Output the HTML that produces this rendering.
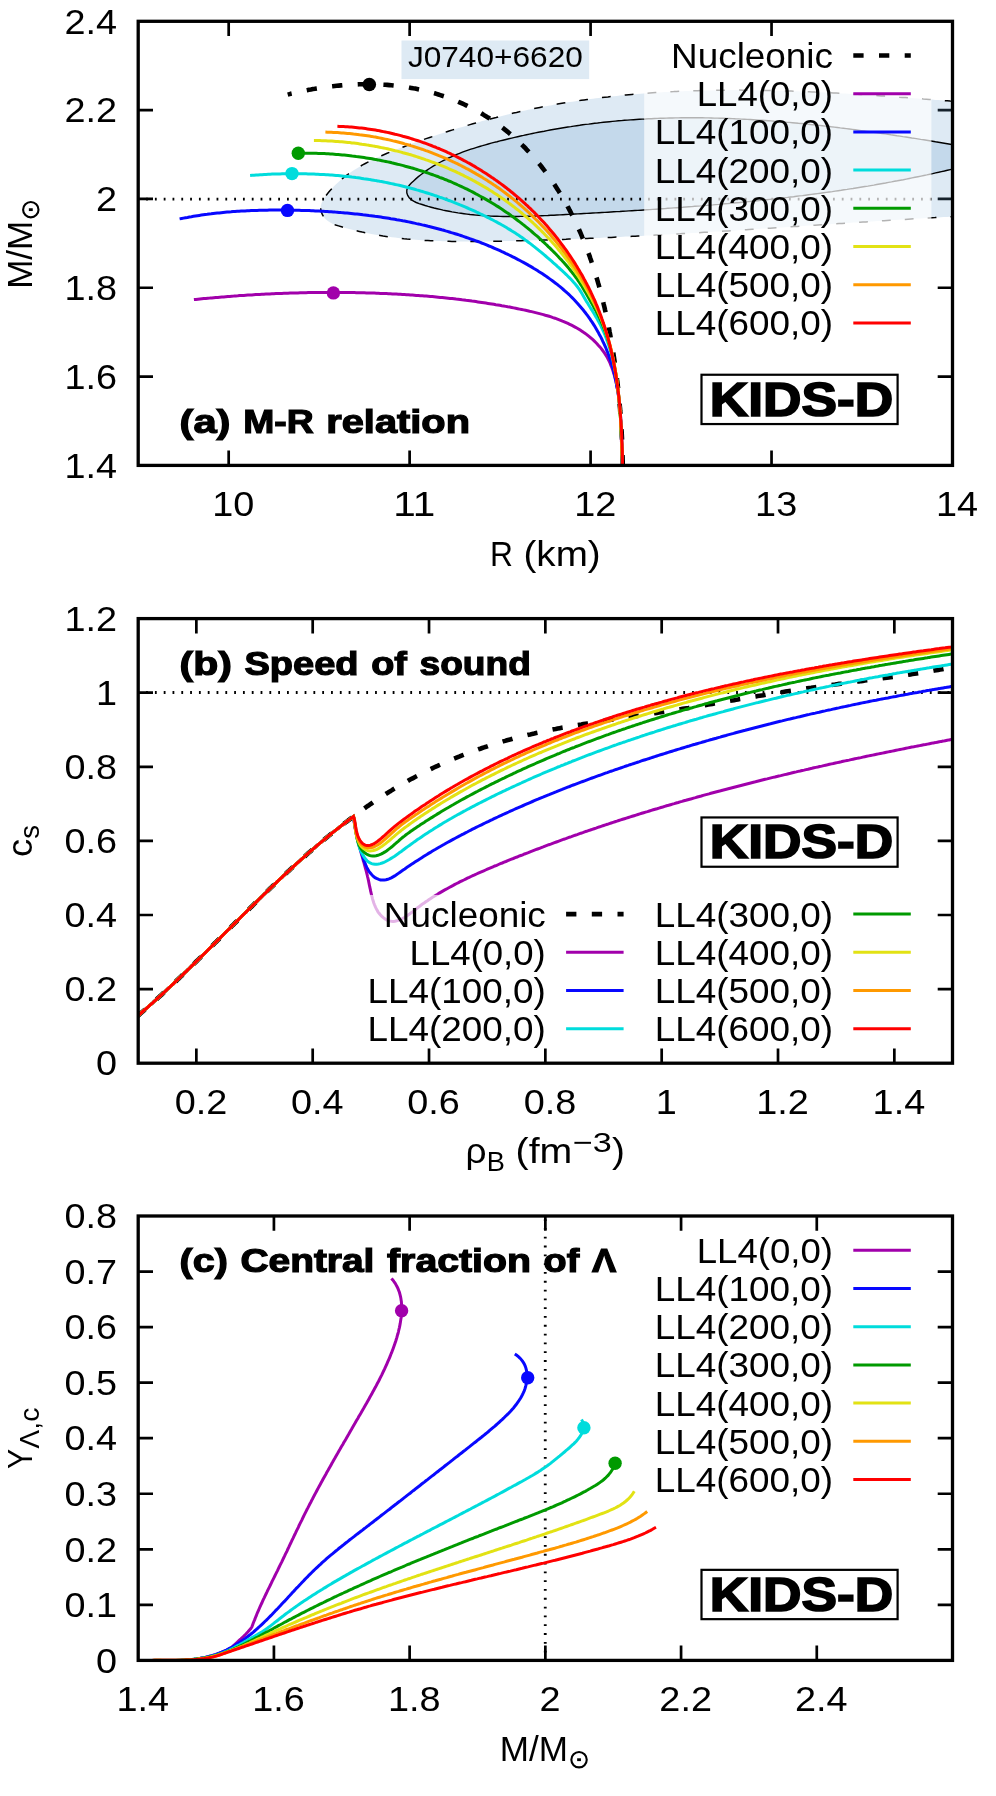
<!DOCTYPE html>
<html><head><meta charset="utf-8"><title>KIDS-D</title>
<style>html,body{margin:0;padding:0;background:#fff}svg{display:block;will-change:transform}text{font-family:"Liberation Sans", sans-serif;fill:#000}</style></head><body>
<svg width="996" height="1796" viewBox="0 0 996 1796" fill="none" stroke-linecap="butt" stroke-linejoin="miter">
<rect width="996" height="1796" fill="#fff"/>
<defs>
<clipPath id="ca"><rect x="138.20" y="21.30" width="814.30" height="444.10"/></clipPath>
<clipPath id="cb"><rect x="138.20" y="618.60" width="814.30" height="444.60"/></clipPath>
<clipPath id="cc"><rect x="138.20" y="1216.00" width="814.30" height="444.40"/></clipPath>
</defs>
<path d="M228.68,465.40 v-14.80 M228.68,21.30 v14.80 M409.63,465.40 v-14.80 M409.63,21.30 v14.80 M590.59,465.40 v-14.80 M590.59,21.30 v14.80 M771.54,465.40 v-14.80 M771.54,21.30 v14.80 M138.20,376.58 h14.80 M952.50,376.58 h-14.80 M138.20,287.76 h14.80 M952.50,287.76 h-14.80 M138.20,198.94 h14.80 M952.50,198.94 h-14.80 M138.20,110.12 h14.80 M952.50,110.12 h-14.80" stroke="#000" stroke-width="2.70"/>
<g clip-path="url(#ca)">
<path d="M962.0,102.0 959.0,101.8 956.1,101.5 953.1,101.3 950.1,101.1 947.1,100.8 944.2,100.6 941.2,100.3 938.2,100.1 935.2,99.9 932.2,99.6 929.3,99.4 926.3,99.2 923.3,99.0 920.3,98.7 917.3,98.5 914.3,98.3 911.3,98.0 908.3,97.8 905.4,97.6 902.4,97.4 899.4,97.2 896.4,96.9 893.4,96.7 890.4,96.5 887.4,96.3 884.4,96.1 881.4,95.9 878.4,95.7 875.4,95.5 872.4,95.3 869.4,95.1 866.4,94.9 863.4,94.7 860.4,94.5 857.4,94.3 854.3,94.1 851.3,94.0 848.3,93.8 845.3,93.6 842.3,93.4 839.3,93.3 836.3,93.1 833.3,92.9 830.3,92.8 827.3,92.6 824.2,92.5 821.2,92.3 818.2,92.2 815.2,92.1 812.2,91.9 809.2,91.8 806.2,91.7 803.1,91.5 800.1,91.4 797.1,91.3 794.1,91.2 791.1,91.1 788.1,91.0 785.1,90.9 782.0,90.8 779.0,90.7 776.0,90.7 773.0,90.6 770.0,90.5 767.0,90.5 764.0,90.4 760.9,90.4 757.9,90.3 754.9,90.3 751.9,90.2 748.9,90.2 745.9,90.2 742.9,90.2 739.8,90.1 736.8,90.1 733.8,90.1 730.8,90.1 727.8,90.2 724.8,90.2 721.8,90.2 718.8,90.2 715.7,90.3 712.7,90.3 709.7,90.4 706.7,90.4 703.7,90.5 700.7,90.6 697.7,90.7 694.7,90.7 691.7,90.8 688.7,90.9 685.7,91.1 682.7,91.2 679.7,91.3 676.7,91.4 673.7,91.6 670.7,91.7 667.7,91.9 664.7,92.1 661.7,92.2 658.7,92.4 655.7,92.6 652.7,92.8 649.7,93.0 646.7,93.2 643.7,93.4 640.7,93.7 637.7,93.9 634.7,94.2 631.8,94.4 628.8,94.7 625.8,95.0 622.8,95.3 619.8,95.6 616.8,95.9 613.9,96.2 610.9,96.5 607.9,96.9 604.9,97.2 602.0,97.6 599.0,97.9 596.0,98.3 593.0,98.7 590.1,99.1 587.1,99.5 584.1,99.9 581.2,100.3 578.2,100.8 575.3,101.2 572.3,101.7 569.3,102.1 566.4,102.6 563.4,103.1 560.5,103.6 557.5,104.1 554.6,104.6 551.7,105.2 548.7,105.7 545.8,106.3 542.8,106.8 539.9,107.4 537.0,108.0 534.0,108.6 531.1,109.2 528.2,109.8 525.2,110.5 522.3,111.1 519.4,111.8 516.5,112.5 513.5,113.1 510.6,113.8 507.7,114.5 504.8,115.2 501.9,116.0 499.0,116.7 496.1,117.5 493.2,118.2 490.2,119.0 487.3,119.8 484.4,120.5 481.5,121.3 478.7,122.2 475.8,123.0 472.9,123.8 470.0,124.6 467.1,125.5 464.2,126.4 461.3,127.2 458.4,128.1 455.6,129.0 452.7,129.9 449.8,130.8 446.9,131.7 444.0,132.7 441.2,133.6 438.3,134.6 435.4,135.5 432.6,136.5 429.7,137.5 426.9,138.4 424.0,139.4 421.1,140.4 418.3,141.5 415.4,142.5 412.6,143.5 409.7,144.6 406.9,145.6 404.0,146.7 401.2,147.7 398.4,148.8 395.5,149.9 392.7,151.0 389.9,152.2 387.1,153.3 384.3,154.5 381.5,155.7 378.7,156.9 376.0,158.1 373.3,159.4 370.6,160.7 367.9,162.1 365.3,163.5 362.6,164.9 360.1,166.4 357.5,167.9 355.0,169.5 352.5,171.1 350.1,172.7 347.7,174.5 345.3,176.2 343.0,178.1 340.7,180.0 338.5,182.0 336.3,184.0 334.2,186.1 332.2,188.3 330.1,190.5 328.2,192.8 326.3,195.2 324.5,197.7 322.9,200.3 321.6,203.0 320.8,205.8 320.7,208.8 321.3,211.8 322.4,214.7 323.9,217.2 325.7,219.3 327.9,221.1 330.3,222.6 332.9,223.9 335.7,225.0 338.5,225.9 341.5,226.8 344.4,227.7 347.4,228.5 350.4,229.3 353.3,230.0 356.3,230.7 359.3,231.4 362.2,232.1 365.2,232.7 368.2,233.3 371.1,233.9 374.1,234.5 377.1,235.0 380.1,235.5 383.1,236.0 386.0,236.4 389.0,236.8 392.0,237.3 395.0,237.6 398.0,238.0 401.0,238.3 403.9,238.7 406.9,239.0 409.9,239.2 412.9,239.5 415.9,239.7 418.9,240.0 421.9,240.2 424.9,240.4 427.9,240.5 430.9,240.7 433.9,240.8 436.9,240.9 439.9,241.1 442.9,241.2 445.9,241.2 448.9,241.3 451.9,241.4 454.9,241.4 457.9,241.5 460.9,241.5 463.9,241.5 466.9,241.5 469.9,241.5 472.9,241.5 475.9,241.5 478.9,241.5 481.9,241.4 484.9,241.4 487.9,241.4 490.9,241.3 493.9,241.3 496.9,241.2 500.0,241.2 503.0,241.1 506.0,241.0 509.0,241.0 512.0,240.9 515.0,240.8 518.0,240.8 521.0,240.7 524.0,240.6 527.0,240.5 530.0,240.4 533.0,240.3 536.0,240.3 539.0,240.2 542.0,240.1 545.0,240.0 548.0,239.9 551.0,239.8 554.0,239.7 557.0,239.6 560.0,239.5 563.0,239.4 566.0,239.3 569.0,239.1 572.0,239.0 575.0,238.9 578.1,238.8 581.1,238.7 584.1,238.6 587.1,238.4 590.1,238.3 593.1,238.2 596.1,238.0 599.1,237.9 602.1,237.8 605.1,237.6 608.1,237.5 611.1,237.4 614.1,237.2 617.1,237.1 620.1,236.9 623.1,236.8 626.1,236.6 629.1,236.5 632.1,236.3 635.1,236.2 638.1,236.0 641.1,235.9 644.1,235.7 647.1,235.6 650.1,235.4 653.1,235.3 656.1,235.1 659.1,234.9 662.1,234.8 665.1,234.6 668.1,234.4 671.1,234.3 674.1,234.1 677.1,233.9 680.1,233.8 683.1,233.6 686.1,233.4 689.1,233.2 692.1,233.1 695.1,232.9 698.1,232.7 701.1,232.5 704.1,232.3 707.1,232.2 710.1,232.0 713.1,231.8 716.1,231.6 719.1,231.4 722.1,231.2 725.1,231.0 728.1,230.9 731.1,230.7 734.1,230.5 737.1,230.3 740.1,230.1 743.1,229.9 746.1,229.7 749.1,229.5 752.1,229.3 755.1,229.1 758.1,229.0 761.1,228.8 764.1,228.6 767.1,228.4 770.1,228.2 773.1,228.0 776.1,227.8 779.1,227.6 782.1,227.4 785.1,227.2 788.1,227.0 791.1,226.8 794.1,226.6 797.1,226.4 800.1,226.2 803.1,226.0 806.1,225.8 809.1,225.6 812.1,225.4 815.0,225.2 818.0,225.0 821.0,224.8 824.0,224.6 827.0,224.4 830.0,224.2 833.0,224.0 836.0,223.8 839.0,223.6 842.0,223.4 845.0,223.2 848.0,223.0 851.0,222.8 854.0,222.6 857.0,222.5 860.0,222.3 863.0,222.1 866.0,221.9 869.0,221.7 872.0,221.5 875.0,221.3 878.0,221.1 881.0,220.9 884.0,220.7 887.0,220.5 890.0,220.3 893.0,220.1 896.0,219.9 899.0,219.8 902.0,219.6 905.0,219.4 908.0,219.2 911.0,219.0 914.0,218.8 917.0,218.6 920.0,218.5 923.0,218.3 926.0,218.1 929.0,217.9 932.0,217.7 935.0,217.6 938.0,217.4 941.0,217.2 944.0,217.0 947.0,216.9 950.0,216.7 953.0,216.5 956.0,216.3 959.0,216.2 962.0,216.0 Z" fill="#649bcd" fill-opacity="0.21" stroke="none"/>
<path d="M962.0,146.2 959.1,145.7 956.1,145.2 953.2,144.7 950.2,144.2 947.3,143.7 944.3,143.2 941.4,142.7 938.4,142.2 935.5,141.8 932.5,141.3 929.6,140.8 926.6,140.3 923.7,139.8 920.7,139.4 917.7,138.9 914.8,138.4 911.8,138.0 908.8,137.5 905.9,137.0 902.9,136.6 899.9,136.1 897.0,135.7 894.0,135.2 891.0,134.8 888.0,134.3 885.1,133.9 882.1,133.5 879.1,133.0 876.1,132.6 873.2,132.2 870.2,131.8 867.2,131.4 864.2,131.0 861.2,130.6 858.2,130.2 855.2,129.8 852.3,129.4 849.3,129.0 846.3,128.6 843.3,128.2 840.3,127.9 837.3,127.5 834.3,127.1 831.3,126.8 828.3,126.4 825.3,126.1 822.3,125.7 819.3,125.4 816.3,125.1 813.4,124.8 810.4,124.5 807.4,124.1 804.4,123.8 801.4,123.5 798.4,123.3 795.4,123.0 792.4,122.7 789.4,122.4 786.4,122.2 783.4,121.9 780.4,121.7 777.4,121.4 774.3,121.2 771.3,120.9 768.3,120.7 765.3,120.5 762.3,120.3 759.3,120.1 756.3,119.9 753.3,119.7 750.3,119.5 747.3,119.4 744.3,119.2 741.3,119.1 738.3,118.9 735.3,118.8 732.3,118.6 729.3,118.5 726.3,118.4 723.3,118.3 720.3,118.2 717.3,118.1 714.3,118.1 711.3,118.0 708.3,117.9 705.3,117.9 702.3,117.8 699.3,117.8 696.3,117.8 693.3,117.8 690.3,117.8 687.3,117.8 684.3,117.8 681.3,117.8 678.3,117.9 675.3,117.9 672.3,118.0 669.3,118.0 666.3,118.1 663.3,118.2 660.3,118.3 657.3,118.4 654.3,118.5 651.3,118.7 648.3,118.8 645.3,119.0 642.3,119.1 639.3,119.3 636.3,119.5 633.4,119.7 630.4,119.9 627.4,120.1 624.4,120.3 621.4,120.6 618.4,120.8 615.4,121.1 612.5,121.4 609.5,121.7 606.5,122.0 603.5,122.3 600.5,122.6 597.6,123.0 594.6,123.3 591.6,123.7 588.6,124.1 585.7,124.4 582.7,124.8 579.7,125.3 576.7,125.7 573.8,126.1 570.8,126.6 567.8,127.0 564.9,127.5 561.9,128.0 559.0,128.5 556.0,129.0 553.0,129.5 550.1,130.0 547.1,130.6 544.2,131.2 541.2,131.7 538.3,132.3 535.3,132.9 532.4,133.5 529.4,134.1 526.5,134.7 523.5,135.4 520.6,136.0 517.6,136.7 514.7,137.4 511.7,138.1 508.8,138.8 505.9,139.5 502.9,140.2 500.0,140.9 497.1,141.7 494.1,142.4 491.2,143.2 488.3,144.0 485.4,144.8 482.5,145.7 479.6,146.5 476.7,147.4 473.8,148.3 470.9,149.2 468.1,150.2 465.2,151.2 462.4,152.2 459.6,153.3 456.8,154.4 454.1,155.6 451.3,156.8 448.6,158.0 445.9,159.3 443.2,160.6 440.6,162.0 438.0,163.4 435.4,164.9 432.8,166.4 430.3,168.0 427.8,169.7 425.3,171.4 422.9,173.2 420.5,175.0 418.1,176.9 415.8,178.9 413.6,180.9 411.3,183.1 409.3,185.3 407.7,187.6 406.8,190.1 406.8,192.8 407.7,195.5 409.2,197.7 411.2,199.6 413.6,201.2 416.2,202.5 419.1,203.6 422.1,204.5 425.1,205.5 428.1,206.4 431.1,207.2 434.1,208.0 437.1,208.7 440.1,209.4 443.1,210.1 446.1,210.7 449.1,211.3 452.0,211.9 455.0,212.4 458.0,212.9 461.0,213.3 464.0,213.7 467.0,214.1 470.0,214.5 473.0,214.8 476.0,215.1 479.0,215.3 482.0,215.6 485.0,215.8 488.0,215.9 491.0,216.1 494.0,216.2 497.0,216.3 500.0,216.4 503.0,216.5 506.0,216.5 508.9,216.5 511.9,216.5 514.9,216.5 517.9,216.5 520.9,216.4 523.9,216.4 526.9,216.3 529.9,216.2 532.9,216.1 535.9,216.0 538.9,215.9 541.9,215.7 544.9,215.6 547.9,215.5 550.9,215.3 553.9,215.2 556.9,215.0 559.9,214.9 562.9,214.7 565.9,214.5 568.9,214.4 571.9,214.2 574.9,214.0 577.9,213.9 580.9,213.7 583.9,213.5 586.9,213.4 589.9,213.2 592.9,213.0 595.9,212.9 598.9,212.7 601.9,212.5 604.9,212.4 607.9,212.2 610.9,212.0 613.9,211.8 616.9,211.6 619.9,211.5 622.9,211.3 625.9,211.1 628.9,210.9 631.9,210.7 634.9,210.5 637.9,210.4 640.9,210.2 643.9,210.0 646.9,209.8 649.9,209.6 652.9,209.4 655.9,209.2 658.9,209.0 661.9,208.8 664.9,208.6 667.9,208.3 670.9,208.1 673.9,207.9 676.9,207.7 679.9,207.5 682.9,207.3 685.9,207.0 688.9,206.8 691.9,206.6 694.9,206.3 697.9,206.1 700.9,205.9 703.9,205.6 706.9,205.4 709.9,205.1 712.9,204.9 715.8,204.6 718.8,204.4 721.8,204.1 724.8,203.8 727.8,203.6 730.8,203.3 733.8,203.0 736.8,202.7 739.8,202.5 742.8,202.2 745.8,201.9 748.8,201.6 751.8,201.3 754.8,201.0 757.7,200.7 760.7,200.4 763.7,200.1 766.7,199.7 769.7,199.4 772.7,199.1 775.7,198.8 778.7,198.4 781.6,198.1 784.6,197.7 787.6,197.4 790.6,197.0 793.6,196.7 796.6,196.3 799.5,195.9 802.5,195.6 805.5,195.2 808.5,194.8 811.4,194.4 814.4,194.0 817.4,193.6 820.4,193.2 823.3,192.8 826.3,192.4 829.3,192.0 832.3,191.6 835.2,191.1 838.2,190.7 841.2,190.3 844.1,189.8 847.1,189.4 850.1,188.9 853.0,188.5 856.0,188.0 859.0,187.5 861.9,187.0 864.9,186.5 867.9,186.1 870.8,185.6 873.8,185.1 876.7,184.5 879.7,184.0 882.6,183.5 885.6,183.0 888.6,182.4 891.5,181.9 894.5,181.3 897.4,180.8 900.4,180.2 903.3,179.7 906.3,179.1 909.2,178.5 912.1,177.9 915.1,177.3 918.0,176.7 921.0,176.1 923.9,175.5 926.8,174.9 929.8,174.2 932.7,173.6 935.7,172.9 938.6,172.3 941.5,171.6 944.4,171.0 947.4,170.3 950.3,169.6 953.2,168.9 956.2,168.2 959.1,167.5 962.0,166.8 Z" fill="#649bcd" fill-opacity="0.21" stroke="none"/>
<path d="M962.0,102.0 959.0,101.8 956.1,101.5 953.1,101.3 950.1,101.1 947.1,100.8 944.2,100.6 941.2,100.3 938.2,100.1 935.2,99.9 932.2,99.6 929.3,99.4 926.3,99.2 923.3,99.0 920.3,98.7 917.3,98.5 914.3,98.3 911.3,98.0 908.3,97.8 905.4,97.6 902.4,97.4 899.4,97.2 896.4,96.9 893.4,96.7 890.4,96.5 887.4,96.3 884.4,96.1 881.4,95.9 878.4,95.7 875.4,95.5 872.4,95.3 869.4,95.1 866.4,94.9 863.4,94.7 860.4,94.5 857.4,94.3 854.3,94.1 851.3,94.0 848.3,93.8 845.3,93.6 842.3,93.4 839.3,93.3 836.3,93.1 833.3,92.9 830.3,92.8 827.3,92.6 824.2,92.5 821.2,92.3 818.2,92.2 815.2,92.1 812.2,91.9 809.2,91.8 806.2,91.7 803.1,91.5 800.1,91.4 797.1,91.3 794.1,91.2 791.1,91.1 788.1,91.0 785.1,90.9 782.0,90.8 779.0,90.7 776.0,90.7 773.0,90.6 770.0,90.5 767.0,90.5 764.0,90.4 760.9,90.4 757.9,90.3 754.9,90.3 751.9,90.2 748.9,90.2 745.9,90.2 742.9,90.2 739.8,90.1 736.8,90.1 733.8,90.1 730.8,90.1 727.8,90.2 724.8,90.2 721.8,90.2 718.8,90.2 715.7,90.3 712.7,90.3 709.7,90.4 706.7,90.4 703.7,90.5 700.7,90.6 697.7,90.7 694.7,90.7 691.7,90.8 688.7,90.9 685.7,91.1 682.7,91.2 679.7,91.3 676.7,91.4 673.7,91.6 670.7,91.7 667.7,91.9 664.7,92.1 661.7,92.2 658.7,92.4 655.7,92.6 652.7,92.8 649.7,93.0 646.7,93.2 643.7,93.4 640.7,93.7 637.7,93.9 634.7,94.2 631.8,94.4 628.8,94.7 625.8,95.0 622.8,95.3 619.8,95.6 616.8,95.9 613.9,96.2 610.9,96.5 607.9,96.9 604.9,97.2 602.0,97.6 599.0,97.9 596.0,98.3 593.0,98.7 590.1,99.1 587.1,99.5 584.1,99.9 581.2,100.3 578.2,100.8 575.3,101.2 572.3,101.7 569.3,102.1 566.4,102.6 563.4,103.1 560.5,103.6 557.5,104.1 554.6,104.6 551.7,105.2 548.7,105.7 545.8,106.3 542.8,106.8 539.9,107.4 537.0,108.0 534.0,108.6 531.1,109.2 528.2,109.8 525.2,110.5 522.3,111.1 519.4,111.8 516.5,112.5 513.5,113.1 510.6,113.8 507.7,114.5 504.8,115.2 501.9,116.0 499.0,116.7 496.1,117.5 493.2,118.2 490.2,119.0 487.3,119.8 484.4,120.5 481.5,121.3 478.7,122.2 475.8,123.0 472.9,123.8 470.0,124.6 467.1,125.5 464.2,126.4 461.3,127.2 458.4,128.1 455.6,129.0 452.7,129.9 449.8,130.8 446.9,131.7 444.0,132.7 441.2,133.6 438.3,134.6 435.4,135.5 432.6,136.5 429.7,137.5 426.9,138.4 424.0,139.4 421.1,140.4 418.3,141.5 415.4,142.5 412.6,143.5 409.7,144.6 406.9,145.6 404.0,146.7 401.2,147.7 398.4,148.8 395.5,149.9 392.7,151.0 389.9,152.2 387.1,153.3 384.3,154.5 381.5,155.7 378.7,156.9 376.0,158.1 373.3,159.4 370.6,160.7 367.9,162.1 365.3,163.5 362.6,164.9 360.1,166.4 357.5,167.9 355.0,169.5 352.5,171.1 350.1,172.7 347.7,174.5 345.3,176.2 343.0,178.1 340.7,180.0 338.5,182.0 336.3,184.0 334.2,186.1 332.2,188.3 330.1,190.5 328.2,192.8 326.3,195.2 324.5,197.7 322.9,200.3 321.6,203.0 320.8,205.8 320.7,208.8 321.3,211.8 322.4,214.7 323.9,217.2 325.7,219.3 327.9,221.1 330.3,222.6 332.9,223.9 335.7,225.0 338.5,225.9 341.5,226.8 344.4,227.7 347.4,228.5 350.4,229.3 353.3,230.0 356.3,230.7 359.3,231.4 362.2,232.1 365.2,232.7 368.2,233.3 371.1,233.9 374.1,234.5 377.1,235.0 380.1,235.5 383.1,236.0 386.0,236.4 389.0,236.8 392.0,237.3 395.0,237.6 398.0,238.0 401.0,238.3 403.9,238.7 406.9,239.0 409.9,239.2 412.9,239.5 415.9,239.7 418.9,240.0 421.9,240.2 424.9,240.4 427.9,240.5 430.9,240.7 433.9,240.8 436.9,240.9 439.9,241.1 442.9,241.2 445.9,241.2 448.9,241.3 451.9,241.4 454.9,241.4 457.9,241.5 460.9,241.5 463.9,241.5 466.9,241.5 469.9,241.5 472.9,241.5 475.9,241.5 478.9,241.5 481.9,241.4 484.9,241.4 487.9,241.4 490.9,241.3 493.9,241.3 496.9,241.2 500.0,241.2 503.0,241.1 506.0,241.0 509.0,241.0 512.0,240.9 515.0,240.8 518.0,240.8 521.0,240.7 524.0,240.6 527.0,240.5 530.0,240.4 533.0,240.3 536.0,240.3 539.0,240.2 542.0,240.1 545.0,240.0 548.0,239.9 551.0,239.8 554.0,239.7 557.0,239.6 560.0,239.5 563.0,239.4 566.0,239.3 569.0,239.1 572.0,239.0 575.0,238.9 578.1,238.8 581.1,238.7 584.1,238.6 587.1,238.4 590.1,238.3 593.1,238.2 596.1,238.0 599.1,237.9 602.1,237.8 605.1,237.6 608.1,237.5 611.1,237.4 614.1,237.2 617.1,237.1 620.1,236.9 623.1,236.8 626.1,236.6 629.1,236.5 632.1,236.3 635.1,236.2 638.1,236.0 641.1,235.9 644.1,235.7 647.1,235.6 650.1,235.4 653.1,235.3 656.1,235.1 659.1,234.9 662.1,234.8 665.1,234.6 668.1,234.4 671.1,234.3 674.1,234.1 677.1,233.9 680.1,233.8 683.1,233.6 686.1,233.4 689.1,233.2 692.1,233.1 695.1,232.9 698.1,232.7 701.1,232.5 704.1,232.3 707.1,232.2 710.1,232.0 713.1,231.8 716.1,231.6 719.1,231.4 722.1,231.2 725.1,231.0 728.1,230.9 731.1,230.7 734.1,230.5 737.1,230.3 740.1,230.1 743.1,229.9 746.1,229.7 749.1,229.5 752.1,229.3 755.1,229.1 758.1,229.0 761.1,228.8 764.1,228.6 767.1,228.4 770.1,228.2 773.1,228.0 776.1,227.8 779.1,227.6 782.1,227.4 785.1,227.2 788.1,227.0 791.1,226.8 794.1,226.6 797.1,226.4 800.1,226.2 803.1,226.0 806.1,225.8 809.1,225.6 812.1,225.4 815.0,225.2 818.0,225.0 821.0,224.8 824.0,224.6 827.0,224.4 830.0,224.2 833.0,224.0 836.0,223.8 839.0,223.6 842.0,223.4 845.0,223.2 848.0,223.0 851.0,222.8 854.0,222.6 857.0,222.5 860.0,222.3 863.0,222.1 866.0,221.9 869.0,221.7 872.0,221.5 875.0,221.3 878.0,221.1 881.0,220.9 884.0,220.7 887.0,220.5 890.0,220.3 893.0,220.1 896.0,219.9 899.0,219.8 902.0,219.6 905.0,219.4 908.0,219.2 911.0,219.0 914.0,218.8 917.0,218.6 920.0,218.5 923.0,218.3 926.0,218.1 929.0,217.9 932.0,217.7 935.0,217.6 938.0,217.4 941.0,217.2 944.0,217.0 947.0,216.9 950.0,216.7 953.0,216.5 956.0,216.3 959.0,216.2 962.0,216.0" stroke="#000" stroke-width="1.5" stroke-dasharray="8.8 14.1" stroke-dashoffset="14.46"/>
<path d="M962.0,146.2 959.1,145.7 956.1,145.2 953.2,144.7 950.2,144.2 947.3,143.7 944.3,143.2 941.4,142.7 938.4,142.2 935.5,141.8 932.5,141.3 929.6,140.8 926.6,140.3 923.7,139.8 920.7,139.4 917.7,138.9 914.8,138.4 911.8,138.0 908.8,137.5 905.9,137.0 902.9,136.6 899.9,136.1 897.0,135.7 894.0,135.2 891.0,134.8 888.0,134.3 885.1,133.9 882.1,133.5 879.1,133.0 876.1,132.6 873.2,132.2 870.2,131.8 867.2,131.4 864.2,131.0 861.2,130.6 858.2,130.2 855.2,129.8 852.3,129.4 849.3,129.0 846.3,128.6 843.3,128.2 840.3,127.9 837.3,127.5 834.3,127.1 831.3,126.8 828.3,126.4 825.3,126.1 822.3,125.7 819.3,125.4 816.3,125.1 813.4,124.8 810.4,124.5 807.4,124.1 804.4,123.8 801.4,123.5 798.4,123.3 795.4,123.0 792.4,122.7 789.4,122.4 786.4,122.2 783.4,121.9 780.4,121.7 777.4,121.4 774.3,121.2 771.3,120.9 768.3,120.7 765.3,120.5 762.3,120.3 759.3,120.1 756.3,119.9 753.3,119.7 750.3,119.5 747.3,119.4 744.3,119.2 741.3,119.1 738.3,118.9 735.3,118.8 732.3,118.6 729.3,118.5 726.3,118.4 723.3,118.3 720.3,118.2 717.3,118.1 714.3,118.1 711.3,118.0 708.3,117.9 705.3,117.9 702.3,117.8 699.3,117.8 696.3,117.8 693.3,117.8 690.3,117.8 687.3,117.8 684.3,117.8 681.3,117.8 678.3,117.9 675.3,117.9 672.3,118.0 669.3,118.0 666.3,118.1 663.3,118.2 660.3,118.3 657.3,118.4 654.3,118.5 651.3,118.7 648.3,118.8 645.3,119.0 642.3,119.1 639.3,119.3 636.3,119.5 633.4,119.7 630.4,119.9 627.4,120.1 624.4,120.3 621.4,120.6 618.4,120.8 615.4,121.1 612.5,121.4 609.5,121.7 606.5,122.0 603.5,122.3 600.5,122.6 597.6,123.0 594.6,123.3 591.6,123.7 588.6,124.1 585.7,124.4 582.7,124.8 579.7,125.3 576.7,125.7 573.8,126.1 570.8,126.6 567.8,127.0 564.9,127.5 561.9,128.0 559.0,128.5 556.0,129.0 553.0,129.5 550.1,130.0 547.1,130.6 544.2,131.2 541.2,131.7 538.3,132.3 535.3,132.9 532.4,133.5 529.4,134.1 526.5,134.7 523.5,135.4 520.6,136.0 517.6,136.7 514.7,137.4 511.7,138.1 508.8,138.8 505.9,139.5 502.9,140.2 500.0,140.9 497.1,141.7 494.1,142.4 491.2,143.2 488.3,144.0 485.4,144.8 482.5,145.7 479.6,146.5 476.7,147.4 473.8,148.3 470.9,149.2 468.1,150.2 465.2,151.2 462.4,152.2 459.6,153.3 456.8,154.4 454.1,155.6 451.3,156.8 448.6,158.0 445.9,159.3 443.2,160.6 440.6,162.0 438.0,163.4 435.4,164.9 432.8,166.4 430.3,168.0 427.8,169.7 425.3,171.4 422.9,173.2 420.5,175.0 418.1,176.9 415.8,178.9 413.6,180.9 411.3,183.1 409.3,185.3 407.7,187.6 406.8,190.1 406.8,192.8 407.7,195.5 409.2,197.7 411.2,199.6 413.6,201.2 416.2,202.5 419.1,203.6 422.1,204.5 425.1,205.5 428.1,206.4 431.1,207.2 434.1,208.0 437.1,208.7 440.1,209.4 443.1,210.1 446.1,210.7 449.1,211.3 452.0,211.9 455.0,212.4 458.0,212.9 461.0,213.3 464.0,213.7 467.0,214.1 470.0,214.5 473.0,214.8 476.0,215.1 479.0,215.3 482.0,215.6 485.0,215.8 488.0,215.9 491.0,216.1 494.0,216.2 497.0,216.3 500.0,216.4 503.0,216.5 506.0,216.5 508.9,216.5 511.9,216.5 514.9,216.5 517.9,216.5 520.9,216.4 523.9,216.4 526.9,216.3 529.9,216.2 532.9,216.1 535.9,216.0 538.9,215.9 541.9,215.7 544.9,215.6 547.9,215.5 550.9,215.3 553.9,215.2 556.9,215.0 559.9,214.9 562.9,214.7 565.9,214.5 568.9,214.4 571.9,214.2 574.9,214.0 577.9,213.9 580.9,213.7 583.9,213.5 586.9,213.4 589.9,213.2 592.9,213.0 595.9,212.9 598.9,212.7 601.9,212.5 604.9,212.4 607.9,212.2 610.9,212.0 613.9,211.8 616.9,211.6 619.9,211.5 622.9,211.3 625.9,211.1 628.9,210.9 631.9,210.7 634.9,210.5 637.9,210.4 640.9,210.2 643.9,210.0 646.9,209.8 649.9,209.6 652.9,209.4 655.9,209.2 658.9,209.0 661.9,208.8 664.9,208.6 667.9,208.3 670.9,208.1 673.9,207.9 676.9,207.7 679.9,207.5 682.9,207.3 685.9,207.0 688.9,206.8 691.9,206.6 694.9,206.3 697.9,206.1 700.9,205.9 703.9,205.6 706.9,205.4 709.9,205.1 712.9,204.9 715.8,204.6 718.8,204.4 721.8,204.1 724.8,203.8 727.8,203.6 730.8,203.3 733.8,203.0 736.8,202.7 739.8,202.5 742.8,202.2 745.8,201.9 748.8,201.6 751.8,201.3 754.8,201.0 757.7,200.7 760.7,200.4 763.7,200.1 766.7,199.7 769.7,199.4 772.7,199.1 775.7,198.8 778.7,198.4 781.6,198.1 784.6,197.7 787.6,197.4 790.6,197.0 793.6,196.7 796.6,196.3 799.5,195.9 802.5,195.6 805.5,195.2 808.5,194.8 811.4,194.4 814.4,194.0 817.4,193.6 820.4,193.2 823.3,192.8 826.3,192.4 829.3,192.0 832.3,191.6 835.2,191.1 838.2,190.7 841.2,190.3 844.1,189.8 847.1,189.4 850.1,188.9 853.0,188.5 856.0,188.0 859.0,187.5 861.9,187.0 864.9,186.5 867.9,186.1 870.8,185.6 873.8,185.1 876.7,184.5 879.7,184.0 882.6,183.5 885.6,183.0 888.6,182.4 891.5,181.9 894.5,181.3 897.4,180.8 900.4,180.2 903.3,179.7 906.3,179.1 909.2,178.5 912.1,177.9 915.1,177.3 918.0,176.7 921.0,176.1 923.9,175.5 926.8,174.9 929.8,174.2 932.7,173.6 935.7,172.9 938.6,172.3 941.5,171.6 944.4,171.0 947.4,170.3 950.3,169.6 953.2,168.9 956.2,168.2 959.1,167.5 962.0,166.8" stroke="#000" stroke-width="1.4"/>
</g>
<rect x="401.5" y="40.5" width="187.7" height="38.6" fill="#649bcd" fill-opacity="0.21" stroke="none"/>
<text x="407.91" y="67.40" font-size="30.00" textLength="174.88" lengthAdjust="spacingAndGlyphs">J0740+6620</text>
<path d="M137.30,199.14 L936.70,199.14" stroke="#000" stroke-width="2.8" stroke-dasharray="1.8 7.006"/>
<g clip-path="url(#ca)">
<path d="M287.7,94.6 289.6,94.1 291.5,93.6 293.4,93.2 295.3,92.7 297.3,92.3 299.2,91.8 301.1,91.4 303.1,91.0 305.0,90.6 307.0,90.2 308.9,89.8 310.9,89.5 312.9,89.1 314.8,88.8 316.8,88.4 318.8,88.1 320.8,87.8 322.7,87.5 324.7,87.2 326.7,86.9 328.7,86.7 330.7,86.4 332.7,86.2 334.7,86.0 336.7,85.8 338.7,85.6 340.8,85.4 342.8,85.2 344.8,85.0 346.8,84.9 348.8,84.8 350.8,84.7 352.9,84.5 354.9,84.5 356.9,84.4 358.9,84.3 361.0,84.3 363.0,84.2 365.0,84.2 367.0,84.2 369.1,84.2 371.1,84.2 373.1,84.3 375.1,84.3 377.2,84.4 379.2,84.5 381.2,84.6 383.2,84.7 385.2,84.8 387.2,84.9 389.3,85.1 391.3,85.3 393.3,85.5 395.3,85.7 397.3,85.9 399.3,86.1 401.3,86.4 403.3,86.7 405.3,86.9 407.3,87.2 409.2,87.6 411.2,87.9 413.2,88.3 415.2,88.6 417.1,89.0 419.1,89.4 421.1,89.8 423.0,90.3 425.0,90.7 426.9,91.2 428.8,91.7 430.8,92.2 432.7,92.8 434.6,93.3 436.5,93.9 438.4,94.5 440.3,95.1 442.2,95.7 444.1,96.3 446.0,97.0 447.9,97.6 449.8,98.3 451.6,99.1 453.5,99.8 455.3,100.5 457.2,101.3 459.0,102.1 460.8,102.9 462.6,103.7 464.4,104.5 466.2,105.4 468.0,106.3 469.8,107.2 471.6,108.1 473.3,109.0 475.1,109.9 476.8,110.9 478.6,111.8 480.3,112.8 482.0,113.8 483.7,114.9 485.4,115.9 487.1,117.0 488.8,118.0 490.4,119.1 492.1,120.2 493.7,121.3 495.4,122.5 497.0,123.6 498.6,124.8 500.2,126.0 501.8,127.2 503.4,128.4 504.9,129.6 506.5,130.9 508.0,132.1 509.5,133.4 511.1,134.7 512.6,136.0 514.1,137.3 515.5,138.7 517.0,140.0 518.5,141.4 519.9,142.8 521.3,144.2 522.8,145.6 524.2,147.0 525.6,148.4 526.9,149.9 528.3,151.3 529.7,152.8 531.0,154.3 532.4,155.7 533.7,157.3 535.0,158.8 536.3,160.3 537.6,161.8 538.9,163.4 540.1,164.9 541.4,166.5 542.6,168.1 543.8,169.7 545.1,171.3 546.3,172.9 547.4,174.5 548.6,176.1 549.8,177.7 550.9,179.4 552.1,181.0 553.2,182.7 554.3,184.3 555.4,186.0 556.5,187.7 557.6,189.4 558.7,191.1 559.7,192.8 560.8,194.5 561.8,196.2 562.8,197.9 563.8,199.7 564.8,201.4 565.8,203.1 566.8,204.9 567.7,206.6 568.7,208.4 569.6,210.2 570.5,211.9 571.4,213.7 572.3,215.5 573.2,217.3 574.1,219.1 575.0,220.9 575.8,222.7 576.7,224.5 577.5,226.3 578.4,228.1 579.2,230.0 580.0,231.8 580.8,233.6 581.6,235.5 582.3,237.3 583.1,239.2 583.9,241.0 584.6,242.9 585.3,244.8 586.1,246.6 586.8,248.5 587.5,250.4 588.2,252.3 588.9,254.2 589.6,256.1 590.2,258.0 590.9,259.9 591.5,261.8 592.2,263.7 592.8,265.6 593.4,267.5 594.0,269.4 594.7,271.3 595.3,273.2 595.8,275.2 596.4,277.1 597.0,279.0 597.6,281.0 598.1,282.9 598.7,284.8 599.2,286.8 599.7,288.7 600.3,290.7 600.8,292.6 601.3,294.5 601.8,296.5 602.3,298.5 602.8,300.4 603.3,302.4 603.7,304.3 604.2,306.3 604.7,308.2 605.1,310.2 605.6,312.2 606.0,314.1 606.4,316.1 606.8,318.1 607.3,320.0 607.7,322.0 608.1,324.0 608.5,325.9 608.9,327.9 609.3,329.9 609.6,331.9 610.0,333.8 610.4,335.8 610.7,337.8 611.1,339.8 611.4,341.7 611.8,343.7 612.1,345.7 612.5,347.6 612.8,349.6 613.1,351.6 613.4,353.6 613.7,355.5 614.0,357.5 614.3,359.5 614.6,361.5 614.9,363.4 615.2,365.4 615.5,367.4 615.8,369.4 616.0,371.4 616.3,373.3 616.5,375.3 616.8,377.3 617.0,379.3 617.3,381.3 617.5,383.2 617.7,385.2 618.0,387.2 618.2,389.2 618.4,391.2 618.6,393.2 618.8,395.1 619.0,397.1 619.2,399.1 619.4,401.1 619.5,403.1 619.7,405.1 619.9,407.1 620.1,409.0 620.2,411.0 620.4,413.0 620.5,415.0 620.7,417.0 620.8,419.0 620.9,421.0 621.1,423.0 621.2,425.0 621.3,427.0 621.4,429.0 621.6,431.0 621.7,432.9 621.8,434.9 621.9,436.9 622.0,438.9 622.1,440.9 622.1,442.9 622.2,444.9 622.3,446.9 622.4,448.9 622.4,450.9 622.5,453.0 622.5,455.0 622.6,457.0 622.6,459.0 622.7,461.0 622.7,463.0 622.8,465.0 622.8,467.0" stroke="#000000" stroke-width="4.60" stroke-dasharray="10.3 15.4" stroke-dashoffset="6.18"/>
<path d="M193.9,299.6 195.9,299.4 197.9,299.2 199.9,299.0 201.9,298.8 203.8,298.6 205.8,298.4 207.8,298.2 209.8,298.1 211.8,297.9 213.8,297.7 215.8,297.5 217.8,297.4 219.8,297.2 221.8,297.0 223.8,296.9 225.8,296.7 227.8,296.5 229.8,296.4 231.8,296.2 233.8,296.1 235.8,295.9 237.8,295.8 239.8,295.6 241.8,295.5 243.8,295.4 245.8,295.2 247.8,295.1 249.8,295.0 251.8,294.9 253.8,294.7 255.8,294.6 257.8,294.5 259.8,294.4 261.8,294.3 263.8,294.2 265.9,294.1 267.9,294.0 269.9,293.9 271.9,293.8 273.9,293.7 275.9,293.6 277.9,293.5 279.9,293.4 281.9,293.4 283.9,293.3 285.9,293.2 288.0,293.2 290.0,293.1 292.0,293.0 294.0,293.0 296.0,292.9 298.0,292.9 300.0,292.8 302.0,292.8 304.1,292.7 306.1,292.7 308.1,292.6 310.1,292.6 312.1,292.6 314.1,292.5 316.1,292.5 318.1,292.5 320.1,292.5 322.2,292.4 324.2,292.4 326.2,292.4 328.2,292.4 330.2,292.4 332.2,292.4 334.2,292.4 336.2,292.4 338.2,292.4 340.3,292.4 342.3,292.5 344.3,292.5 346.3,292.5 348.3,292.5 350.3,292.5 352.3,292.6 354.3,292.6 356.3,292.7 358.3,292.7 360.3,292.7 362.3,292.8 364.4,292.8 366.4,292.9 368.4,293.0 370.4,293.0 372.4,293.1 374.4,293.1 376.4,293.2 378.4,293.3 380.4,293.4 382.4,293.5 384.4,293.5 386.4,293.6 388.4,293.7 390.4,293.8 392.4,293.9 394.4,294.0 396.4,294.1 398.4,294.2 400.4,294.3 402.4,294.5 404.4,294.6 406.4,294.7 408.4,294.8 410.4,295.0 412.4,295.1 414.3,295.2 416.3,295.4 418.3,295.5 420.3,295.7 422.3,295.8 424.3,296.0 426.3,296.1 428.3,296.3 430.3,296.5 432.3,296.6 434.2,296.8 436.2,297.0 438.2,297.2 440.2,297.4 442.2,297.6 444.2,297.8 446.2,298.0 448.2,298.2 450.1,298.4 452.1,298.6 454.1,298.8 456.1,299.1 458.1,299.3 460.1,299.5 462.1,299.8 464.0,300.0 466.0,300.3 468.0,300.5 470.0,300.8 472.0,301.1 474.0,301.3 475.9,301.6 477.9,301.9 479.9,302.2 481.9,302.5 483.9,302.8 485.9,303.1 487.9,303.4 489.8,303.7 491.8,304.0 493.8,304.3 495.8,304.7 497.8,305.0 499.8,305.3 501.8,305.7 503.7,306.0 505.7,306.4 507.7,306.8 509.7,307.1 511.7,307.5 513.7,307.9 515.7,308.3 517.7,308.7 519.6,309.1 521.6,309.5 523.6,309.9 525.6,310.3 527.6,310.7 529.6,311.2 531.6,311.6 533.6,312.1 535.5,312.6 537.5,313.1 539.5,313.6 541.4,314.1 543.4,314.6 545.3,315.2 547.3,315.7 549.2,316.3 551.1,316.9 553.0,317.6 555.0,318.2 556.8,318.9 558.7,319.6 560.6,320.3 562.5,321.1 564.3,321.8 566.1,322.6 567.9,323.4 569.7,324.3 571.5,325.2 573.3,326.1 575.1,327.1 576.8,328.0 578.5,329.0 580.2,330.1 581.9,331.2 583.5,332.3 585.2,333.4 586.8,334.6 588.4,335.9 589.9,337.1 591.4,338.4 592.9,339.7 594.4,341.1 595.8,342.5 597.2,343.9 598.5,345.4 599.9,346.9 601.1,348.4 602.3,350.0 603.5,351.6 604.6,353.2 605.7,354.9 606.7,356.6 607.7,358.3 608.6,360.1 609.5,361.9 610.3,363.7 611.0,365.6 611.8,367.5 612.5,369.4 613.1,371.3 613.7,373.2 614.3,375.1 614.8,377.1 615.3,379.0 615.8,381.0 616.2,383.0 616.7,385.0 617.1,386.9 617.4,388.9 617.8,390.9 618.1,392.9 618.4,394.9 618.7,396.9 618.9,398.9 619.2,400.8 619.4,402.8 619.6,404.8 619.8,406.8 620.0,408.9 620.1,410.9 620.3,412.9 620.4,414.9 620.5,416.9 620.6,418.9 620.7,420.9 620.8,422.9 620.9,424.9 621.0,426.9 621.1,428.9 621.1,431.0 621.2,433.0 621.2,435.0 621.3,437.0 621.4,439.0 621.4,441.0 621.5,443.0 621.5,445.0 621.6,447.0 621.7,449.0 621.7,451.0 621.8,453.1 621.9,455.1 622.0,457.0 622.1,459.0 622.2,461.0 622.3,463.0 622.5,465.0 622.6,467.0" stroke="#a100ab" stroke-width="3.00"/>
<path d="M179.6,218.9 181.6,218.5 183.5,218.1 185.5,217.7 187.5,217.4 189.4,217.0 191.4,216.7 193.4,216.3 195.4,216.0 197.3,215.7 199.3,215.4 201.3,215.1 203.3,214.8 205.2,214.5 207.2,214.3 209.2,214.0 211.2,213.8 213.2,213.5 215.2,213.3 217.2,213.1 219.2,212.9 221.2,212.7 223.1,212.5 225.1,212.3 227.1,212.1 229.1,211.9 231.1,211.8 233.1,211.6 235.1,211.5 237.1,211.3 239.1,211.2 241.1,211.1 243.1,211.0 245.1,210.9 247.1,210.8 249.1,210.7 251.1,210.6 253.1,210.5 255.1,210.5 257.1,210.4 259.1,210.3 261.1,210.3 263.1,210.2 265.1,210.2 267.2,210.2 269.2,210.1 271.2,210.1 273.2,210.1 275.2,210.1 277.2,210.1 279.2,210.1 281.2,210.1 283.2,210.1 285.2,210.1 287.2,210.1 289.2,210.1 291.2,210.1 293.2,210.2 295.2,210.2 297.2,210.3 299.2,210.3 301.2,210.4 303.2,210.4 305.2,210.5 307.2,210.5 309.2,210.6 311.2,210.7 313.2,210.8 315.2,210.9 317.2,211.0 319.2,211.1 321.2,211.2 323.2,211.3 325.2,211.4 327.2,211.5 329.2,211.7 331.2,211.8 333.2,211.9 335.2,212.1 337.1,212.2 339.1,212.4 341.1,212.6 343.1,212.7 345.1,212.9 347.1,213.1 349.1,213.3 351.1,213.5 353.1,213.7 355.1,213.9 357.1,214.1 359.1,214.3 361.1,214.5 363.0,214.8 365.0,215.0 367.0,215.2 369.0,215.5 371.0,215.7 373.0,216.0 375.0,216.3 377.0,216.5 378.9,216.8 380.9,217.1 382.9,217.4 384.9,217.7 386.9,218.0 388.8,218.3 390.8,218.7 392.8,219.0 394.8,219.3 396.7,219.7 398.7,220.0 400.7,220.4 402.7,220.8 404.6,221.1 406.6,221.5 408.6,221.9 410.5,222.3 412.5,222.7 414.4,223.1 416.4,223.6 418.4,224.0 420.3,224.4 422.3,224.9 424.2,225.3 426.2,225.8 428.1,226.3 430.1,226.7 432.0,227.2 433.9,227.7 435.9,228.2 437.8,228.7 439.7,229.2 441.7,229.8 443.6,230.3 445.5,230.9 447.4,231.4 449.4,232.0 451.3,232.6 453.2,233.1 455.1,233.7 457.0,234.3 458.9,234.9 460.8,235.5 462.7,236.2 464.6,236.8 466.5,237.5 468.4,238.1 470.3,238.8 472.2,239.5 474.1,240.1 475.9,240.8 477.8,241.5 479.7,242.2 481.6,243.0 483.4,243.7 485.3,244.4 487.1,245.2 489.0,246.0 490.8,246.7 492.7,247.5 494.5,248.3 496.4,249.1 498.2,249.9 500.0,250.7 501.9,251.6 503.7,252.4 505.5,253.3 507.3,254.1 509.1,255.0 510.9,255.9 512.7,256.8 514.5,257.7 516.3,258.6 518.1,259.6 519.9,260.5 521.7,261.5 523.4,262.4 525.2,263.4 527.0,264.4 528.7,265.4 530.5,266.4 532.2,267.4 533.9,268.5 535.7,269.5 537.4,270.6 539.1,271.7 540.8,272.7 542.5,273.8 544.2,275.0 545.8,276.1 547.5,277.2 549.1,278.4 550.8,279.6 552.4,280.8 554.0,282.0 555.6,283.2 557.2,284.4 558.7,285.7 560.3,286.9 561.8,288.2 563.3,289.5 564.8,290.8 566.3,292.1 567.8,293.5 569.3,294.8 570.7,296.2 572.1,297.6 573.5,299.0 574.9,300.5 576.2,301.9 577.6,303.4 578.9,304.9 580.2,306.4 581.5,307.9 582.8,309.4 584.0,311.0 585.2,312.5 586.4,314.1 587.6,315.7 588.8,317.3 589.9,318.9 591.0,320.6 592.1,322.2 593.2,323.9 594.3,325.6 595.3,327.3 596.3,329.0 597.3,330.7 598.3,332.4 599.2,334.2 600.2,335.9 601.1,337.7 602.0,339.5 602.8,341.3 603.7,343.1 604.5,344.9 605.3,346.7 606.1,348.5 606.8,350.4 607.6,352.2 608.3,354.1 609.0,356.0 609.6,357.9 610.3,359.7 610.9,361.6 611.5,363.5 612.1,365.5 612.6,367.4 613.2,369.3 613.7,371.2 614.2,373.2 614.6,375.1 615.1,377.1 615.5,379.0 615.9,381.0 616.3,383.0 616.7,385.0 617.1,386.9 617.4,388.9 617.7,390.9 618.0,392.9 618.3,394.9 618.6,396.9 618.8,398.9 619.1,400.9 619.3,402.9 619.5,404.9 619.7,406.9 619.9,409.0 620.1,411.0 620.3,413.0 620.4,415.0 620.6,417.0 620.7,419.1 620.9,421.1 621.0,423.1 621.1,425.1 621.2,427.1 621.3,429.2 621.4,431.2 621.5,433.2 621.6,435.2 621.6,437.2 621.7,439.2 621.8,441.2 621.9,443.2 621.9,445.2 622.0,447.2 622.0,449.2 622.1,451.2 622.2,453.2 622.2,455.2 622.3,457.2 622.3,459.2 622.4,461.1 622.5,463.1 622.5,465.0 622.6,467.0" stroke="#0808ff" stroke-width="3.00"/>
<path d="M250.1,175.5 252.1,175.3 254.1,175.2 256.1,175.0 258.1,174.9 260.1,174.8 262.1,174.7 264.1,174.5 266.1,174.4 268.1,174.3 270.1,174.2 272.1,174.1 274.1,174.1 276.1,174.0 278.1,173.9 280.1,173.9 282.1,173.8 284.1,173.8 286.1,173.8 288.1,173.7 290.1,173.7 292.1,173.7 294.1,173.7 296.1,173.7 298.1,173.7 300.1,173.7 302.1,173.8 304.1,173.8 306.1,173.8 308.0,173.9 310.0,174.0 312.0,174.0 314.0,174.1 316.0,174.2 318.0,174.3 320.0,174.4 322.0,174.5 324.0,174.6 326.0,174.7 328.0,174.8 330.0,175.0 332.0,175.1 334.0,175.3 336.0,175.5 338.0,175.6 340.0,175.8 342.0,176.0 344.0,176.2 346.0,176.4 348.0,176.6 349.9,176.8 351.9,177.1 353.9,177.3 355.9,177.6 357.9,177.8 359.9,178.1 361.9,178.4 363.8,178.7 365.8,178.9 367.8,179.2 369.8,179.6 371.8,179.9 373.7,180.2 375.7,180.6 377.7,180.9 379.6,181.3 381.6,181.6 383.6,182.0 385.5,182.4 387.5,182.8 389.5,183.2 391.4,183.6 393.4,184.0 395.3,184.5 397.3,184.9 399.2,185.3 401.2,185.8 403.1,186.3 405.0,186.8 407.0,187.3 408.9,187.8 410.9,188.3 412.8,188.8 414.7,189.3 416.6,189.9 418.6,190.4 420.5,191.0 422.4,191.5 424.3,192.1 426.2,192.7 428.1,193.3 430.0,193.9 431.9,194.5 433.8,195.1 435.7,195.8 437.6,196.4 439.5,197.1 441.4,197.7 443.3,198.4 445.2,199.1 447.1,199.8 448.9,200.5 450.8,201.2 452.7,201.9 454.5,202.6 456.4,203.4 458.2,204.1 460.1,204.9 462.0,205.6 463.8,206.4 465.6,207.2 467.5,208.0 469.3,208.8 471.2,209.6 473.0,210.4 474.8,211.2 476.6,212.1 478.4,212.9 480.3,213.8 482.1,214.6 483.9,215.5 485.7,216.4 487.5,217.3 489.3,218.2 491.0,219.1 492.8,220.0 494.6,221.0 496.4,221.9 498.1,222.9 499.9,223.8 501.6,224.8 503.4,225.8 505.1,226.8 506.8,227.8 508.5,228.9 510.2,229.9 511.9,231.0 513.6,232.0 515.3,233.1 517.0,234.2 518.7,235.3 520.3,236.4 522.0,237.6 523.6,238.7 525.2,239.9 526.8,241.0 528.4,242.2 530.0,243.4 531.6,244.6 533.2,245.9 534.8,247.1 536.3,248.3 537.9,249.6 539.4,250.8 541.0,252.1 542.5,253.4 544.0,254.7 545.6,256.0 547.1,257.3 548.6,258.6 550.1,259.9 551.6,261.2 553.1,262.6 554.6,263.9 556.1,265.2 557.6,266.6 559.1,267.9 560.6,269.3 562.1,270.7 563.6,272.0 565.0,273.4 566.5,274.8 567.9,276.2 569.3,277.6 570.7,279.0 572.1,280.5 573.4,282.0 574.7,283.4 576.0,285.0 577.2,286.5 578.4,288.1 579.5,289.7 580.6,291.4 581.6,293.1 582.6,294.8 583.6,296.5 584.6,298.2 585.6,299.9 586.6,301.6 587.7,303.3 588.7,305.0 589.8,306.7 590.8,308.4 591.9,310.1 592.9,311.8 594.0,313.5 595.0,315.2 596.0,316.9 597.0,318.6 598.0,320.4 598.9,322.1 599.9,323.9 600.8,325.7 601.6,327.5 602.5,329.3 603.3,331.1 604.1,333.0 604.9,334.8 605.6,336.7 606.3,338.6 607.0,340.5 607.7,342.3 608.3,344.2 609.0,346.1 609.6,348.1 610.1,350.0 610.7,351.9 611.2,353.8 611.7,355.8 612.2,357.7 612.7,359.6 613.2,361.6 613.6,363.5 614.0,365.5 614.4,367.4 614.8,369.4 615.2,371.4 615.5,373.3 615.9,375.3 616.2,377.3 616.5,379.2 616.8,381.2 617.1,383.2 617.4,385.2 617.6,387.2 617.9,389.1 618.1,391.1 618.4,393.1 618.6,395.1 618.8,397.1 619.0,399.1 619.2,401.1 619.3,403.1 619.5,405.1 619.7,407.0 619.8,409.0 620.0,411.0 620.1,413.0 620.3,415.0 620.4,417.0 620.5,419.0 620.6,421.0 620.7,423.0 620.8,425.0 620.9,427.0 621.0,429.0 621.1,431.0 621.2,433.0 621.3,435.0 621.4,437.0 621.5,439.0 621.6,441.0 621.6,443.0 621.7,445.0 621.8,447.0 621.9,449.0 621.9,451.0 622.0,453.0 622.1,455.0 622.2,457.0 622.3,459.0 622.3,461.0 622.4,463.0 622.5,465.0 622.6,467.0" stroke="#00dcdc" stroke-width="3.00"/>
<path d="M298.3,153.2 300.3,153.2 302.3,153.2 304.3,153.2 306.3,153.2 308.3,153.2 310.3,153.2 312.3,153.2 314.3,153.3 316.3,153.3 318.3,153.4 320.3,153.5 322.3,153.5 324.3,153.6 326.3,153.7 328.3,153.8 330.3,154.0 332.3,154.1 334.3,154.2 336.2,154.4 338.2,154.5 340.2,154.7 342.2,154.9 344.2,155.1 346.2,155.3 348.2,155.5 350.2,155.7 352.2,156.0 354.2,156.2 356.2,156.5 358.2,156.7 360.1,157.0 362.1,157.3 364.1,157.6 366.1,157.9 368.1,158.2 370.1,158.5 372.0,158.8 374.0,159.2 376.0,159.6 377.9,159.9 379.9,160.3 381.9,160.7 383.8,161.1 385.8,161.5 387.8,161.9 389.7,162.3 391.7,162.8 393.6,163.2 395.6,163.7 397.5,164.2 399.5,164.6 401.4,165.1 403.4,165.6 405.3,166.2 407.2,166.7 409.1,167.2 411.1,167.8 413.0,168.3 414.9,168.9 416.8,169.5 418.7,170.1 420.7,170.7 422.6,171.3 424.5,171.9 426.4,172.5 428.3,173.2 430.1,173.8 432.0,174.5 433.9,175.2 435.8,175.8 437.7,176.5 439.5,177.3 441.4,178.0 443.3,178.7 445.1,179.5 447.0,180.2 448.8,181.0 450.7,181.7 452.5,182.5 454.3,183.3 456.2,184.1 458.0,185.0 459.8,185.8 461.6,186.6 463.4,187.5 465.2,188.4 467.0,189.2 468.8,190.1 470.6,191.0 472.4,191.9 474.2,192.9 475.9,193.8 477.7,194.7 479.4,195.7 481.2,196.7 482.9,197.6 484.7,198.6 486.4,199.6 488.1,200.6 489.9,201.7 491.6,202.7 493.3,203.7 495.0,204.8 496.7,205.9 498.4,206.9 500.1,208.0 501.7,209.1 503.4,210.2 505.1,211.4 506.7,212.5 508.4,213.6 510.0,214.8 511.6,216.0 513.3,217.1 514.9,218.3 516.5,219.5 518.1,220.7 519.7,221.9 521.3,223.1 522.9,224.4 524.5,225.6 526.0,226.9 527.6,228.1 529.1,229.4 530.7,230.7 532.2,232.0 533.7,233.3 535.2,234.6 536.8,235.9 538.3,237.2 539.7,238.6 541.2,239.9 542.7,241.3 544.2,242.6 545.6,244.0 547.1,245.4 548.5,246.8 550.0,248.2 551.4,249.6 552.8,251.0 554.2,252.4 555.6,253.8 557.0,255.3 558.4,256.7 559.7,258.2 561.1,259.6 562.4,261.1 563.8,262.6 565.1,264.1 566.4,265.6 567.7,267.1 569.0,268.6 570.3,270.2 571.5,271.7 572.7,273.3 574.0,274.8 575.1,276.4 576.3,278.0 577.5,279.7 578.6,281.3 579.7,283.0 580.8,284.6 581.9,286.3 582.9,288.0 583.9,289.7 584.9,291.5 586.0,293.2 587.0,294.9 588.0,296.7 589.0,298.4 590.0,300.2 591.0,301.9 592.0,303.7 593.0,305.4 593.9,307.2 594.9,308.9 595.9,310.7 596.8,312.5 597.7,314.3 598.6,316.1 599.5,317.9 600.3,319.7 601.1,321.5 601.9,323.4 602.7,325.2 603.4,327.0 604.2,328.9 604.9,330.8 605.6,332.6 606.2,334.5 606.9,336.4 607.5,338.3 608.1,340.2 608.7,342.1 609.2,344.0 609.8,345.9 610.3,347.8 610.8,349.7 611.3,351.7 611.8,353.6 612.3,355.6 612.7,357.5 613.2,359.5 613.6,361.4 614.0,363.4 614.4,365.3 614.7,367.3 615.1,369.3 615.4,371.2 615.8,373.2 616.1,375.2 616.4,377.2 616.7,379.1 617.0,381.1 617.2,383.1 617.5,385.1 617.7,387.1 618.0,389.1 618.2,391.1 618.4,393.1 618.6,395.1 618.8,397.1 619.0,399.1 619.2,401.1 619.4,403.0 619.5,405.0 619.7,407.0 619.8,409.0 620.0,411.0 620.1,413.0 620.2,415.0 620.4,417.0 620.5,419.0 620.6,421.0 620.7,423.0 620.8,425.0 620.9,427.0 621.0,429.0 621.1,431.0 621.2,433.0 621.3,435.0 621.4,437.0 621.5,439.0 621.5,441.0 621.6,443.0 621.7,445.0 621.8,447.0 621.9,449.0 621.9,451.0 622.0,453.0 622.1,455.0 622.2,457.0 622.3,459.0 622.3,461.0 622.4,463.0 622.5,465.0 622.6,467.0" stroke="#009a00" stroke-width="3.00"/>
<path d="M313.9,140.5 315.9,140.5 317.9,140.6 319.9,140.6 321.9,140.7 323.9,140.7 325.9,140.8 327.9,140.9 329.9,141.0 331.9,141.1 333.9,141.2 335.9,141.4 337.9,141.5 339.9,141.7 341.9,141.8 343.9,142.0 345.9,142.2 347.9,142.4 349.8,142.6 351.8,142.9 353.8,143.1 355.8,143.3 357.8,143.6 359.8,143.9 361.8,144.2 363.8,144.4 365.7,144.7 367.7,145.1 369.7,145.4 371.7,145.7 373.6,146.1 375.6,146.4 377.6,146.8 379.6,147.2 381.5,147.6 383.5,148.0 385.5,148.4 387.4,148.8 389.4,149.3 391.3,149.7 393.3,150.2 395.2,150.7 397.2,151.1 399.1,151.6 401.1,152.1 403.0,152.7 404.9,153.2 406.9,153.7 408.8,154.3 410.7,154.8 412.6,155.4 414.5,156.0 416.5,156.6 418.4,157.2 420.3,157.8 422.2,158.5 424.1,159.1 426.0,159.8 427.8,160.4 429.7,161.1 431.6,161.8 433.5,162.5 435.4,163.2 437.2,163.9 439.1,164.6 440.9,165.4 442.8,166.1 444.7,166.9 446.5,167.7 448.3,168.5 450.2,169.3 452.0,170.1 453.8,170.9 455.6,171.7 457.5,172.6 459.3,173.4 461.1,174.3 462.9,175.2 464.6,176.1 466.4,177.0 468.2,177.9 470.0,178.8 471.7,179.7 473.5,180.7 475.3,181.6 477.0,182.6 478.8,183.6 480.5,184.6 482.2,185.6 483.9,186.6 485.7,187.6 487.4,188.6 489.1,189.7 490.8,190.8 492.5,191.8 494.1,192.9 495.8,194.0 497.5,195.1 499.1,196.2 500.8,197.3 502.4,198.5 504.1,199.6 505.7,200.8 507.3,201.9 508.9,203.1 510.5,204.3 512.1,205.5 513.7,206.7 515.3,208.0 516.9,209.2 518.5,210.4 520.0,211.7 521.6,213.0 523.1,214.3 524.6,215.5 526.2,216.9 527.7,218.2 529.2,219.5 530.7,220.8 532.2,222.2 533.6,223.5 535.1,224.9 536.6,226.3 538.0,227.7 539.5,229.1 540.9,230.5 542.3,231.9 543.7,233.3 545.1,234.8 546.5,236.2 547.9,237.7 549.3,239.1 550.6,240.6 552.0,242.1 553.3,243.6 554.7,245.1 556.0,246.6 557.3,248.1 558.6,249.7 559.9,251.2 561.1,252.8 562.4,254.3 563.6,255.9 564.9,257.5 566.1,259.0 567.3,260.6 568.5,262.2 569.7,263.9 570.9,265.5 572.1,267.1 573.2,268.7 574.3,270.4 575.5,272.0 576.6,273.7 577.7,275.3 578.8,277.0 579.9,278.7 580.9,280.4 582.0,282.1 583.0,283.8 584.0,285.5 585.1,287.2 586.1,288.9 587.1,290.7 588.1,292.4 589.0,294.1 590.0,295.9 591.0,297.6 591.9,299.4 592.8,301.2 593.8,303.0 594.7,304.7 595.6,306.5 596.5,308.3 597.4,310.1 598.2,311.9 599.1,313.8 599.9,315.6 600.7,317.4 601.4,319.3 602.2,321.1 602.9,323.0 603.6,324.8 604.3,326.7 605.0,328.6 605.6,330.5 606.2,332.4 606.9,334.3 607.5,336.2 608.0,338.1 608.6,340.0 609.1,341.9 609.7,343.8 610.2,345.8 610.7,347.7 611.1,349.6 611.6,351.6 612.1,353.5 612.5,355.5 612.9,357.4 613.3,359.4 613.7,361.4 614.1,363.3 614.4,365.3 614.8,367.3 615.1,369.2 615.5,371.2 615.8,373.2 616.1,375.2 616.4,377.2 616.7,379.1 616.9,381.1 617.2,383.1 617.4,385.1 617.7,387.1 617.9,389.1 618.1,391.1 618.3,393.1 618.5,395.1 618.7,397.1 618.9,399.1 619.1,401.1 619.3,403.1 619.5,405.1 619.6,407.1 619.8,409.0 619.9,411.0 620.1,413.0 620.2,415.0 620.3,417.0 620.5,419.0 620.6,421.0 620.7,423.0 620.8,425.0 620.9,427.0 621.0,429.0 621.1,431.0 621.2,433.0 621.3,435.0 621.4,437.0 621.5,439.0 621.6,441.0 621.7,443.0 621.7,445.0 621.8,447.0 621.9,449.0 622.0,451.0 622.1,453.0 622.1,455.0 622.2,457.0 622.3,459.0 622.4,461.0 622.4,463.0 622.5,465.0 622.6,467.0" stroke="#e2e214" stroke-width="3.00"/>
<path d="M325.4,132.1 327.4,132.2 329.4,132.2 331.4,132.3 333.4,132.4 335.4,132.5 337.5,132.6 339.5,132.7 341.5,132.9 343.5,133.0 345.5,133.2 347.5,133.4 349.5,133.5 351.5,133.7 353.5,134.0 355.5,134.2 357.5,134.4 359.5,134.7 361.5,134.9 363.4,135.2 365.4,135.5 367.4,135.8 369.4,136.1 371.4,136.4 373.4,136.8 375.4,137.1 377.3,137.5 379.3,137.9 381.3,138.3 383.2,138.7 385.2,139.1 387.2,139.5 389.1,139.9 391.1,140.4 393.1,140.9 395.0,141.3 397.0,141.8 398.9,142.3 400.8,142.8 402.8,143.3 404.7,143.9 406.6,144.4 408.6,145.0 410.5,145.6 412.4,146.1 414.3,146.7 416.2,147.3 418.2,148.0 420.1,148.6 422.0,149.2 423.9,149.9 425.8,150.6 427.6,151.2 429.5,151.9 431.4,152.6 433.3,153.4 435.1,154.1 437.0,154.8 438.9,155.6 440.7,156.3 442.6,157.1 444.4,157.9 446.3,158.7 448.1,159.5 449.9,160.3 451.7,161.2 453.6,162.0 455.4,162.9 457.2,163.7 459.0,164.6 460.8,165.5 462.5,166.4 464.3,167.3 466.1,168.3 467.9,169.2 469.6,170.1 471.4,171.1 473.1,172.1 474.9,173.1 476.6,174.1 478.4,175.1 480.1,176.1 481.8,177.1 483.5,178.2 485.2,179.2 486.9,180.3 488.6,181.4 490.3,182.5 491.9,183.6 493.6,184.7 495.3,185.8 496.9,186.9 498.6,188.1 500.2,189.2 501.8,190.4 503.4,191.6 505.0,192.8 506.6,194.0 508.2,195.2 509.8,196.4 511.4,197.7 513.0,198.9 514.5,200.2 516.1,201.4 517.6,202.7 519.2,204.0 520.7,205.3 522.2,206.6 523.7,208.0 525.2,209.3 526.7,210.6 528.2,212.0 529.7,213.4 531.1,214.8 532.6,216.2 534.0,217.6 535.4,219.0 536.9,220.4 538.3,221.8 539.7,223.3 541.1,224.7 542.5,226.2 543.8,227.6 545.2,229.1 546.6,230.6 547.9,232.1 549.2,233.6 550.6,235.1 551.9,236.7 553.2,238.2 554.5,239.7 555.8,241.3 557.0,242.9 558.3,244.4 559.6,246.0 560.8,247.6 562.0,249.2 563.2,250.8 564.5,252.4 565.7,254.0 566.8,255.7 568.0,257.3 569.2,258.9 570.3,260.6 571.5,262.3 572.6,263.9 573.7,265.6 574.8,267.3 575.9,269.0 577.0,270.7 578.1,272.4 579.2,274.1 580.2,275.8 581.3,277.5 582.3,279.2 583.3,281.0 584.3,282.7 585.3,284.5 586.3,286.2 587.2,288.0 588.2,289.7 589.1,291.5 590.0,293.3 591.0,295.1 591.8,296.9 592.7,298.7 593.6,300.5 594.4,302.3 595.3,304.1 596.1,305.9 596.9,307.8 597.7,309.6 598.5,311.4 599.2,313.3 600.0,315.1 600.7,317.0 601.4,318.9 602.1,320.7 602.8,322.6 603.5,324.5 604.1,326.4 604.8,328.3 605.4,330.2 606.0,332.1 606.6,334.0 607.2,335.9 607.8,337.8 608.3,339.7 608.8,341.6 609.4,343.6 609.9,345.5 610.4,347.4 610.9,349.4 611.3,351.3 611.8,353.3 612.2,355.2 612.7,357.2 613.1,359.1 613.5,361.1 613.9,363.1 614.3,365.0 614.6,367.0 615.0,369.0 615.4,370.9 615.7,372.9 616.0,374.9 616.3,376.9 616.6,378.9 616.9,380.9 617.2,382.8 617.5,384.8 617.7,386.8 618.0,388.8 618.2,390.8 618.4,392.8 618.7,394.8 618.9,396.8 619.1,398.8 619.2,400.8 619.4,402.8 619.6,404.8 619.8,406.8 619.9,408.9 620.1,410.9 620.2,412.9 620.3,414.9 620.5,416.9 620.6,418.9 620.7,420.9 620.8,422.9 620.9,424.9 621.0,426.9 621.1,428.9 621.2,431.0 621.3,433.0 621.4,435.0 621.5,437.0 621.5,439.0 621.6,441.0 621.7,443.0 621.8,445.0 621.8,447.0 621.9,449.0 622.0,451.0 622.1,453.0 622.1,455.0 622.2,457.0 622.3,459.0 622.4,461.0 622.4,463.0 622.5,465.0 622.6,467.0" stroke="#ff9900" stroke-width="3.00"/>
<path d="M337.4,126.3 339.4,126.4 341.4,126.5 343.4,126.6 345.5,126.7 347.5,126.8 349.5,126.9 351.5,127.1 353.5,127.3 355.5,127.5 357.5,127.7 359.5,127.9 361.5,128.1 363.5,128.3 365.5,128.6 367.5,128.9 369.5,129.2 371.4,129.5 373.4,129.8 375.4,130.1 377.4,130.4 379.4,130.8 381.3,131.2 383.3,131.6 385.3,132.0 387.2,132.4 389.2,132.8 391.1,133.2 393.1,133.7 395.0,134.2 397.0,134.6 398.9,135.1 400.9,135.6 402.8,136.2 404.7,136.7 406.7,137.2 408.6,137.8 410.5,138.4 412.4,139.0 414.3,139.6 416.2,140.2 418.1,140.8 420.0,141.4 421.9,142.1 423.8,142.8 425.7,143.4 427.6,144.1 429.5,144.8 431.3,145.5 433.2,146.3 435.1,147.0 436.9,147.8 438.8,148.5 440.6,149.3 442.5,150.1 444.3,150.9 446.1,151.7 447.9,152.6 449.8,153.4 451.6,154.3 453.4,155.1 455.2,156.0 457.0,156.9 458.8,157.8 460.5,158.7 462.3,159.6 464.1,160.6 465.9,161.5 467.6,162.5 469.4,163.4 471.1,164.4 472.8,165.4 474.6,166.4 476.3,167.5 478.0,168.5 479.7,169.5 481.4,170.6 483.1,171.7 484.8,172.7 486.5,173.8 488.2,174.9 489.8,176.0 491.5,177.2 493.2,178.3 494.8,179.4 496.4,180.6 498.1,181.8 499.7,182.9 501.3,184.1 502.9,185.3 504.5,186.5 506.1,187.7 507.7,189.0 509.3,190.2 510.8,191.5 512.4,192.7 513.9,194.0 515.5,195.3 517.0,196.6 518.5,197.9 520.0,199.2 521.6,200.5 523.0,201.9 524.5,203.2 526.0,204.6 527.5,205.9 528.9,207.3 530.4,208.7 531.8,210.1 533.3,211.5 534.7,212.9 536.1,214.4 537.5,215.8 538.9,217.2 540.3,218.7 541.7,220.2 543.0,221.6 544.4,223.1 545.7,224.6 547.1,226.1 548.4,227.6 549.7,229.2 551.0,230.7 552.3,232.2 553.6,233.8 554.8,235.3 556.1,236.9 557.4,238.5 558.6,240.1 559.8,241.7 561.0,243.3 562.2,244.9 563.4,246.5 564.6,248.1 565.8,249.7 567.0,251.4 568.1,253.0 569.2,254.7 570.4,256.4 571.5,258.0 572.6,259.7 573.7,261.4 574.8,263.1 575.8,264.8 576.9,266.5 577.9,268.2 579.0,269.9 580.0,271.7 581.0,273.4 582.0,275.1 583.0,276.9 583.9,278.7 584.9,280.4 585.8,282.2 586.8,284.0 587.7,285.8 588.6,287.5 589.5,289.3 590.4,291.1 591.2,292.9 592.1,294.8 592.9,296.6 593.7,298.4 594.6,300.2 595.4,302.1 596.1,303.9 596.9,305.7 597.7,307.6 598.4,309.5 599.2,311.3 599.9,313.2 600.6,315.1 601.3,316.9 601.9,318.8 602.6,320.7 603.2,322.6 603.9,324.5 604.5,326.4 605.1,328.3 605.7,330.2 606.3,332.1 606.8,334.0 607.4,335.9 607.9,337.9 608.5,339.8 609.0,341.7 609.5,343.6 610.0,345.6 610.4,347.5 610.9,349.5 611.3,351.4 611.8,353.4 612.2,355.3 612.6,357.3 613.0,359.2 613.4,361.2 613.8,363.2 614.2,365.1 614.5,367.1 614.9,369.1 615.2,371.1 615.6,373.0 615.9,375.0 616.2,377.0 616.5,379.0 616.8,381.0 617.1,382.9 617.4,384.9 617.6,386.9 617.9,388.9 618.1,390.9 618.4,392.9 618.6,394.9 618.8,396.9 619.0,398.9 619.2,400.9 619.4,402.9 619.6,404.9 619.8,406.9 620.0,408.9 620.1,410.9 620.3,412.9 620.5,414.9 620.6,416.9 620.7,418.9 620.9,421.0 621.0,423.0 621.1,425.0 621.2,427.0 621.4,429.0 621.5,431.0 621.6,433.0 621.7,435.0 621.8,437.0 621.8,439.0 621.9,441.0 622.0,443.0 622.1,445.0 622.1,447.0 622.2,449.0 622.3,451.0 622.3,453.0 622.4,455.0 622.4,457.0 622.5,459.0 622.5,461.0 622.5,463.0 622.6,465.0 622.6,467.0" stroke="#ff0000" stroke-width="3.00"/>
</g>
<rect x="138.20" y="21.30" width="814.30" height="444.10" stroke="#000" stroke-width="3.30"/>
<circle cx="369.30" cy="84.50" r="6.80" fill="#000000" stroke="none"/>
<circle cx="333.40" cy="292.90" r="6.70" fill="#a100ab" stroke="none"/>
<circle cx="287.50" cy="210.40" r="6.70" fill="#0808ff" stroke="none"/>
<circle cx="292.00" cy="173.60" r="6.70" fill="#00dcdc" stroke="none"/>
<circle cx="298.30" cy="153.20" r="6.70" fill="#009a00" stroke="none"/>
<rect x="644.2" y="36.4" width="287.2" height="305.6" fill="#fff" fill-opacity="0.7" stroke="none"/>
<text x="671.06" y="68.00" font-size="35.30" textLength="161.94" lengthAdjust="spacingAndGlyphs">Nucleonic</text>
<path d="M853.3,55.50 H910.8" stroke="#000" stroke-width="4.60" stroke-dasharray="10.3 15.4"/>
<text x="696.74" y="106.20" font-size="35.30" textLength="136.26" lengthAdjust="spacingAndGlyphs">LL4(0,0)</text>
<path d="M853.3,93.70 H910.8" stroke="#a100ab" stroke-width="3.00"/>
<text x="654.67" y="144.40" font-size="35.30" textLength="178.33" lengthAdjust="spacingAndGlyphs">LL4(100,0)</text>
<path d="M853.3,131.90 H910.8" stroke="#0808ff" stroke-width="3.00"/>
<text x="654.67" y="182.60" font-size="35.30" textLength="178.33" lengthAdjust="spacingAndGlyphs">LL4(200,0)</text>
<path d="M853.3,170.10 H910.8" stroke="#00dcdc" stroke-width="3.00"/>
<text x="654.67" y="220.80" font-size="35.30" textLength="178.33" lengthAdjust="spacingAndGlyphs">LL4(300,0)</text>
<path d="M853.3,208.30 H910.8" stroke="#009a00" stroke-width="3.00"/>
<text x="654.67" y="259.00" font-size="35.30" textLength="178.33" lengthAdjust="spacingAndGlyphs">LL4(400,0)</text>
<path d="M853.3,246.50 H910.8" stroke="#e2e214" stroke-width="3.00"/>
<text x="654.67" y="297.20" font-size="35.30" textLength="178.33" lengthAdjust="spacingAndGlyphs">LL4(500,0)</text>
<path d="M853.3,284.70 H910.8" stroke="#ff9900" stroke-width="3.00"/>
<text x="654.67" y="335.40" font-size="35.30" textLength="178.33" lengthAdjust="spacingAndGlyphs">LL4(600,0)</text>
<path d="M853.3,322.90 H910.8" stroke="#ff0000" stroke-width="3.00"/>
<rect x="701.5" y="374.75" width="196.1" height="49.3" fill="#fff" stroke="#000" stroke-width="2.2"/>
<text x="709.79" y="415.66" font-size="47.31" textLength="183.42" lengthAdjust="spacingAndGlyphs" font-weight="bold" stroke="#000" stroke-width="1.68">KIDS-D</text>
<text x="179.50" y="433.00" font-size="33.08" textLength="51.02" lengthAdjust="spacingAndGlyphs" font-weight="bold" stroke="#000" stroke-width="1.20">(a)</text>
<text x="243.16" y="433.00" font-size="33.08" textLength="70.45" lengthAdjust="spacingAndGlyphs" font-weight="bold" stroke="#000" stroke-width="1.20">M-R</text>
<text x="326.25" y="433.00" font-size="33.08" textLength="143.69" lengthAdjust="spacingAndGlyphs" font-weight="bold" stroke="#000" stroke-width="1.20">relation</text>
<text x="64.42" y="477.60" font-size="35.30" textLength="52.58" lengthAdjust="spacingAndGlyphs">1.4</text>
<text x="64.42" y="388.78" font-size="35.30" textLength="52.58" lengthAdjust="spacingAndGlyphs">1.6</text>
<text x="64.42" y="299.96" font-size="35.30" textLength="52.58" lengthAdjust="spacingAndGlyphs">1.8</text>
<text x="95.96" y="211.14" font-size="35.30" textLength="21.04" lengthAdjust="spacingAndGlyphs">2</text>
<text x="64.42" y="122.32" font-size="35.30" textLength="52.58" lengthAdjust="spacingAndGlyphs">2.2</text>
<text x="64.42" y="33.50" font-size="35.30" textLength="52.58" lengthAdjust="spacingAndGlyphs">2.4</text>
<text x="212.24" y="516.00" font-size="35.30" textLength="42.07" lengthAdjust="spacingAndGlyphs">10</text>
<text x="393.20" y="516.00" font-size="35.30" textLength="42.07" lengthAdjust="spacingAndGlyphs">11</text>
<text x="574.15" y="516.00" font-size="35.30" textLength="42.07" lengthAdjust="spacingAndGlyphs">12</text>
<text x="755.11" y="516.00" font-size="35.30" textLength="42.07" lengthAdjust="spacingAndGlyphs">13</text>
<text x="936.06" y="516.00" font-size="35.30" textLength="42.07" lengthAdjust="spacingAndGlyphs">14</text>
<text x="490.03" y="565.60" font-size="35.30" textLength="22.97" lengthAdjust="spacingAndGlyphs">R</text>
<text x="523.51" y="565.60" font-size="35.30" textLength="77.15" lengthAdjust="spacingAndGlyphs">(km)</text>
<g transform="translate(31.7 243.35) rotate(-90)">
<text x="-45.50" y="0.00" font-size="35.30" textLength="68.19" lengthAdjust="spacingAndGlyphs">M/M</text>
<circle cx="33.69" cy="-0.90" r="7.70" stroke="#000" stroke-width="2.10"/>
<rect x="32.29" y="-2.85" width="2.80" height="3.90" fill="#000" stroke="none"/>
</g>
<path d="M137.30,692.50 L952.50,692.50" stroke="#000" stroke-width="2.8" stroke-dasharray="1.8 7.006"/>
<g clip-path="url(#cb)">
<path d="M127.0,1025.0 128.5,1023.7 130.1,1022.4 131.6,1021.2 133.1,1019.9 134.7,1018.6 136.2,1017.3 137.7,1016.0 139.2,1014.7 140.7,1013.3 142.2,1012.0 143.7,1010.7 145.2,1009.4 146.7,1008.1 148.2,1006.8 149.7,1005.4 151.2,1004.1 152.7,1002.8 154.2,1001.4 155.7,1000.1 157.2,998.7 158.6,997.4 160.1,996.0 161.6,994.7 163.1,993.3 164.5,992.0 166.0,990.6 167.5,989.2 168.9,987.9 170.4,986.5 171.8,985.1 173.3,983.8 174.7,982.4 176.2,981.0 177.6,979.6 179.1,978.2 180.5,976.9 182.0,975.5 183.4,974.1 184.8,972.7 186.3,971.3 187.7,969.9 189.2,968.5 190.6,967.1 192.0,965.7 193.5,964.3 194.9,962.9 196.3,961.5 197.7,960.1 199.2,958.7 200.6,957.3 202.0,955.9 203.4,954.5 204.9,953.1 206.3,951.7 207.7,950.3 209.1,948.9 210.5,947.5 212.0,946.0 213.4,944.6 214.8,943.2 216.2,941.8 217.6,940.4 219.1,939.0 220.5,937.6 221.9,936.1 223.3,934.7 224.7,933.3 226.1,931.9 227.5,930.5 229.0,929.1 230.4,927.7 231.8,926.2 233.2,924.8 234.6,923.4 236.0,922.0 237.5,920.6 238.9,919.2 240.3,917.8 241.7,916.3 243.1,914.9 244.6,913.5 246.0,912.1 247.4,910.7 248.8,909.3 250.2,907.9 251.7,906.5 253.1,905.1 254.5,903.7 255.9,902.3 257.4,900.9 258.8,899.5 260.2,898.1 261.7,896.7 263.1,895.3 264.5,893.9 266.0,892.5 267.4,891.1 268.8,889.7 270.3,888.3 271.7,886.9 273.2,885.6 274.6,884.2 276.1,882.8 277.5,881.4 278.9,880.0 280.4,878.7 281.9,877.3 283.3,875.9 284.8,874.6 286.2,873.2 287.7,871.8 289.2,870.5 290.6,869.1 292.1,867.8 293.6,866.4 295.0,865.1 296.5,863.7 298.0,862.4 299.5,861.0 301.0,859.7 302.5,858.4 304.0,857.0 305.5,855.7 306.9,854.4 308.4,853.1 310.0,851.7 311.5,850.4 313.0,849.1 314.5,847.8 316.0,846.5 317.5,845.2 319.0,843.9 320.6,842.6 322.1,841.3 323.6,840.1 325.2,838.8 326.7,837.5 328.2,836.2 329.8,835.0 331.3,833.7 332.9,832.4 334.5,831.2 336.0,829.9 337.6,828.7 339.2,827.5 340.7,826.2 342.3,825.0 343.9,823.8 345.5,822.5 347.1,821.3 348.7,820.1 350.3,818.9 351.9,817.7 353.5,816.5 355.1,815.3 356.7,814.1 358.3,812.9 359.9,811.7 361.5,810.5 363.2,809.3 364.8,808.1 366.4,806.9 368.1,805.8 369.7,804.6 371.4,803.5 373.0,802.3 374.7,801.2 376.4,800.1 378.0,799.0 379.7,797.9 381.4,796.8 383.1,795.7 384.8,794.6 386.5,793.5 388.2,792.5 389.9,791.4 391.6,790.4 393.3,789.3 395.0,788.3 396.7,787.3 398.5,786.2 400.2,785.2 401.9,784.2 403.7,783.2 405.4,782.2 407.2,781.3 408.9,780.3 410.7,779.3 412.5,778.4 414.2,777.4 416.0,776.5 417.8,775.6 419.6,774.6 421.3,773.7 423.1,772.8 424.9,771.9 426.7,771.0 428.5,770.1 430.3,769.3 432.1,768.4 433.9,767.5 435.8,766.7 437.6,765.9 439.4,765.0 441.2,764.2 443.0,763.4 444.9,762.6 446.7,761.8 448.6,761.0 450.4,760.2 452.2,759.4 454.1,758.6 455.9,757.9 457.8,757.1 459.7,756.4 461.5,755.6 463.4,754.9 465.2,754.2 467.1,753.5 469.0,752.8 470.9,752.1 472.7,751.4 474.6,750.7 476.5,750.0 478.4,749.3 480.3,748.7 482.2,748.0 484.1,747.4 486.0,746.8 487.9,746.1 489.8,745.5 491.7,744.9 493.6,744.3 495.5,743.7 497.4,743.1 499.3,742.5 501.3,742.0 503.2,741.4 505.1,740.9 507.0,740.3 509.0,739.8 510.9,739.3 512.8,738.7 514.7,738.2 516.7,737.7 518.6,737.2 520.6,736.7 522.5,736.2 524.4,735.8 526.4,735.3 528.3,734.8 530.3,734.4 532.2,733.9 534.2,733.5 536.1,733.0 538.1,732.6 540.0,732.2 542.0,731.8 544.0,731.3 545.9,730.9 547.9,730.5 549.8,730.1 551.8,729.7 553.8,729.3 555.7,729.0 557.7,728.6 559.7,728.2 561.6,727.8 563.6,727.5 565.6,727.1 567.6,726.8 569.5,726.4 571.5,726.1 573.5,725.7 575.5,725.4 577.4,725.0 579.4,724.7 581.4,724.4 583.4,724.0 585.4,723.7 587.4,723.4 589.3,723.1 591.3,722.8 593.3,722.5 595.3,722.1 597.3,721.8 599.3,721.5 601.2,721.2 603.2,720.9 605.2,720.6 607.2,720.3 609.2,720.0 611.2,719.7 613.2,719.4 615.2,719.1 617.1,718.8 619.1,718.5 621.1,718.2 623.1,718.0 625.1,717.7 627.1,717.4 629.1,717.1 631.1,716.8 633.1,716.5 635.0,716.2 637.0,715.9 639.0,715.6 641.0,715.3 643.0,715.0 645.0,714.7 647.0,714.4 649.0,714.1 650.9,713.8 652.9,713.5 654.9,713.2 656.9,712.9 658.9,712.6 660.9,712.3 662.8,712.0 664.8,711.7 666.8,711.4 668.8,711.1 670.8,710.8 672.7,710.4 674.7,710.1 676.7,709.8 678.7,709.5 680.7,709.2 682.6,708.8 684.6,708.5 686.6,708.2 688.6,707.9 690.5,707.5 692.5,707.2 694.5,706.9 696.5,706.5 698.4,706.2 700.4,705.9 702.4,705.5 704.4,705.2 706.3,704.9 708.3,704.5 710.3,704.2 712.3,703.9 714.2,703.5 716.2,703.2 718.2,702.9 720.2,702.5 722.1,702.2 724.1,701.8 726.1,701.5 728.1,701.2 730.0,700.8 732.0,700.5 734.0,700.2 736.0,699.8 737.9,699.5 739.9,699.1 741.9,698.8 743.9,698.5 745.8,698.1 747.8,697.8 749.8,697.5 751.8,697.1 753.7,696.8 755.7,696.5 757.7,696.1 759.7,695.8 761.6,695.5 763.6,695.2 765.6,694.8 767.6,694.5 769.5,694.2 771.5,693.9 773.5,693.5 775.5,693.2 777.5,692.9 779.4,692.6 781.4,692.3 783.4,691.9 785.4,691.6 787.4,691.3 789.3,691.0 791.3,690.7 793.3,690.4 795.3,690.1 797.3,689.8 799.3,689.5 801.2,689.2 803.2,688.9 805.2,688.6 807.2,688.3 809.2,688.0 811.2,687.8 813.1,687.5 815.1,687.2 817.1,686.9 819.1,686.6 821.1,686.4 823.1,686.1 825.1,685.8 827.0,685.5 829.0,685.3 831.0,685.0 833.0,684.7 835.0,684.5 837.0,684.2 839.0,683.9 841.0,683.7 843.0,683.4 844.9,683.2 846.9,682.9 848.9,682.7 850.9,682.4 852.9,682.1 854.9,681.9 856.9,681.6 858.9,681.4 860.9,681.1 862.8,680.9 864.8,680.6 866.8,680.3 868.8,680.1 870.8,679.8 872.8,679.6 874.8,679.3 876.8,679.0 878.8,678.8 880.7,678.5 882.7,678.2 884.7,678.0 886.7,677.7 888.7,677.4 890.7,677.2 892.7,676.9 894.7,676.6 896.6,676.4 898.6,676.1 900.6,675.8 902.6,675.5 904.6,675.2 906.6,675.0 908.5,674.7 910.5,674.4 912.5,674.1 914.5,673.8 916.5,673.5 918.5,673.2 920.4,672.9 922.4,672.6 924.4,672.3 926.4,671.9 928.4,671.6 930.3,671.3 932.3,671.0 934.3,670.6 936.3,670.3 938.2,670.0 940.2,669.6 942.2,669.3 944.2,668.9 946.1,668.6 948.1,668.2 950.1,667.9 952.0,667.5 954.0,667.1" stroke="#000000" stroke-width="4.60" stroke-dasharray="10.3 15.4" stroke-dashoffset="12.31"/>
<path d="M127.0,1025.0 128.5,1023.7 130.1,1022.4 131.6,1021.2 133.1,1019.9 134.7,1018.6 136.2,1017.3 137.7,1016.0 139.2,1014.7 140.7,1013.3 142.2,1012.0 143.7,1010.7 145.2,1009.4 146.7,1008.1 148.2,1006.8 149.7,1005.4 151.2,1004.1 152.7,1002.8 154.2,1001.4 155.7,1000.1 157.2,998.7 158.6,997.4 160.1,996.0 161.6,994.7 163.1,993.3 164.5,992.0 166.0,990.6 167.5,989.2 168.9,987.9 170.4,986.5 171.8,985.1 173.3,983.8 174.7,982.4 176.2,981.0 177.6,979.6 179.1,978.2 180.5,976.9 182.0,975.5 183.4,974.1 184.8,972.7 186.3,971.3 187.7,969.9 189.2,968.5 190.6,967.1 192.0,965.7 193.5,964.3 194.9,962.9 196.3,961.5 197.7,960.1 199.2,958.7 200.6,957.3 202.0,955.9 203.4,954.5 204.9,953.1 206.3,951.7 207.7,950.3 209.1,948.9 210.5,947.5 212.0,946.0 213.4,944.6 214.8,943.2 216.2,941.8 217.6,940.4 219.1,939.0 220.5,937.6 221.9,936.1 223.3,934.7 224.7,933.3 226.1,931.9 227.5,930.5 229.0,929.1 230.4,927.7 231.8,926.2 233.2,924.8 234.6,923.4 236.0,922.0 237.5,920.6 238.9,919.2 240.3,917.8 241.7,916.3 243.1,914.9 244.6,913.5 246.0,912.1 247.4,910.7 248.8,909.3 250.2,907.9 251.7,906.5 253.1,905.1 254.5,903.7 255.9,902.3 257.4,900.9 258.8,899.5 260.2,898.1 261.7,896.7 263.1,895.3 264.5,893.9 266.0,892.5 267.4,891.1 268.8,889.7 270.3,888.3 271.7,886.9 273.2,885.6 274.6,884.2 276.1,882.8 277.5,881.4 278.9,880.0 280.4,878.7 281.9,877.3 283.3,875.9 284.8,874.6 286.2,873.2 287.7,871.8 289.2,870.5 290.6,869.1 292.1,867.8 293.6,866.4 295.0,865.1 296.5,863.7 298.0,862.4 299.5,861.0 301.0,859.7 302.5,858.4 304.0,857.0 305.5,855.7 306.9,854.4 308.4,853.1 310.0,851.7 311.5,850.4 313.0,849.1 314.5,847.8 316.0,846.5 317.5,845.2 319.0,843.9 320.6,842.6 322.1,841.3 323.6,840.1 325.2,838.8 326.7,837.5 328.2,836.2 329.8,835.0 331.3,833.7 332.9,832.4 334.5,831.2 336.0,829.9 337.6,828.7 339.2,827.5 340.7,826.2 342.3,825.0 343.9,823.8 345.5,822.5 347.1,821.3 348.7,820.1 350.3,818.9 351.9,817.7 353.5,816.5 353.7,818.6 354.0,820.7 354.3,822.7 354.6,824.7 354.9,826.7 355.2,828.7 355.6,830.7 356.0,832.6 356.4,834.6 356.9,836.5 357.3,838.4 357.8,840.3 358.2,842.2 358.7,844.1 359.2,846.0 359.7,847.8 360.3,849.7 360.8,851.6 361.3,853.5 361.8,855.4 362.4,857.2 362.9,859.1 363.4,861.0 364.0,862.9 364.5,864.8 365.0,866.7 365.5,868.7 366.1,870.6 366.6,872.6 367.1,874.5 367.5,876.5 368.0,878.5 368.5,880.6 368.9,882.6 369.3,884.7 369.7,886.7 370.2,888.8 370.6,890.9 371.1,893.0 371.5,895.0 372.1,897.1 372.6,899.1 373.2,901.0 373.8,903.0 374.5,904.8 375.3,906.7 376.1,908.4 377.0,910.1 378.0,911.8 379.1,913.3 380.3,914.8 381.6,916.1 383.0,917.4 384.5,918.6 386.1,919.6 387.7,920.4 389.5,920.9 391.3,921.3 393.1,921.4 394.9,921.2 396.8,920.8 398.7,920.2 400.6,919.4 402.5,918.5 404.3,917.5 406.1,916.4 407.8,915.2 409.5,914.1 411.2,912.8 412.8,911.6 414.4,910.3 416.0,909.0 417.6,907.8 419.3,906.6 420.9,905.3 422.5,904.1 424.2,903.0 425.8,901.8 427.5,900.7 429.1,899.5 430.8,898.4 432.5,897.3 434.2,896.3 435.9,895.2 437.6,894.2 439.3,893.1 441.0,892.1 442.7,891.1 444.4,890.1 446.2,889.2 447.9,888.2 449.7,887.2 451.4,886.3 453.2,885.4 454.9,884.4 456.7,883.5 458.5,882.6 460.2,881.7 462.0,880.8 463.8,880.0 465.6,879.1 467.4,878.2 469.2,877.4 471.0,876.5 472.8,875.7 474.6,874.9 476.5,874.0 478.3,873.2 480.1,872.4 481.9,871.6 483.8,870.8 485.6,870.0 487.4,869.2 489.3,868.4 491.1,867.6 493.0,866.8 494.8,866.0 496.7,865.3 498.5,864.5 500.4,863.7 502.2,863.0 504.1,862.2 505.9,861.5 507.8,860.7 509.6,859.9 511.5,859.2 513.3,858.5 515.2,857.7 517.1,857.0 518.9,856.2 520.8,855.5 522.7,854.8 524.5,854.0 526.4,853.3 528.3,852.6 530.1,851.8 532.0,851.1 533.9,850.4 535.7,849.7 537.6,849.0 539.5,848.3 541.3,847.6 543.2,846.9 545.1,846.1 547.0,845.4 548.8,844.7 550.7,844.1 552.6,843.4 554.5,842.7 556.4,842.0 558.2,841.3 560.1,840.6 562.0,839.9 563.9,839.2 565.8,838.6 567.7,837.9 569.5,837.2 571.4,836.6 573.3,835.9 575.2,835.2 577.1,834.6 579.0,833.9 580.9,833.2 582.8,832.6 584.6,831.9 586.5,831.3 588.4,830.6 590.3,830.0 592.2,829.3 594.1,828.7 596.0,828.1 597.9,827.4 599.8,826.8 601.7,826.1 603.6,825.5 605.5,824.9 607.4,824.3 609.3,823.6 611.2,823.0 613.1,822.4 615.0,821.8 616.9,821.2 618.8,820.5 620.7,819.9 622.6,819.3 624.5,818.7 626.4,818.1 628.4,817.5 630.3,816.9 632.2,816.3 634.1,815.7 636.0,815.1 637.9,814.5 639.8,813.9 641.7,813.3 643.6,812.7 645.6,812.1 647.5,811.6 649.4,811.0 651.3,810.4 653.2,809.8 655.1,809.2 657.0,808.7 659.0,808.1 660.9,807.5 662.8,807.0 664.7,806.4 666.6,805.8 668.6,805.3 670.5,804.7 672.4,804.1 674.3,803.6 676.2,803.0 678.2,802.5 680.1,801.9 682.0,801.4 683.9,800.8 685.9,800.3 687.8,799.7 689.7,799.2 691.6,798.7 693.6,798.1 695.5,797.6 697.4,797.0 699.4,796.5 701.3,796.0 703.2,795.4 705.1,794.9 707.1,794.4 709.0,793.9 710.9,793.3 712.9,792.8 714.8,792.3 716.7,791.8 718.7,791.3 720.6,790.8 722.5,790.2 724.5,789.7 726.4,789.2 728.3,788.7 730.3,788.2 732.2,787.7 734.1,787.2 736.1,786.7 738.0,786.2 740.0,785.7 741.9,785.2 743.8,784.7 745.8,784.2 747.7,783.7 749.7,783.2 751.6,782.7 753.5,782.2 755.5,781.8 757.4,781.3 759.4,780.8 761.3,780.3 763.2,779.8 765.2,779.3 767.1,778.9 769.1,778.4 771.0,777.9 773.0,777.4 774.9,777.0 776.9,776.5 778.8,776.0 780.7,775.6 782.7,775.1 784.6,774.6 786.6,774.2 788.5,773.7 790.5,773.3 792.4,772.8 794.4,772.3 796.3,771.9 798.3,771.4 800.2,771.0 802.2,770.5 804.1,770.1 806.1,769.6 808.0,769.2 810.0,768.7 811.9,768.3 813.9,767.8 815.8,767.4 817.8,767.0 819.7,766.5 821.7,766.1 823.7,765.6 825.6,765.2 827.6,764.8 829.5,764.3 831.5,763.9 833.4,763.5 835.4,763.0 837.3,762.6 839.3,762.2 841.2,761.8 843.2,761.3 845.2,760.9 847.1,760.5 849.1,760.1 851.0,759.6 853.0,759.2 854.9,758.8 856.9,758.4 858.9,758.0 860.8,757.6 862.8,757.1 864.7,756.7 866.7,756.3 868.7,755.9 870.6,755.5 872.6,755.1 874.5,754.7 876.5,754.3 878.5,753.9 880.4,753.5 882.4,753.1 884.3,752.7 886.3,752.3 888.3,751.9 890.2,751.5 892.2,751.1 894.1,750.7 896.1,750.3 898.1,749.9 900.0,749.5 902.0,749.1 904.0,748.7 905.9,748.3 907.9,747.9 909.8,747.5 911.8,747.1 913.8,746.8 915.7,746.4 917.7,746.0 919.7,745.6 921.6,745.2 923.6,744.8 925.6,744.5 927.5,744.1 929.5,743.7 931.4,743.3 933.4,742.9 935.4,742.6 937.3,742.2 939.3,741.8 941.3,741.4 943.2,741.1 945.2,740.7 947.2,740.3 949.1,739.9 951.1,739.6 953.1,739.2 955.0,738.8 957.0,738.5" stroke="#a100ab" stroke-width="3.00"/>
<path d="M127.0,1025.0 128.5,1023.7 130.1,1022.4 131.6,1021.2 133.1,1019.9 134.7,1018.6 136.2,1017.3 137.7,1016.0 139.2,1014.7 140.7,1013.3 142.2,1012.0 143.7,1010.7 145.2,1009.4 146.7,1008.1 148.2,1006.8 149.7,1005.4 151.2,1004.1 152.7,1002.8 154.2,1001.4 155.7,1000.1 157.2,998.7 158.6,997.4 160.1,996.0 161.6,994.7 163.1,993.3 164.5,992.0 166.0,990.6 167.5,989.2 168.9,987.9 170.4,986.5 171.8,985.1 173.3,983.8 174.7,982.4 176.2,981.0 177.6,979.6 179.1,978.2 180.5,976.9 182.0,975.5 183.4,974.1 184.8,972.7 186.3,971.3 187.7,969.9 189.2,968.5 190.6,967.1 192.0,965.7 193.5,964.3 194.9,962.9 196.3,961.5 197.7,960.1 199.2,958.7 200.6,957.3 202.0,955.9 203.4,954.5 204.9,953.1 206.3,951.7 207.7,950.3 209.1,948.9 210.5,947.5 212.0,946.0 213.4,944.6 214.8,943.2 216.2,941.8 217.6,940.4 219.1,939.0 220.5,937.6 221.9,936.1 223.3,934.7 224.7,933.3 226.1,931.9 227.5,930.5 229.0,929.1 230.4,927.7 231.8,926.2 233.2,924.8 234.6,923.4 236.0,922.0 237.5,920.6 238.9,919.2 240.3,917.8 241.7,916.3 243.1,914.9 244.6,913.5 246.0,912.1 247.4,910.7 248.8,909.3 250.2,907.9 251.7,906.5 253.1,905.1 254.5,903.7 255.9,902.3 257.4,900.9 258.8,899.5 260.2,898.1 261.7,896.7 263.1,895.3 264.5,893.9 266.0,892.5 267.4,891.1 268.8,889.7 270.3,888.3 271.7,886.9 273.2,885.6 274.6,884.2 276.1,882.8 277.5,881.4 278.9,880.0 280.4,878.7 281.9,877.3 283.3,875.9 284.8,874.6 286.2,873.2 287.7,871.8 289.2,870.5 290.6,869.1 292.1,867.8 293.6,866.4 295.0,865.1 296.5,863.7 298.0,862.4 299.5,861.0 301.0,859.7 302.5,858.4 304.0,857.0 305.5,855.7 306.9,854.4 308.4,853.1 310.0,851.7 311.5,850.4 313.0,849.1 314.5,847.8 316.0,846.5 317.5,845.2 319.0,843.9 320.6,842.6 322.1,841.3 323.6,840.1 325.2,838.8 326.7,837.5 328.2,836.2 329.8,835.0 331.3,833.7 332.9,832.4 334.5,831.2 336.0,829.9 337.6,828.7 339.2,827.5 340.7,826.2 342.3,825.0 343.9,823.8 345.5,822.5 347.1,821.3 348.7,820.1 350.3,818.9 351.9,817.7 353.5,816.5 353.8,818.6 354.1,820.7 354.4,822.8 354.7,824.8 355.0,826.7 355.4,828.6 355.8,830.5 356.2,832.4 356.6,834.3 357.0,836.1 357.4,837.9 357.9,839.8 358.4,841.6 358.9,843.5 359.4,845.4 360.0,847.3 360.5,849.2 361.1,851.2 361.7,853.2 362.3,855.2 362.9,857.3 363.6,859.4 364.3,861.4 365.1,863.4 365.9,865.4 366.8,867.4 367.8,869.2 368.8,871.0 369.9,872.6 371.2,874.1 372.5,875.5 373.9,876.8 375.4,877.9 377.1,878.7 378.8,879.4 380.5,879.9 382.3,880.1 384.2,880.1 386.0,879.8 387.8,879.3 389.5,878.7 391.3,877.9 393.0,876.9 394.7,875.9 396.4,874.8 398.0,873.6 399.7,872.4 401.4,871.2 403.1,870.0 404.8,868.9 406.4,867.7 408.1,866.6 409.8,865.4 411.5,864.3 413.2,863.2 414.9,862.1 416.6,861.0 418.3,859.9 420.1,858.8 421.8,857.7 423.5,856.6 425.2,855.5 426.9,854.5 428.6,853.4 430.4,852.4 432.1,851.3 433.8,850.3 435.6,849.3 437.3,848.3 439.0,847.3 440.8,846.3 442.5,845.3 444.3,844.3 446.0,843.3 447.8,842.3 449.5,841.4 451.3,840.4 453.1,839.4 454.8,838.5 456.6,837.5 458.3,836.6 460.1,835.7 461.9,834.7 463.7,833.8 465.4,832.9 467.2,832.0 469.0,831.0 470.8,830.1 472.5,829.2 474.3,828.3 476.1,827.4 477.9,826.5 479.7,825.7 481.5,824.8 483.3,823.9 485.1,823.0 486.9,822.1 488.7,821.3 490.5,820.4 492.3,819.6 494.1,818.7 495.9,817.8 497.7,817.0 499.5,816.1 501.3,815.3 503.2,814.5 505.0,813.6 506.8,812.8 508.6,812.0 510.4,811.1 512.3,810.3 514.1,809.5 515.9,808.7 517.8,807.9 519.6,807.1 521.4,806.3 523.3,805.5 525.1,804.7 526.9,803.9 528.8,803.1 530.6,802.3 532.5,801.5 534.3,800.7 536.1,799.9 538.0,799.2 539.8,798.4 541.7,797.6 543.5,796.9 545.4,796.1 547.2,795.3 549.1,794.6 551.0,793.8 552.8,793.1 554.7,792.3 556.5,791.6 558.4,790.8 560.3,790.1 562.1,789.4 564.0,788.6 565.9,787.9 567.7,787.2 569.6,786.5 571.5,785.7 573.3,785.0 575.2,784.3 577.1,783.6 579.0,782.9 580.9,782.2 582.7,781.5 584.6,780.8 586.5,780.1 588.4,779.4 590.3,778.7 592.1,778.0 594.0,777.3 595.9,776.6 597.8,775.9 599.7,775.3 601.6,774.6 603.5,773.9 605.4,773.2 607.2,772.6 609.1,771.9 611.0,771.2 612.9,770.6 614.8,769.9 616.7,769.3 618.6,768.6 620.5,768.0 622.4,767.3 624.3,766.7 626.2,766.0 628.1,765.4 630.0,764.7 631.9,764.1 633.8,763.5 635.7,762.8 637.6,762.2 639.5,761.6 641.4,760.9 643.3,760.3 645.3,759.7 647.2,759.1 649.1,758.5 651.0,757.8 652.9,757.2 654.8,756.6 656.7,756.0 658.6,755.4 660.5,754.8 662.4,754.2 664.4,753.6 666.3,753.0 668.2,752.4 670.1,751.8 672.0,751.2 673.9,750.6 675.9,750.0 677.8,749.4 679.7,748.9 681.6,748.3 683.5,747.7 685.4,747.1 687.4,746.5 689.3,746.0 691.2,745.4 693.1,744.8 695.1,744.3 697.0,743.7 698.9,743.1 700.8,742.6 702.8,742.0 704.7,741.5 706.6,740.9 708.5,740.4 710.5,739.8 712.4,739.3 714.3,738.7 716.2,738.2 718.2,737.6 720.1,737.1 722.0,736.5 724.0,736.0 725.9,735.5 727.8,734.9 729.8,734.4 731.7,733.9 733.6,733.4 735.6,732.8 737.5,732.3 739.4,731.8 741.4,731.3 743.3,730.8 745.2,730.3 747.2,729.7 749.1,729.2 751.1,728.7 753.0,728.2 754.9,727.7 756.9,727.2 758.8,726.7 760.8,726.2 762.7,725.7 764.6,725.2 766.6,724.7 768.5,724.2 770.5,723.8 772.4,723.3 774.4,722.8 776.3,722.3 778.3,721.8 780.2,721.3 782.1,720.9 784.1,720.4 786.0,719.9 788.0,719.4 789.9,719.0 791.9,718.5 793.8,718.0 795.8,717.6 797.7,717.1 799.7,716.7 801.6,716.2 803.6,715.7 805.5,715.3 807.5,714.8 809.4,714.4 811.4,713.9 813.4,713.5 815.3,713.1 817.3,712.6 819.2,712.2 821.2,711.7 823.1,711.3 825.1,710.9 827.0,710.4 829.0,710.0 831.0,709.6 832.9,709.1 834.9,708.7 836.8,708.3 838.8,707.9 840.8,707.4 842.7,707.0 844.7,706.6 846.6,706.2 848.6,705.8 850.6,705.4 852.5,704.9 854.5,704.5 856.4,704.1 858.4,703.7 860.4,703.3 862.3,702.9 864.3,702.5 866.3,702.1 868.2,701.7 870.2,701.3 872.2,700.9 874.1,700.5 876.1,700.2 878.1,699.8 880.0,699.4 882.0,699.0 884.0,698.6 885.9,698.2 887.9,697.9 889.9,697.5 891.8,697.1 893.8,696.7 895.8,696.4 897.7,696.0 899.7,695.6 901.7,695.2 903.7,694.9 905.6,694.5 907.6,694.2 909.6,693.8 911.5,693.4 913.5,693.1 915.5,692.7 917.5,692.4 919.4,692.0 921.4,691.7 923.4,691.3 925.4,691.0 927.3,690.6 929.3,690.3 931.3,689.9 933.3,689.6 935.2,689.2 937.2,688.9 939.2,688.6 941.2,688.2 943.2,687.9 945.1,687.6 947.1,687.2 949.1,686.9 951.1,686.6 953.0,686.3 955.0,685.9 957.0,685.6" stroke="#0808ff" stroke-width="3.00"/>
<path d="M127.0,1025.0 128.5,1023.7 130.1,1022.4 131.6,1021.2 133.1,1019.9 134.7,1018.6 136.2,1017.3 137.7,1016.0 139.2,1014.7 140.7,1013.3 142.2,1012.0 143.7,1010.7 145.2,1009.4 146.7,1008.1 148.2,1006.8 149.7,1005.4 151.2,1004.1 152.7,1002.8 154.2,1001.4 155.7,1000.1 157.2,998.7 158.6,997.4 160.1,996.0 161.6,994.7 163.1,993.3 164.5,992.0 166.0,990.6 167.5,989.2 168.9,987.9 170.4,986.5 171.8,985.1 173.3,983.8 174.7,982.4 176.2,981.0 177.6,979.6 179.1,978.2 180.5,976.9 182.0,975.5 183.4,974.1 184.8,972.7 186.3,971.3 187.7,969.9 189.2,968.5 190.6,967.1 192.0,965.7 193.5,964.3 194.9,962.9 196.3,961.5 197.7,960.1 199.2,958.7 200.6,957.3 202.0,955.9 203.4,954.5 204.9,953.1 206.3,951.7 207.7,950.3 209.1,948.9 210.5,947.5 212.0,946.0 213.4,944.6 214.8,943.2 216.2,941.8 217.6,940.4 219.1,939.0 220.5,937.6 221.9,936.1 223.3,934.7 224.7,933.3 226.1,931.9 227.5,930.5 229.0,929.1 230.4,927.7 231.8,926.2 233.2,924.8 234.6,923.4 236.0,922.0 237.5,920.6 238.9,919.2 240.3,917.8 241.7,916.3 243.1,914.9 244.6,913.5 246.0,912.1 247.4,910.7 248.8,909.3 250.2,907.9 251.7,906.5 253.1,905.1 254.5,903.7 255.9,902.3 257.4,900.9 258.8,899.5 260.2,898.1 261.7,896.7 263.1,895.3 264.5,893.9 266.0,892.5 267.4,891.1 268.8,889.7 270.3,888.3 271.7,886.9 273.2,885.6 274.6,884.2 276.1,882.8 277.5,881.4 278.9,880.0 280.4,878.7 281.9,877.3 283.3,875.9 284.8,874.6 286.2,873.2 287.7,871.8 289.2,870.5 290.6,869.1 292.1,867.8 293.6,866.4 295.0,865.1 296.5,863.7 298.0,862.4 299.5,861.0 301.0,859.7 302.5,858.4 304.0,857.0 305.5,855.7 306.9,854.4 308.4,853.1 310.0,851.7 311.5,850.4 313.0,849.1 314.5,847.8 316.0,846.5 317.5,845.2 319.0,843.9 320.6,842.6 322.1,841.3 323.6,840.1 325.2,838.8 326.7,837.5 328.2,836.2 329.8,835.0 331.3,833.7 332.9,832.4 334.5,831.2 336.0,829.9 337.6,828.7 339.2,827.5 340.7,826.2 342.3,825.0 343.9,823.8 345.5,822.5 347.1,821.3 348.7,820.1 350.3,818.9 351.9,817.7 353.5,816.5 354.0,818.4 354.4,820.3 354.7,822.2 355.0,824.2 355.3,826.1 355.6,828.1 355.9,830.1 356.1,832.1 356.4,834.1 356.7,836.1 357.1,838.1 357.5,840.1 357.9,842.1 358.4,844.1 359.0,846.1 359.6,848.1 360.4,850.1 361.3,852.1 362.3,854.0 363.4,855.9 364.5,857.7 365.8,859.3 367.2,860.8 368.6,862.0 370.1,863.0 371.7,863.6 373.3,864.1 375.0,864.3 376.7,864.2 378.5,864.0 380.3,863.6 382.1,863.0 383.9,862.3 385.7,861.5 387.5,860.5 389.3,859.5 391.1,858.4 392.9,857.3 394.6,856.2 396.3,855.0 398.0,853.8 399.6,852.6 401.3,851.5 402.9,850.2 404.5,849.0 406.1,847.8 407.7,846.6 409.4,845.4 411.0,844.3 412.6,843.1 414.2,841.9 415.9,840.8 417.5,839.6 419.2,838.5 420.8,837.4 422.5,836.2 424.2,835.1 425.8,834.0 427.5,832.9 429.2,831.8 430.9,830.7 432.6,829.7 434.3,828.6 436.0,827.5 437.7,826.5 439.4,825.4 441.1,824.4 442.8,823.3 444.5,822.3 446.3,821.3 448.0,820.3 449.7,819.3 451.5,818.3 453.2,817.3 454.9,816.3 456.7,815.3 458.4,814.3 460.2,813.4 462.0,812.4 463.7,811.4 465.5,810.5 467.2,809.5 469.0,808.6 470.8,807.6 472.6,806.7 474.3,805.8 476.1,804.8 477.9,803.9 479.7,803.0 481.5,802.1 483.3,801.2 485.0,800.3 486.8,799.4 488.6,798.5 490.4,797.6 492.2,796.7 494.0,795.8 495.8,794.9 497.6,794.0 499.4,793.2 501.2,792.3 503.0,791.4 504.9,790.6 506.7,789.7 508.5,788.9 510.3,788.0 512.1,787.1 513.9,786.3 515.7,785.5 517.6,784.6 519.4,783.8 521.2,783.0 523.0,782.1 524.9,781.3 526.7,780.5 528.5,779.7 530.4,778.8 532.2,778.0 534.0,777.2 535.9,776.4 537.7,775.6 539.6,774.8 541.4,774.0 543.2,773.2 545.1,772.4 546.9,771.7 548.8,770.9 550.6,770.1 552.5,769.3 554.3,768.6 556.2,767.8 558.0,767.0 559.9,766.3 561.7,765.5 563.6,764.8 565.5,764.0 567.3,763.3 569.2,762.5 571.1,761.8 572.9,761.0 574.8,760.3 576.6,759.6 578.5,758.8 580.4,758.1 582.3,757.4 584.1,756.7 586.0,755.9 587.9,755.2 589.8,754.5 591.6,753.8 593.5,753.1 595.4,752.4 597.3,751.7 599.2,751.0 601.0,750.3 602.9,749.6 604.8,748.9 606.7,748.3 608.6,747.6 610.5,746.9 612.4,746.2 614.2,745.5 616.1,744.9 618.0,744.2 619.9,743.5 621.8,742.9 623.7,742.2 625.6,741.6 627.5,740.9 629.4,740.3 631.3,739.6 633.2,739.0 635.1,738.3 637.0,737.7 638.9,737.1 640.8,736.4 642.7,735.8 644.6,735.2 646.5,734.5 648.4,733.9 650.3,733.3 652.2,732.7 654.2,732.1 656.1,731.4 658.0,730.8 659.9,730.2 661.8,729.6 663.7,729.0 665.6,728.4 667.5,727.8 669.4,727.2 671.4,726.6 673.3,726.0 675.2,725.5 677.1,724.9 679.0,724.3 681.0,723.7 682.9,723.1 684.8,722.6 686.7,722.0 688.6,721.4 690.6,720.8 692.5,720.3 694.4,719.7 696.3,719.2 698.3,718.6 700.2,718.0 702.1,717.5 704.0,716.9 706.0,716.4 707.9,715.8 709.8,715.3 711.8,714.8 713.7,714.2 715.6,713.7 717.6,713.1 719.5,712.6 721.4,712.1 723.4,711.6 725.3,711.0 727.2,710.5 729.2,710.0 731.1,709.5 733.0,709.0 735.0,708.4 736.9,707.9 738.9,707.4 740.8,706.9 742.7,706.4 744.7,705.9 746.6,705.4 748.6,704.9 750.5,704.4 752.5,703.9 754.4,703.4 756.3,702.9 758.3,702.5 760.2,702.0 762.2,701.5 764.1,701.0 766.1,700.5 768.0,700.1 770.0,699.6 771.9,699.1 773.9,698.6 775.8,698.2 777.8,697.7 779.7,697.3 781.7,696.8 783.6,696.3 785.6,695.9 787.5,695.4 789.5,695.0 791.4,694.5 793.4,694.1 795.4,693.6 797.3,693.2 799.3,692.7 801.2,692.3 803.2,691.9 805.1,691.4 807.1,691.0 809.1,690.6 811.0,690.1 813.0,689.7 814.9,689.3 816.9,688.9 818.9,688.4 820.8,688.0 822.8,687.6 824.7,687.2 826.7,686.8 828.7,686.4 830.6,685.9 832.6,685.5 834.6,685.1 836.5,684.7 838.5,684.3 840.5,683.9 842.4,683.5 844.4,683.1 846.4,682.7 848.3,682.3 850.3,682.0 852.3,681.6 854.2,681.2 856.2,680.8 858.2,680.4 860.1,680.0 862.1,679.6 864.1,679.3 866.1,678.9 868.0,678.5 870.0,678.1 872.0,677.8 873.9,677.4 875.9,677.0 877.9,676.7 879.9,676.3 881.8,675.9 883.8,675.6 885.8,675.2 887.7,674.9 889.7,674.5 891.7,674.2 893.7,673.8 895.6,673.5 897.6,673.1 899.6,672.8 901.6,672.4 903.6,672.1 905.5,671.7 907.5,671.4 909.5,671.1 911.5,670.7 913.4,670.4 915.4,670.1 917.4,669.7 919.4,669.4 921.4,669.1 923.3,668.7 925.3,668.4 927.3,668.1 929.3,667.8 931.2,667.4 933.2,667.1 935.2,666.8 937.2,666.5 939.2,666.2 941.1,665.9 943.1,665.6 945.1,665.2 947.1,664.9 949.1,664.6 951.1,664.3 953.0,664.0 955.0,663.7 957.0,663.4" stroke="#00dcdc" stroke-width="3.00"/>
<path d="M127.0,1025.0 128.5,1023.7 130.1,1022.4 131.6,1021.2 133.1,1019.9 134.7,1018.6 136.2,1017.3 137.7,1016.0 139.2,1014.7 140.7,1013.3 142.2,1012.0 143.7,1010.7 145.2,1009.4 146.7,1008.1 148.2,1006.8 149.7,1005.4 151.2,1004.1 152.7,1002.8 154.2,1001.4 155.7,1000.1 157.2,998.7 158.6,997.4 160.1,996.0 161.6,994.7 163.1,993.3 164.5,992.0 166.0,990.6 167.5,989.2 168.9,987.9 170.4,986.5 171.8,985.1 173.3,983.8 174.7,982.4 176.2,981.0 177.6,979.6 179.1,978.2 180.5,976.9 182.0,975.5 183.4,974.1 184.8,972.7 186.3,971.3 187.7,969.9 189.2,968.5 190.6,967.1 192.0,965.7 193.5,964.3 194.9,962.9 196.3,961.5 197.7,960.1 199.2,958.7 200.6,957.3 202.0,955.9 203.4,954.5 204.9,953.1 206.3,951.7 207.7,950.3 209.1,948.9 210.5,947.5 212.0,946.0 213.4,944.6 214.8,943.2 216.2,941.8 217.6,940.4 219.1,939.0 220.5,937.6 221.9,936.1 223.3,934.7 224.7,933.3 226.1,931.9 227.5,930.5 229.0,929.1 230.4,927.7 231.8,926.2 233.2,924.8 234.6,923.4 236.0,922.0 237.5,920.6 238.9,919.2 240.3,917.8 241.7,916.3 243.1,914.9 244.6,913.5 246.0,912.1 247.4,910.7 248.8,909.3 250.2,907.9 251.7,906.5 253.1,905.1 254.5,903.7 255.9,902.3 257.4,900.9 258.8,899.5 260.2,898.1 261.7,896.7 263.1,895.3 264.5,893.9 266.0,892.5 267.4,891.1 268.8,889.7 270.3,888.3 271.7,886.9 273.2,885.6 274.6,884.2 276.1,882.8 277.5,881.4 278.9,880.0 280.4,878.7 281.9,877.3 283.3,875.9 284.8,874.6 286.2,873.2 287.7,871.8 289.2,870.5 290.6,869.1 292.1,867.8 293.6,866.4 295.0,865.1 296.5,863.7 298.0,862.4 299.5,861.0 301.0,859.7 302.5,858.4 304.0,857.0 305.5,855.7 306.9,854.4 308.4,853.1 310.0,851.7 311.5,850.4 313.0,849.1 314.5,847.8 316.0,846.5 317.5,845.2 319.0,843.9 320.6,842.6 322.1,841.3 323.6,840.1 325.2,838.8 326.7,837.5 328.2,836.2 329.8,835.0 331.3,833.7 332.9,832.4 334.5,831.2 336.0,829.9 337.6,828.7 339.2,827.5 340.7,826.2 342.3,825.0 343.9,823.8 345.5,822.5 347.1,821.3 348.7,820.1 350.3,818.9 351.9,817.7 353.5,816.5 353.9,818.1 354.2,819.9 354.5,821.8 354.8,823.8 355.1,825.8 355.3,827.9 355.6,830.1 355.9,832.3 356.3,834.4 356.7,836.6 357.1,838.7 357.7,840.8 358.3,842.8 359.0,844.8 359.9,846.6 360.9,848.4 362.0,850.0 363.3,851.4 364.6,852.7 366.1,853.8 367.6,854.7 369.3,855.4 370.9,855.8 372.6,856.1 374.4,856.0 376.1,855.8 377.9,855.3 379.7,854.7 381.5,853.9 383.3,852.9 385.0,851.9 386.8,850.7 388.5,849.4 390.2,848.1 391.9,846.8 393.5,845.4 395.1,844.0 396.6,842.6 398.2,841.3 399.7,839.9 401.2,838.6 402.8,837.3 404.4,836.1 406.0,834.8 407.6,833.6 409.2,832.5 410.8,831.3 412.4,830.2 414.1,829.0 415.7,827.9 417.4,826.8 419.1,825.7 420.7,824.6 422.4,823.5 424.1,822.4 425.7,821.3 427.4,820.3 429.1,819.2 430.8,818.1 432.5,817.1 434.2,816.0 435.9,815.0 437.6,813.9 439.3,812.9 441.0,811.8 442.7,810.8 444.4,809.8 446.1,808.8 447.9,807.8 449.6,806.8 451.3,805.7 453.1,804.8 454.8,803.8 456.5,802.8 458.3,801.8 460.0,800.8 461.8,799.8 463.5,798.9 465.3,797.9 467.0,796.9 468.8,796.0 470.6,795.0 472.3,794.1 474.1,793.1 475.9,792.2 477.7,791.3 479.4,790.3 481.2,789.4 483.0,788.5 484.8,787.6 486.6,786.7 488.4,785.8 490.1,784.8 491.9,783.9 493.7,783.1 495.5,782.2 497.3,781.3 499.1,780.4 500.9,779.5 502.7,778.6 504.5,777.8 506.3,776.9 508.2,776.0 510.0,775.2 511.8,774.3 513.6,773.4 515.4,772.6 517.2,771.7 519.0,770.9 520.9,770.1 522.7,769.2 524.5,768.4 526.3,767.6 528.2,766.7 530.0,765.9 531.8,765.1 533.7,764.3 535.5,763.5 537.3,762.7 539.2,761.9 541.0,761.1 542.8,760.3 544.7,759.5 546.5,758.7 548.4,757.9 550.2,757.1 552.1,756.3 553.9,755.6 555.8,754.8 557.6,754.0 559.5,753.3 561.3,752.5 563.2,751.7 565.0,751.0 566.9,750.2 568.8,749.5 570.6,748.7 572.5,748.0 574.4,747.3 576.2,746.5 578.1,745.8 580.0,745.1 581.8,744.3 583.7,743.6 585.6,742.9 587.4,742.2 589.3,741.5 591.2,740.8 593.1,740.1 595.0,739.4 596.8,738.7 598.7,738.0 600.6,737.3 602.5,736.6 604.4,735.9 606.3,735.2 608.1,734.6 610.0,733.9 611.9,733.2 613.8,732.5 615.7,731.9 617.6,731.2 619.5,730.5 621.4,729.9 623.3,729.2 625.2,728.6 627.1,727.9 629.0,727.3 630.9,726.7 632.8,726.0 634.7,725.4 636.6,724.7 638.5,724.1 640.4,723.5 642.3,722.9 644.2,722.2 646.1,721.6 648.0,721.0 649.9,720.4 651.8,719.8 653.7,719.2 655.6,718.6 657.6,718.0 659.5,717.4 661.4,716.8 663.3,716.2 665.2,715.6 667.1,715.0 669.0,714.4 671.0,713.9 672.9,713.3 674.8,712.7 676.7,712.1 678.6,711.6 680.6,711.0 682.5,710.4 684.4,709.9 686.3,709.3 688.3,708.8 690.2,708.2 692.1,707.7 694.0,707.1 696.0,706.6 697.9,706.0 699.8,705.5 701.8,705.0 703.7,704.4 705.6,703.9 707.6,703.4 709.5,702.8 711.4,702.3 713.4,701.8 715.3,701.3 717.2,700.8 719.2,700.2 721.1,699.7 723.0,699.2 725.0,698.7 726.9,698.2 728.9,697.7 730.8,697.2 732.7,696.7 734.7,696.2 736.6,695.7 738.6,695.2 740.5,694.8 742.5,694.3 744.4,693.8 746.4,693.3 748.3,692.8 750.2,692.4 752.2,691.9 754.1,691.4 756.1,691.0 758.0,690.5 760.0,690.0 761.9,689.6 763.9,689.1 765.8,688.6 767.8,688.2 769.7,687.7 771.7,687.3 773.7,686.8 775.6,686.4 777.6,686.0 779.5,685.5 781.5,685.1 783.4,684.6 785.4,684.2 787.3,683.8 789.3,683.3 791.3,682.9 793.2,682.5 795.2,682.1 797.1,681.6 799.1,681.2 801.1,680.8 803.0,680.4 805.0,680.0 806.9,679.6 808.9,679.2 810.9,678.7 812.8,678.3 814.8,677.9 816.8,677.5 818.7,677.1 820.7,676.7 822.7,676.3 824.6,675.9 826.6,675.5 828.6,675.2 830.5,674.8 832.5,674.4 834.5,674.0 836.4,673.6 838.4,673.2 840.4,672.9 842.3,672.5 844.3,672.1 846.3,671.7 848.3,671.4 850.2,671.0 852.2,670.6 854.2,670.2 856.1,669.9 858.1,669.5 860.1,669.2 862.1,668.8 864.0,668.4 866.0,668.1 868.0,667.7 869.9,667.4 871.9,667.0 873.9,666.7 875.9,666.3 877.8,666.0 879.8,665.6 881.8,665.3 883.8,664.9 885.7,664.6 887.7,664.3 889.7,663.9 891.7,663.6 893.7,663.2 895.6,662.9 897.6,662.6 899.6,662.2 901.6,661.9 903.5,661.6 905.5,661.3 907.5,660.9 909.5,660.6 911.5,660.3 913.4,660.0 915.4,659.6 917.4,659.3 919.4,659.0 921.4,658.7 923.3,658.4 925.3,658.1 927.3,657.8 929.3,657.4 931.3,657.1 933.2,656.8 935.2,656.5 937.2,656.2 939.2,655.9 941.2,655.6 943.1,655.3 945.1,655.0 947.1,654.7 949.1,654.4 951.1,654.1 953.0,653.8 955.0,653.5 957.0,653.2" stroke="#009a00" stroke-width="3.00"/>
<path d="M127.0,1025.0 128.5,1023.7 130.1,1022.4 131.6,1021.2 133.1,1019.9 134.7,1018.6 136.2,1017.3 137.7,1016.0 139.2,1014.7 140.7,1013.3 142.2,1012.0 143.7,1010.7 145.2,1009.4 146.7,1008.1 148.2,1006.8 149.7,1005.4 151.2,1004.1 152.7,1002.8 154.2,1001.4 155.7,1000.1 157.2,998.7 158.6,997.4 160.1,996.0 161.6,994.7 163.1,993.3 164.5,992.0 166.0,990.6 167.5,989.2 168.9,987.9 170.4,986.5 171.8,985.1 173.3,983.8 174.7,982.4 176.2,981.0 177.6,979.6 179.1,978.2 180.5,976.9 182.0,975.5 183.4,974.1 184.8,972.7 186.3,971.3 187.7,969.9 189.2,968.5 190.6,967.1 192.0,965.7 193.5,964.3 194.9,962.9 196.3,961.5 197.7,960.1 199.2,958.7 200.6,957.3 202.0,955.9 203.4,954.5 204.9,953.1 206.3,951.7 207.7,950.3 209.1,948.9 210.5,947.5 212.0,946.0 213.4,944.6 214.8,943.2 216.2,941.8 217.6,940.4 219.1,939.0 220.5,937.6 221.9,936.1 223.3,934.7 224.7,933.3 226.1,931.9 227.5,930.5 229.0,929.1 230.4,927.7 231.8,926.2 233.2,924.8 234.6,923.4 236.0,922.0 237.5,920.6 238.9,919.2 240.3,917.8 241.7,916.3 243.1,914.9 244.6,913.5 246.0,912.1 247.4,910.7 248.8,909.3 250.2,907.9 251.7,906.5 253.1,905.1 254.5,903.7 255.9,902.3 257.4,900.9 258.8,899.5 260.2,898.1 261.7,896.7 263.1,895.3 264.5,893.9 266.0,892.5 267.4,891.1 268.8,889.7 270.3,888.3 271.7,886.9 273.2,885.6 274.6,884.2 276.1,882.8 277.5,881.4 278.9,880.0 280.4,878.7 281.9,877.3 283.3,875.9 284.8,874.6 286.2,873.2 287.7,871.8 289.2,870.5 290.6,869.1 292.1,867.8 293.6,866.4 295.0,865.1 296.5,863.7 298.0,862.4 299.5,861.0 301.0,859.7 302.5,858.4 304.0,857.0 305.5,855.7 306.9,854.4 308.4,853.1 310.0,851.7 311.5,850.4 313.0,849.1 314.5,847.8 316.0,846.5 317.5,845.2 319.0,843.9 320.6,842.6 322.1,841.3 323.6,840.1 325.2,838.8 326.7,837.5 328.2,836.2 329.8,835.0 331.3,833.7 332.9,832.4 334.5,831.2 336.0,829.9 337.6,828.7 339.2,827.5 340.7,826.2 342.3,825.0 343.9,823.8 345.5,822.5 347.1,821.3 348.7,820.1 350.3,818.9 351.9,817.7 353.5,816.5 353.9,818.1 354.2,819.8 354.4,821.7 354.7,823.8 355.0,825.9 355.3,828.0 355.6,830.2 355.9,832.4 356.4,834.6 356.9,836.8 357.5,838.9 358.2,840.9 359.0,842.7 359.9,844.5 361.0,846.0 362.3,847.4 363.6,848.5 365.1,849.5 366.7,850.2 368.3,850.7 370.0,850.9 371.7,850.8 373.4,850.5 375.1,850.0 376.9,849.3 378.6,848.4 380.4,847.3 382.1,846.2 383.9,844.9 385.6,843.6 387.3,842.2 389.0,840.8 390.7,839.3 392.3,837.9 393.9,836.6 395.5,835.2 397.0,833.9 398.5,832.7 400.0,831.5 401.6,830.2 403.1,829.0 404.7,827.8 406.3,826.6 407.9,825.5 409.5,824.3 411.1,823.1 412.7,822.0 414.4,820.8 416.0,819.7 417.6,818.6 419.3,817.4 420.9,816.3 422.6,815.2 424.3,814.1 425.9,813.0 427.6,811.9 429.3,810.8 431.0,809.7 432.6,808.6 434.3,807.6 436.0,806.5 437.7,805.4 439.4,804.4 441.1,803.3 442.8,802.3 444.5,801.2 446.2,800.2 447.9,799.2 449.7,798.2 451.4,797.1 453.1,796.1 454.8,795.1 456.6,794.1 458.3,793.1 460.0,792.1 461.8,791.2 463.5,790.2 465.3,789.2 467.0,788.2 468.8,787.3 470.5,786.3 472.3,785.3 474.0,784.4 475.8,783.5 477.6,782.5 479.3,781.6 481.1,780.6 482.9,779.7 484.7,778.8 486.4,777.9 488.2,777.0 490.0,776.1 491.8,775.2 493.6,774.3 495.4,773.4 497.2,772.5 499.0,771.6 500.8,770.7 502.6,769.8 504.4,769.0 506.2,768.1 508.0,767.2 509.8,766.4 511.6,765.5 513.4,764.7 515.2,763.8 517.0,763.0 518.8,762.2 520.7,761.3 522.5,760.5 524.3,759.7 526.1,758.9 528.0,758.0 529.8,757.2 531.6,756.4 533.4,755.6 535.3,754.8 537.1,754.0 538.9,753.2 540.8,752.5 542.6,751.7 544.5,750.9 546.3,750.1 548.2,749.3 550.0,748.6 551.9,747.8 553.7,747.1 555.6,746.3 557.4,745.6 559.3,744.8 561.1,744.1 563.0,743.3 564.8,742.6 566.7,741.9 568.6,741.1 570.4,740.4 572.3,739.7 574.2,739.0 576.0,738.2 577.9,737.5 579.8,736.8 581.7,736.1 583.5,735.4 585.4,734.7 587.3,734.0 589.2,733.3 591.0,732.7 592.9,732.0 594.8,731.3 596.7,730.6 598.6,730.0 600.5,729.3 602.3,728.6 604.2,728.0 606.1,727.3 608.0,726.6 609.9,726.0 611.8,725.3 613.7,724.7 615.6,724.1 617.5,723.4 619.4,722.8 621.3,722.1 623.2,721.5 625.1,720.9 627.0,720.3 628.9,719.6 630.8,719.0 632.7,718.4 634.6,717.8 636.5,717.2 638.4,716.6 640.3,716.0 642.2,715.4 644.1,714.8 646.0,714.2 648.0,713.6 649.9,713.0 651.8,712.4 653.7,711.8 655.6,711.3 657.5,710.7 659.4,710.1 661.4,709.5 663.3,709.0 665.2,708.4 667.1,707.8 669.0,707.3 671.0,706.7 672.9,706.2 674.8,705.6 676.7,705.1 678.6,704.5 680.6,704.0 682.5,703.4 684.4,702.9 686.3,702.4 688.3,701.8 690.2,701.3 692.1,700.8 694.1,700.2 696.0,699.7 697.9,699.2 699.9,698.7 701.8,698.2 703.7,697.6 705.7,697.1 707.6,696.6 709.5,696.1 711.5,695.6 713.4,695.1 715.3,694.6 717.3,694.1 719.2,693.6 721.1,693.1 723.1,692.7 725.0,692.2 727.0,691.7 728.9,691.2 730.8,690.7 732.8,690.3 734.7,689.8 736.7,689.3 738.6,688.8 740.6,688.4 742.5,687.9 744.5,687.4 746.4,687.0 748.3,686.5 750.3,686.1 752.2,685.6 754.2,685.2 756.1,684.7 758.1,684.3 760.0,683.8 762.0,683.4 763.9,683.0 765.9,682.5 767.8,682.1 769.8,681.7 771.8,681.2 773.7,680.8 775.7,680.4 777.6,679.9 779.6,679.5 781.5,679.1 783.5,678.7 785.4,678.3 787.4,677.9 789.4,677.4 791.3,677.0 793.3,676.6 795.2,676.2 797.2,675.8 799.1,675.4 801.1,675.0 803.1,674.6 805.0,674.2 807.0,673.8 809.0,673.5 810.9,673.1 812.9,672.7 814.8,672.3 816.8,671.9 818.8,671.5 820.7,671.2 822.7,670.8 824.7,670.4 826.6,670.0 828.6,669.7 830.6,669.3 832.5,668.9 834.5,668.6 836.5,668.2 838.4,667.8 840.4,667.5 842.4,667.1 844.3,666.8 846.3,666.4 848.3,666.1 850.3,665.7 852.2,665.4 854.2,665.0 856.2,664.7 858.1,664.3 860.1,664.0 862.1,663.7 864.0,663.3 866.0,663.0 868.0,662.6 870.0,662.3 871.9,662.0 873.9,661.7 875.9,661.3 877.9,661.0 879.8,660.7 881.8,660.4 883.8,660.0 885.8,659.7 887.7,659.4 889.7,659.1 891.7,658.8 893.7,658.5 895.6,658.1 897.6,657.8 899.6,657.5 901.6,657.2 903.6,656.9 905.5,656.6 907.5,656.3 909.5,656.0 911.5,655.7 913.4,655.4 915.4,655.1 917.4,654.8 919.4,654.5 921.4,654.2 923.3,653.9 925.3,653.7 927.3,653.4 929.3,653.1 931.3,652.8 933.2,652.5 935.2,652.2 937.2,652.0 939.2,651.7 941.2,651.4 943.1,651.1 945.1,650.8 947.1,650.6 949.1,650.3 951.1,650.0 953.0,649.8 955.0,649.5 957.0,649.2" stroke="#e2e214" stroke-width="3.00"/>
<path d="M127.0,1025.0 128.5,1023.7 130.1,1022.4 131.6,1021.2 133.1,1019.9 134.7,1018.6 136.2,1017.3 137.7,1016.0 139.2,1014.7 140.7,1013.3 142.2,1012.0 143.7,1010.7 145.2,1009.4 146.7,1008.1 148.2,1006.8 149.7,1005.4 151.2,1004.1 152.7,1002.8 154.2,1001.4 155.7,1000.1 157.2,998.7 158.6,997.4 160.1,996.0 161.6,994.7 163.1,993.3 164.5,992.0 166.0,990.6 167.5,989.2 168.9,987.9 170.4,986.5 171.8,985.1 173.3,983.8 174.7,982.4 176.2,981.0 177.6,979.6 179.1,978.2 180.5,976.9 182.0,975.5 183.4,974.1 184.8,972.7 186.3,971.3 187.7,969.9 189.2,968.5 190.6,967.1 192.0,965.7 193.5,964.3 194.9,962.9 196.3,961.5 197.7,960.1 199.2,958.7 200.6,957.3 202.0,955.9 203.4,954.5 204.9,953.1 206.3,951.7 207.7,950.3 209.1,948.9 210.5,947.5 212.0,946.0 213.4,944.6 214.8,943.2 216.2,941.8 217.6,940.4 219.1,939.0 220.5,937.6 221.9,936.1 223.3,934.7 224.7,933.3 226.1,931.9 227.5,930.5 229.0,929.1 230.4,927.7 231.8,926.2 233.2,924.8 234.6,923.4 236.0,922.0 237.5,920.6 238.9,919.2 240.3,917.8 241.7,916.3 243.1,914.9 244.6,913.5 246.0,912.1 247.4,910.7 248.8,909.3 250.2,907.9 251.7,906.5 253.1,905.1 254.5,903.7 255.9,902.3 257.4,900.9 258.8,899.5 260.2,898.1 261.7,896.7 263.1,895.3 264.5,893.9 266.0,892.5 267.4,891.1 268.8,889.7 270.3,888.3 271.7,886.9 273.2,885.6 274.6,884.2 276.1,882.8 277.5,881.4 278.9,880.0 280.4,878.7 281.9,877.3 283.3,875.9 284.8,874.6 286.2,873.2 287.7,871.8 289.2,870.5 290.6,869.1 292.1,867.8 293.6,866.4 295.0,865.1 296.5,863.7 298.0,862.4 299.5,861.0 301.0,859.7 302.5,858.4 304.0,857.0 305.5,855.7 306.9,854.4 308.4,853.1 310.0,851.7 311.5,850.4 313.0,849.1 314.5,847.8 316.0,846.5 317.5,845.2 319.0,843.9 320.6,842.6 322.1,841.3 323.6,840.1 325.2,838.8 326.7,837.5 328.2,836.2 329.8,835.0 331.3,833.7 332.9,832.4 334.5,831.2 336.0,829.9 337.6,828.7 339.2,827.5 340.7,826.2 342.3,825.0 343.9,823.8 345.5,822.5 347.1,821.3 348.7,820.1 350.3,818.9 351.9,817.7 353.5,816.5 353.9,818.1 354.2,819.9 354.5,821.8 354.8,823.9 355.1,826.0 355.4,828.2 355.7,830.4 356.1,832.6 356.6,834.8 357.1,836.8 357.8,838.8 358.7,840.7 359.7,842.4 360.8,843.9 362.1,845.2 363.6,846.2 365.1,847.0 366.8,847.6 368.4,847.8 370.1,847.8 371.8,847.5 373.6,847.0 375.3,846.2 377.1,845.3 378.8,844.2 380.6,843.0 382.3,841.6 384.0,840.2 385.8,838.7 387.4,837.2 389.1,835.7 390.7,834.2 392.3,832.7 393.8,831.3 395.3,830.0 396.7,828.7 398.2,827.5 399.6,826.3 401.1,825.1 402.7,823.9 404.2,822.8 405.8,821.6 407.4,820.5 409.0,819.3 410.6,818.2 412.3,817.0 414.0,815.9 415.6,814.8 417.3,813.7 419.0,812.5 420.6,811.4 422.3,810.3 424.0,809.2 425.7,808.1 427.4,807.0 429.1,805.9 430.7,804.8 432.4,803.7 434.1,802.7 435.8,801.6 437.5,800.5 439.2,799.5 441.0,798.4 442.7,797.3 444.4,796.3 446.1,795.2 447.8,794.2 449.5,793.2 451.3,792.1 453.0,791.1 454.7,790.1 456.4,789.1 458.2,788.0 459.9,787.0 461.6,786.0 463.4,785.0 465.1,784.0 466.9,783.0 468.6,782.1 470.4,781.1 472.1,780.1 473.9,779.1 475.6,778.2 477.4,777.2 479.2,776.3 480.9,775.3 482.7,774.4 484.5,773.4 486.3,772.5 488.0,771.6 489.8,770.6 491.6,769.7 493.4,768.8 495.2,767.9 497.0,767.0 498.7,766.1 500.5,765.2 502.3,764.3 504.1,763.4 505.9,762.6 507.7,761.7 509.6,760.8 511.4,760.0 513.2,759.1 515.0,758.2 516.8,757.4 518.6,756.6 520.4,755.7 522.3,754.9 524.1,754.1 525.9,753.2 527.7,752.4 529.6,751.6 531.4,750.8 533.2,750.0 535.1,749.2 536.9,748.4 538.8,747.6 540.6,746.8 542.5,746.0 544.3,745.3 546.2,744.5 548.0,743.7 549.9,743.0 551.7,742.2 553.6,741.4 555.4,740.7 557.3,740.0 559.2,739.2 561.0,738.5 562.9,737.7 564.8,737.0 566.6,736.3 568.5,735.6 570.4,734.9 572.3,734.1 574.1,733.4 576.0,732.7 577.9,732.0 579.8,731.3 581.6,730.7 583.5,730.0 585.4,729.3 587.3,728.6 589.2,727.9 591.1,727.3 593.0,726.6 594.9,725.9 596.8,725.3 598.7,724.6 600.6,724.0 602.5,723.3 604.4,722.7 606.3,722.0 608.2,721.4 610.1,720.8 612.0,720.1 613.9,719.5 615.8,718.9 617.7,718.3 619.6,717.6 621.5,717.0 623.4,716.4 625.3,715.8 627.3,715.2 629.2,714.6 631.1,714.0 633.0,713.4 634.9,712.8 636.8,712.2 638.8,711.7 640.7,711.1 642.6,710.5 644.5,709.9 646.4,709.4 648.4,708.8 650.3,708.2 652.2,707.7 654.2,707.1 656.1,706.6 658.0,706.0 659.9,705.5 661.9,704.9 663.8,704.4 665.7,703.8 667.7,703.3 669.6,702.8 671.5,702.2 673.5,701.7 675.4,701.2 677.3,700.6 679.3,700.1 681.2,699.6 683.1,699.1 685.1,698.6 687.0,698.1 689.0,697.6 690.9,697.1 692.8,696.6 694.8,696.1 696.7,695.6 698.7,695.1 700.6,694.6 702.6,694.1 704.5,693.6 706.4,693.1 708.4,692.6 710.3,692.2 712.3,691.7 714.2,691.2 716.2,690.8 718.1,690.3 720.1,689.8 722.0,689.4 724.0,688.9 725.9,688.4 727.9,688.0 729.8,687.5 731.8,687.1 733.8,686.6 735.7,686.2 737.7,685.8 739.6,685.3 741.6,684.9 743.5,684.4 745.5,684.0 747.5,683.6 749.4,683.1 751.4,682.7 753.3,682.3 755.3,681.9 757.3,681.5 759.2,681.0 761.2,680.6 763.1,680.2 765.1,679.8 767.1,679.4 769.0,679.0 771.0,678.6 773.0,678.2 774.9,677.8 776.9,677.4 778.9,677.0 780.8,676.6 782.8,676.2 784.8,675.8 786.7,675.4 788.7,675.0 790.7,674.7 792.6,674.3 794.6,673.9 796.6,673.5 798.5,673.1 800.5,672.8 802.5,672.4 804.5,672.0 806.4,671.7 808.4,671.3 810.4,670.9 812.3,670.6 814.3,670.2 816.3,669.8 818.3,669.5 820.2,669.1 822.2,668.8 824.2,668.4 826.2,668.1 828.1,667.7 830.1,667.4 832.1,667.0 834.1,666.7 836.0,666.3 838.0,666.0 840.0,665.7 842.0,665.3 844.0,665.0 845.9,664.7 847.9,664.3 849.9,664.0 851.9,663.7 853.9,663.3 855.8,663.0 857.8,662.7 859.8,662.4 861.8,662.0 863.8,661.7 865.7,661.4 867.7,661.1 869.7,660.8 871.7,660.4 873.7,660.1 875.6,659.8 877.6,659.5 879.6,659.2 881.6,658.9 883.6,658.6 885.6,658.3 887.5,658.0 889.5,657.7 891.5,657.4 893.5,657.1 895.5,656.8 897.5,656.5 899.4,656.2 901.4,655.9 903.4,655.6 905.4,655.3 907.4,655.0 909.4,654.7 911.3,654.4 913.3,654.1 915.3,653.8 917.3,653.6 919.3,653.3 921.3,653.0 923.3,652.7 925.2,652.4 927.2,652.1 929.2,651.9 931.2,651.6 933.2,651.3 935.2,651.0 937.1,650.7 939.1,650.5 941.1,650.2 943.1,649.9 945.1,649.6 947.1,649.4 949.1,649.1 951.0,648.8 953.0,648.5 955.0,648.3 957.0,648.0" stroke="#ff9900" stroke-width="3.00"/>
<path d="M127.0,1025.0 128.5,1023.7 130.1,1022.4 131.6,1021.2 133.1,1019.9 134.7,1018.6 136.2,1017.3 137.7,1016.0 139.2,1014.7 140.7,1013.3 142.2,1012.0 143.7,1010.7 145.2,1009.4 146.7,1008.1 148.2,1006.8 149.7,1005.4 151.2,1004.1 152.7,1002.8 154.2,1001.4 155.7,1000.1 157.2,998.7 158.6,997.4 160.1,996.0 161.6,994.7 163.1,993.3 164.5,992.0 166.0,990.6 167.5,989.2 168.9,987.9 170.4,986.5 171.8,985.1 173.3,983.8 174.7,982.4 176.2,981.0 177.6,979.6 179.1,978.2 180.5,976.9 182.0,975.5 183.4,974.1 184.8,972.7 186.3,971.3 187.7,969.9 189.2,968.5 190.6,967.1 192.0,965.7 193.5,964.3 194.9,962.9 196.3,961.5 197.7,960.1 199.2,958.7 200.6,957.3 202.0,955.9 203.4,954.5 204.9,953.1 206.3,951.7 207.7,950.3 209.1,948.9 210.5,947.5 212.0,946.0 213.4,944.6 214.8,943.2 216.2,941.8 217.6,940.4 219.1,939.0 220.5,937.6 221.9,936.1 223.3,934.7 224.7,933.3 226.1,931.9 227.5,930.5 229.0,929.1 230.4,927.7 231.8,926.2 233.2,924.8 234.6,923.4 236.0,922.0 237.5,920.6 238.9,919.2 240.3,917.8 241.7,916.3 243.1,914.9 244.6,913.5 246.0,912.1 247.4,910.7 248.8,909.3 250.2,907.9 251.7,906.5 253.1,905.1 254.5,903.7 255.9,902.3 257.4,900.9 258.8,899.5 260.2,898.1 261.7,896.7 263.1,895.3 264.5,893.9 266.0,892.5 267.4,891.1 268.8,889.7 270.3,888.3 271.7,886.9 273.2,885.6 274.6,884.2 276.1,882.8 277.5,881.4 278.9,880.0 280.4,878.7 281.9,877.3 283.3,875.9 284.8,874.6 286.2,873.2 287.7,871.8 289.2,870.5 290.6,869.1 292.1,867.8 293.6,866.4 295.0,865.1 296.5,863.7 298.0,862.4 299.5,861.0 301.0,859.7 302.5,858.4 304.0,857.0 305.5,855.7 306.9,854.4 308.4,853.1 310.0,851.7 311.5,850.4 313.0,849.1 314.5,847.8 316.0,846.5 317.5,845.2 319.0,843.9 320.6,842.6 322.1,841.3 323.6,840.1 325.2,838.8 326.7,837.5 328.2,836.2 329.8,835.0 331.3,833.7 332.9,832.4 334.5,831.2 336.0,829.9 337.6,828.7 339.2,827.5 340.7,826.2 342.3,825.0 343.9,823.8 345.5,822.5 347.1,821.3 348.7,820.1 350.3,818.9 351.9,817.7 353.5,816.5 354.1,818.3 354.6,820.2 355.0,822.2 355.3,824.2 355.6,826.2 356.0,828.2 356.3,830.3 356.8,832.3 357.3,834.3 358.0,836.3 358.8,838.2 359.8,840.0 360.9,841.7 362.2,843.1 363.7,844.3 365.2,845.1 366.8,845.6 368.6,845.6 370.4,845.2 372.2,844.5 374.1,843.6 375.9,842.5 377.7,841.2 379.5,839.8 381.2,838.4 382.8,837.0 384.4,835.6 385.8,834.3 387.3,833.0 388.7,831.6 390.1,830.3 391.5,829.1 393.0,827.8 394.4,826.6 396.0,825.3 397.5,824.1 399.1,822.9 400.7,821.7 402.3,820.5 403.9,819.3 405.5,818.1 407.1,816.9 408.7,815.8 410.3,814.6 412.0,813.4 413.6,812.3 415.2,811.1 416.9,810.0 418.5,808.9 420.2,807.7 421.8,806.6 423.5,805.5 425.2,804.4 426.8,803.3 428.5,802.2 430.2,801.1 431.9,800.0 433.5,798.9 435.2,797.8 436.9,796.7 438.6,795.7 440.3,794.6 442.0,793.5 443.7,792.5 445.5,791.4 447.2,790.4 448.9,789.4 450.6,788.3 452.4,787.3 454.1,786.3 455.8,785.3 457.6,784.3 459.3,783.3 461.0,782.3 462.8,781.3 464.5,780.3 466.3,779.3 468.1,778.4 469.8,777.4 471.6,776.4 473.3,775.5 475.1,774.5 476.9,773.6 478.7,772.6 480.4,771.7 482.2,770.8 484.0,769.8 485.8,768.9 487.6,768.0 489.4,767.1 491.1,766.2 492.9,765.3 494.7,764.4 496.5,763.5 498.3,762.6 500.1,761.7 501.9,760.8 503.7,760.0 505.6,759.1 507.4,758.3 509.2,757.4 511.0,756.5 512.8,755.7 514.6,754.9 516.5,754.0 518.3,753.2 520.1,752.4 521.9,751.5 523.8,750.7 525.6,749.9 527.4,749.1 529.3,748.3 531.1,747.5 532.9,746.7 534.8,745.9 536.6,745.1 538.5,744.4 540.3,743.6 542.2,742.8 544.0,742.0 545.9,741.3 547.7,740.5 549.6,739.8 551.5,739.0 553.3,738.3 555.2,737.5 557.0,736.8 558.9,736.1 560.8,735.3 562.6,734.6 564.5,733.9 566.4,733.2 568.3,732.5 570.1,731.8 572.0,731.0 573.9,730.3 575.8,729.7 577.7,729.0 579.5,728.3 581.4,727.6 583.3,726.9 585.2,726.2 587.1,725.6 589.0,724.9 590.9,724.2 592.8,723.6 594.7,722.9 596.6,722.3 598.5,721.6 600.4,721.0 602.3,720.3 604.2,719.7 606.1,719.0 608.0,718.4 609.9,717.8 611.8,717.2 613.7,716.5 615.6,715.9 617.5,715.3 619.4,714.7 621.3,714.1 623.2,713.5 625.1,712.9 627.1,712.3 629.0,711.7 630.9,711.1 632.8,710.5 634.7,709.9 636.6,709.3 638.6,708.8 640.5,708.2 642.4,707.6 644.3,707.1 646.3,706.5 648.2,705.9 650.1,705.4 652.0,704.8 654.0,704.3 655.9,703.7 657.8,703.2 659.7,702.6 661.7,702.1 663.6,701.5 665.5,701.0 667.5,700.5 669.4,699.9 671.3,699.4 673.3,698.9 675.2,698.4 677.1,697.9 679.1,697.3 681.0,696.8 683.0,696.3 684.9,695.8 686.8,695.3 688.8,694.8 690.7,694.3 692.7,693.8 694.6,693.3 696.6,692.8 698.5,692.4 700.4,691.9 702.4,691.4 704.3,690.9 706.3,690.4 708.2,690.0 710.2,689.5 712.1,689.0 714.1,688.6 716.0,688.1 718.0,687.6 719.9,687.2 721.9,686.7 723.8,686.3 725.8,685.8 727.7,685.4 729.7,684.9 731.7,684.5 733.6,684.0 735.6,683.6 737.5,683.2 739.5,682.7 741.4,682.3 743.4,681.9 745.4,681.4 747.3,681.0 749.3,680.6 751.2,680.2 753.2,679.8 755.2,679.3 757.1,678.9 759.1,678.5 761.1,678.1 763.0,677.7 765.0,677.3 767.0,676.9 768.9,676.5 770.9,676.1 772.9,675.7 774.8,675.3 776.8,674.9 778.8,674.5 780.7,674.1 782.7,673.8 784.7,673.4 786.6,673.0 788.6,672.6 790.6,672.2 792.5,671.9 794.5,671.5 796.5,671.1 798.5,670.7 800.4,670.4 802.4,670.0 804.4,669.7 806.4,669.3 808.3,668.9 810.3,668.6 812.3,668.2 814.3,667.9 816.2,667.5 818.2,667.2 820.2,666.8 822.2,666.5 824.1,666.1 826.1,665.8 828.1,665.4 830.1,665.1 832.0,664.8 834.0,664.4 836.0,664.1 838.0,663.7 840.0,663.4 841.9,663.1 843.9,662.8 845.9,662.4 847.9,662.1 849.9,661.8 851.8,661.5 853.8,661.1 855.8,660.8 857.8,660.5 859.8,660.2 861.7,659.9 863.7,659.6 865.7,659.2 867.7,658.9 869.7,658.6 871.7,658.3 873.6,658.0 875.6,657.7 877.6,657.4 879.6,657.1 881.6,656.8 883.6,656.5 885.5,656.2 887.5,655.9 889.5,655.6 891.5,655.3 893.5,655.0 895.5,654.7 897.5,654.4 899.4,654.1 901.4,653.9 903.4,653.6 905.4,653.3 907.4,653.0 909.4,652.7 911.3,652.4 913.3,652.1 915.3,651.9 917.3,651.6 919.3,651.3 921.3,651.0 923.3,650.8 925.2,650.5 927.2,650.2 929.2,649.9 931.2,649.7 933.2,649.4 935.2,649.1 937.2,648.8 939.1,648.6 941.1,648.3 943.1,648.0 945.1,647.8 947.1,647.5 949.1,647.2 951.0,647.0 953.0,646.7 955.0,646.4 957.0,646.2" stroke="#ff0000" stroke-width="3.00"/>
</g>
<path d="M196.36,1063.20 v-14.80 M196.36,618.60 v14.80 M312.69,1063.20 v-14.80 M312.69,618.60 v14.80 M429.02,1063.20 v-14.80 M429.02,618.60 v14.80 M545.35,1063.20 v-14.80 M545.35,618.60 v14.80 M661.68,1063.20 v-14.80 M661.68,618.60 v14.80 M778.01,1063.20 v-14.80 M778.01,618.60 v14.80 M894.34,1063.20 v-14.80 M894.34,618.60 v14.80 M138.20,989.10 h14.80 M952.50,989.10 h-14.80 M138.20,915.00 h14.80 M952.50,915.00 h-14.80 M138.20,840.90 h14.80 M952.50,840.90 h-14.80 M138.20,766.80 h14.80 M952.50,766.80 h-14.80 M138.20,692.70 h14.80 M952.50,692.70 h-14.80" stroke="#000" stroke-width="2.70"/>
<rect x="138.20" y="618.60" width="814.30" height="444.60" stroke="#000" stroke-width="3.30"/>
<rect x="357.0" y="894.9" width="574.4" height="152.8" fill="#fff" fill-opacity="0.7" stroke="none"/>
<text x="383.86" y="926.60" font-size="35.30" textLength="161.94" lengthAdjust="spacingAndGlyphs">Nucleonic</text>
<path d="M566.1,914.10 H623.6" stroke="#000" stroke-width="4.60" stroke-dasharray="10.3 15.4"/>
<text x="409.54" y="964.80" font-size="35.30" textLength="136.26" lengthAdjust="spacingAndGlyphs">LL4(0,0)</text>
<path d="M566.1,952.30 H623.6" stroke="#a100ab" stroke-width="3.00"/>
<text x="367.47" y="1003.00" font-size="35.30" textLength="178.33" lengthAdjust="spacingAndGlyphs">LL4(100,0)</text>
<path d="M566.1,990.50 H623.6" stroke="#0808ff" stroke-width="3.00"/>
<text x="367.47" y="1041.20" font-size="35.30" textLength="178.33" lengthAdjust="spacingAndGlyphs">LL4(200,0)</text>
<path d="M566.1,1028.70 H623.6" stroke="#00dcdc" stroke-width="3.00"/>
<text x="654.67" y="926.60" font-size="35.30" textLength="178.33" lengthAdjust="spacingAndGlyphs">LL4(300,0)</text>
<path d="M853.3,914.10 H910.8" stroke="#009a00" stroke-width="3.00"/>
<text x="654.67" y="964.80" font-size="35.30" textLength="178.33" lengthAdjust="spacingAndGlyphs">LL4(400,0)</text>
<path d="M853.3,952.30 H910.8" stroke="#e2e214" stroke-width="3.00"/>
<text x="654.67" y="1003.00" font-size="35.30" textLength="178.33" lengthAdjust="spacingAndGlyphs">LL4(500,0)</text>
<path d="M853.3,990.50 H910.8" stroke="#ff9900" stroke-width="3.00"/>
<text x="654.67" y="1041.20" font-size="35.30" textLength="178.33" lengthAdjust="spacingAndGlyphs">LL4(600,0)</text>
<path d="M853.3,1028.70 H910.8" stroke="#ff0000" stroke-width="3.00"/>
<rect x="701.5" y="817.45" width="196.1" height="49.3" fill="#fff" stroke="#000" stroke-width="2.2"/>
<text x="709.79" y="858.36" font-size="47.31" textLength="183.42" lengthAdjust="spacingAndGlyphs" font-weight="bold" stroke="#000" stroke-width="1.68">KIDS-D</text>
<text x="179.50" y="674.80" font-size="33.08" textLength="52.36" lengthAdjust="spacingAndGlyphs" font-weight="bold" stroke="#000" stroke-width="1.20">(b)</text>
<text x="244.50" y="674.80" font-size="33.08" textLength="114.10" lengthAdjust="spacingAndGlyphs" font-weight="bold" stroke="#000" stroke-width="1.20">Speed</text>
<text x="371.24" y="674.80" font-size="33.08" textLength="35.68" lengthAdjust="spacingAndGlyphs" font-weight="bold" stroke="#000" stroke-width="1.20">of</text>
<text x="419.56" y="674.80" font-size="33.08" textLength="111.26" lengthAdjust="spacingAndGlyphs" font-weight="bold" stroke="#000" stroke-width="1.20">sound</text>
<text x="95.96" y="1075.40" font-size="35.30" textLength="21.04" lengthAdjust="spacingAndGlyphs">0</text>
<text x="64.42" y="1001.30" font-size="35.30" textLength="52.58" lengthAdjust="spacingAndGlyphs">0.2</text>
<text x="64.42" y="927.20" font-size="35.30" textLength="52.58" lengthAdjust="spacingAndGlyphs">0.4</text>
<text x="64.42" y="853.10" font-size="35.30" textLength="52.58" lengthAdjust="spacingAndGlyphs">0.6</text>
<text x="64.42" y="779.00" font-size="35.30" textLength="52.58" lengthAdjust="spacingAndGlyphs">0.8</text>
<text x="95.96" y="704.90" font-size="35.30" textLength="21.04" lengthAdjust="spacingAndGlyphs">1</text>
<text x="64.42" y="630.80" font-size="35.30" textLength="52.58" lengthAdjust="spacingAndGlyphs">1.2</text>
<text x="174.67" y="1113.80" font-size="35.30" textLength="52.58" lengthAdjust="spacingAndGlyphs">0.2</text>
<text x="291.00" y="1113.80" font-size="35.30" textLength="52.58" lengthAdjust="spacingAndGlyphs">0.4</text>
<text x="407.33" y="1113.80" font-size="35.30" textLength="52.58" lengthAdjust="spacingAndGlyphs">0.6</text>
<text x="523.66" y="1113.80" font-size="35.30" textLength="52.58" lengthAdjust="spacingAndGlyphs">0.8</text>
<text x="655.76" y="1113.80" font-size="35.30" textLength="21.04" lengthAdjust="spacingAndGlyphs">1</text>
<text x="756.32" y="1113.80" font-size="35.30" textLength="52.58" lengthAdjust="spacingAndGlyphs">1.2</text>
<text x="872.64" y="1113.80" font-size="35.30" textLength="52.58" lengthAdjust="spacingAndGlyphs">1.4</text>
<text x="465.57" y="1162.80" font-size="35.30" textLength="20.99" lengthAdjust="spacingAndGlyphs">ρ</text>
<text x="486.73" y="1170.50" font-size="28.24" textLength="18.15" lengthAdjust="spacingAndGlyphs">B</text>
<text x="515.61" y="1162.80" font-size="35.30" textLength="56.75" lengthAdjust="spacingAndGlyphs">(fm</text>
<text x="572.82" y="1152.00" font-size="28.24" textLength="38.99" lengthAdjust="spacingAndGlyphs">−3</text>
<text x="612.13" y="1162.80" font-size="35.30" textLength="12.90" lengthAdjust="spacingAndGlyphs">)</text>
<g transform="translate(31.7 840.9) rotate(-90)">
<text x="-16.11" y="0.00" font-size="35.30" textLength="18.18" lengthAdjust="spacingAndGlyphs">c</text>
<text x="2.22" y="7.70" font-size="28.24" textLength="13.78" lengthAdjust="spacingAndGlyphs">s</text>
</g>
<path d="M545.25,1661.30 L545.25,1216.00" stroke="#000" stroke-width="2.8" stroke-dasharray="1.8 7.006"/>
<g clip-path="url(#cc)">
<path d="M150.0,1660.4 152.0,1660.4 154.0,1660.5 156.0,1660.5 158.0,1660.5 160.0,1660.6 162.0,1660.6 164.0,1660.6 166.0,1660.6 168.0,1660.6 170.0,1660.6 172.1,1660.6 174.1,1660.5 176.1,1660.5 178.1,1660.4 180.1,1660.3 182.1,1660.2 184.2,1660.1 186.2,1660.0 188.2,1659.8 190.2,1659.6 192.2,1659.4 194.2,1659.2 196.1,1658.9 198.1,1658.6 200.1,1658.3 202.1,1657.9 204.0,1657.6 206.0,1657.1 207.9,1656.7 209.8,1656.2 211.8,1655.7 213.7,1655.1 215.6,1654.5 217.5,1653.9 219.3,1653.2 221.2,1652.4 223.1,1651.7 224.9,1650.9 226.7,1650.0 228.5,1649.1 230.3,1648.1 232.1,1647.1 233.5,1645.7 235.0,1644.3 236.5,1643.0 237.9,1641.6 239.4,1640.2 240.9,1638.9 242.3,1637.5 243.8,1636.1 245.2,1634.7 246.6,1633.2 248.0,1631.8 249.3,1630.2 250.6,1628.7 251.8,1627.1 252.5,1625.2 253.2,1623.3 253.9,1621.5 254.7,1619.6 255.4,1617.7 256.2,1615.9 256.9,1614.0 257.7,1612.2 258.5,1610.4 259.3,1608.5 260.1,1606.7 260.9,1604.9 261.8,1603.0 262.6,1601.2 263.4,1599.4 264.3,1597.6 265.1,1595.8 266.0,1594.0 266.9,1592.2 267.7,1590.4 268.6,1588.6 269.5,1586.8 270.4,1585.0 271.3,1583.2 272.1,1581.4 273.0,1579.6 273.9,1577.8 274.8,1576.0 275.7,1574.2 276.6,1572.4 277.5,1570.6 278.3,1568.8 279.2,1567.0 280.1,1565.2 281.0,1563.4 281.9,1561.6 282.7,1559.8 283.6,1558.0 284.5,1556.2 285.3,1554.4 286.2,1552.6 287.1,1550.8 287.9,1549.0 288.8,1547.2 289.6,1545.3 290.5,1543.5 291.4,1541.7 292.2,1539.9 293.1,1538.1 293.9,1536.3 294.8,1534.5 295.7,1532.7 296.5,1530.9 297.4,1529.1 298.3,1527.3 299.1,1525.5 300.0,1523.7 300.9,1521.9 301.8,1520.1 302.6,1518.3 303.5,1516.5 304.4,1514.7 305.3,1512.9 306.2,1511.1 307.1,1509.3 308.0,1507.6 308.9,1505.8 309.8,1504.0 310.8,1502.2 311.7,1500.4 312.6,1498.7 313.5,1496.9 314.5,1495.1 315.4,1493.4 316.4,1491.6 317.3,1489.8 318.2,1488.1 319.2,1486.3 320.2,1484.5 321.1,1482.8 322.1,1481.0 323.0,1479.3 324.0,1477.5 325.0,1475.7 326.0,1474.0 326.9,1472.2 327.9,1470.5 328.9,1468.7 329.9,1467.0 330.9,1465.3 331.8,1463.5 332.8,1461.8 333.8,1460.0 334.8,1458.3 335.8,1456.5 336.8,1454.8 337.8,1453.1 338.8,1451.3 339.8,1449.6 340.8,1447.8 341.8,1446.1 342.8,1444.4 343.8,1442.6 344.8,1440.9 345.8,1439.2 346.8,1437.4 347.8,1435.7 348.8,1434.0 349.8,1432.2 350.8,1430.5 351.8,1428.8 352.8,1427.0 353.8,1425.3 354.8,1423.6 355.8,1421.8 356.8,1420.1 357.8,1418.4 358.8,1416.6 359.8,1414.9 360.8,1413.2 361.8,1411.4 362.8,1409.7 363.8,1408.0 364.8,1406.2 365.8,1404.5 366.8,1402.8 367.8,1401.0 368.8,1399.3 369.7,1397.5 370.7,1395.8 371.7,1394.1 372.6,1392.3 373.6,1390.6 374.5,1388.8 375.5,1387.1 376.4,1385.3 377.3,1383.5 378.3,1381.8 379.2,1380.0 380.1,1378.2 381.0,1376.4 381.9,1374.6 382.7,1372.8 383.6,1371.0 384.5,1369.2 385.3,1367.4 386.1,1365.6 386.9,1363.8 387.7,1361.9 388.5,1360.1 389.3,1358.3 390.1,1356.4 390.8,1354.5 391.6,1352.7 392.3,1350.8 393.0,1348.9 393.7,1347.0 394.4,1345.1 395.0,1343.2 395.7,1341.2 396.3,1339.3 396.9,1337.4 397.4,1335.4 398.0,1333.5 398.5,1331.5 398.9,1329.5 399.4,1327.6 399.8,1325.6 400.2,1323.6 400.5,1321.6 400.8,1319.6 401.1,1317.7 401.3,1315.7 401.5,1313.7 401.6,1311.7 401.7,1309.7 401.7,1307.7 401.6,1305.7 401.5,1303.8 401.4,1301.8 401.1,1299.9 400.8,1297.9 400.4,1296.0 399.9,1294.1 399.4,1292.3 398.7,1290.4 398.0,1288.6 397.1,1286.8 396.2,1285.1 395.2,1283.3 394.0,1281.7 392.8,1280.0 391.4,1278.4" stroke="#a100ab" stroke-width="3.00"/>
<path d="M150.0,1660.4 152.0,1660.4 153.9,1660.5 155.9,1660.5 157.9,1660.5 159.9,1660.5 161.9,1660.6 163.9,1660.6 165.9,1660.6 167.9,1660.6 169.9,1660.6 172.0,1660.6 174.0,1660.5 176.0,1660.5 178.0,1660.4 180.0,1660.4 182.0,1660.3 184.1,1660.2 186.1,1660.0 188.1,1659.9 190.1,1659.7 192.1,1659.5 194.1,1659.3 196.1,1659.0 198.0,1658.7 200.0,1658.4 202.0,1658.1 203.9,1657.7 205.9,1657.3 207.8,1656.8 209.7,1656.3 211.6,1655.8 213.5,1655.2 215.4,1654.6 217.3,1653.9 219.2,1653.2 221.0,1652.5 222.8,1651.7 224.7,1650.9 226.5,1650.0 228.2,1649.1 230.0,1648.2 231.8,1647.2 233.5,1646.2 235.2,1645.2 236.9,1644.1 238.6,1643.1 240.3,1641.9 242.0,1640.8 243.6,1639.6 245.2,1638.5 246.8,1637.3 248.4,1636.0 250.0,1634.8 251.6,1633.5 253.1,1632.3 254.6,1631.0 256.1,1629.7 257.6,1628.3 259.1,1627.0 260.6,1625.6 262.0,1624.3 263.5,1622.9 264.9,1621.5 266.4,1620.1 267.8,1618.7 269.2,1617.3 270.6,1615.9 272.0,1614.5 273.4,1613.0 274.8,1611.6 276.1,1610.1 277.5,1608.7 278.9,1607.2 280.3,1605.8 281.6,1604.3 283.0,1602.8 284.4,1601.4 285.7,1599.9 287.1,1598.4 288.4,1596.9 289.8,1595.5 291.2,1594.0 292.5,1592.5 293.9,1591.1 295.3,1589.6 296.6,1588.1 298.0,1586.7 299.4,1585.2 300.8,1583.8 302.2,1582.3 303.5,1580.9 304.9,1579.4 306.3,1578.0 307.7,1576.6 309.1,1575.1 310.6,1573.7 312.0,1572.3 313.4,1570.9 314.8,1569.5 316.3,1568.1 317.7,1566.8 319.2,1565.4 320.7,1564.1 322.1,1562.7 323.6,1561.4 325.1,1560.1 326.6,1558.7 328.1,1557.4 329.6,1556.1 331.1,1554.9 332.7,1553.6 334.2,1552.3 335.8,1551.0 337.3,1549.8 338.8,1548.5 340.4,1547.3 342.0,1546.0 343.5,1544.8 345.1,1543.5 346.7,1542.3 348.2,1541.1 349.8,1539.8 351.4,1538.6 353.0,1537.4 354.6,1536.2 356.1,1534.9 357.7,1533.7 359.3,1532.5 360.9,1531.3 362.5,1530.1 364.1,1528.8 365.7,1527.6 367.2,1526.4 368.8,1525.2 370.4,1523.9 372.0,1522.7 373.6,1521.5 375.2,1520.2 376.8,1519.0 378.4,1517.8 379.9,1516.6 381.5,1515.3 383.1,1514.1 384.7,1512.9 386.3,1511.6 387.9,1510.4 389.5,1509.2 391.0,1508.0 392.6,1506.7 394.2,1505.5 395.8,1504.3 397.4,1503.0 399.0,1501.8 400.6,1500.6 402.2,1499.3 403.7,1498.1 405.3,1496.9 406.9,1495.6 408.5,1494.4 410.1,1493.2 411.7,1491.9 413.2,1490.7 414.8,1489.5 416.4,1488.2 418.0,1487.0 419.6,1485.8 421.1,1484.5 422.7,1483.3 424.3,1482.1 425.9,1480.8 427.5,1479.6 429.0,1478.4 430.6,1477.1 432.2,1475.9 433.8,1474.7 435.4,1473.4 436.9,1472.2 438.5,1471.0 440.1,1469.7 441.7,1468.5 443.2,1467.3 444.8,1466.0 446.4,1464.8 447.9,1463.6 449.5,1462.4 451.1,1461.1 452.7,1459.9 454.2,1458.7 455.8,1457.4 457.4,1456.2 458.9,1455.0 460.5,1453.7 462.1,1452.5 463.6,1451.3 465.2,1450.1 466.7,1448.8 468.3,1447.6 469.9,1446.4 471.4,1445.2 473.0,1443.9 474.5,1442.7 476.1,1441.5 477.7,1440.2 479.2,1439.0 480.8,1437.8 482.3,1436.5 483.8,1435.3 485.4,1434.0 486.9,1432.8 488.5,1431.5 490.0,1430.2 491.5,1428.9 493.0,1427.6 494.6,1426.3 496.1,1425.0 497.6,1423.7 499.1,1422.3 500.6,1420.9 502.1,1419.6 503.6,1418.2 505.0,1416.8 506.5,1415.3 508.0,1413.9 509.4,1412.4 510.8,1410.9 512.1,1409.4 513.5,1407.9 514.8,1406.3 516.0,1404.8 517.2,1403.1 518.4,1401.5 519.5,1399.8 520.5,1398.2 521.5,1396.4 522.4,1394.7 523.3,1392.9 524.1,1391.1 524.8,1389.2 525.4,1387.3 525.9,1385.4 526.3,1383.5 526.7,1381.5 526.9,1379.6 527.0,1377.6 527.1,1375.7 527.0,1373.8 526.7,1371.8 526.4,1370.0 525.9,1368.1 525.3,1366.3 524.5,1364.5 523.6,1362.8 522.5,1361.2 521.3,1359.6 519.9,1358.1 518.4,1356.7 516.7,1355.3 514.8,1354.1" stroke="#0808ff" stroke-width="3.00"/>
<path d="M150.0,1660.4 152.0,1660.4 154.0,1660.4 156.0,1660.4 158.0,1660.4 160.0,1660.4 162.0,1660.4 164.0,1660.5 166.0,1660.5 168.0,1660.5 170.0,1660.5 172.0,1660.4 174.0,1660.4 176.0,1660.4 178.0,1660.3 180.0,1660.3 182.0,1660.2 184.0,1660.1 186.0,1660.0 188.0,1659.9 190.0,1659.7 192.0,1659.5 194.0,1659.3 196.0,1659.1 198.0,1658.9 200.0,1658.6 202.0,1658.3 204.0,1658.0 205.9,1657.6 207.9,1657.2 209.9,1656.8 211.8,1656.3 213.8,1655.8 215.7,1655.2 217.6,1654.6 219.5,1654.0 221.4,1653.4 223.3,1652.7 225.1,1651.9 226.9,1651.1 228.8,1650.3 230.6,1649.4 232.3,1648.5 234.1,1647.6 235.9,1646.6 237.6,1645.7 239.4,1644.7 241.1,1643.7 242.9,1642.7 244.6,1641.7 246.4,1640.7 248.1,1639.8 249.9,1638.8 251.6,1637.8 253.4,1636.8 255.2,1635.8 256.9,1634.9 258.6,1633.9 260.4,1632.8 262.1,1631.8 263.7,1630.7 265.4,1629.6 267.0,1628.5 268.6,1627.3 270.2,1626.1 271.8,1624.9 273.4,1623.7 274.9,1622.4 276.5,1621.2 278.1,1620.0 279.6,1618.7 281.2,1617.5 282.8,1616.3 284.4,1615.0 286.0,1613.8 287.6,1612.6 289.2,1611.5 290.8,1610.3 292.4,1609.1 294.0,1607.9 295.7,1606.8 297.3,1605.6 298.9,1604.5 300.6,1603.3 302.2,1602.2 303.9,1601.1 305.6,1600.0 307.2,1598.9 308.9,1597.8 310.6,1596.7 312.3,1595.6 314.0,1594.5 315.7,1593.4 317.4,1592.3 319.1,1591.3 320.8,1590.2 322.5,1589.2 324.2,1588.1 325.9,1587.1 327.6,1586.0 329.3,1585.0 331.1,1584.0 332.8,1582.9 334.5,1581.9 336.3,1580.9 338.0,1579.9 339.8,1578.9 341.5,1577.9 343.2,1576.9 345.0,1575.9 346.7,1574.9 348.5,1573.9 350.2,1572.9 352.0,1571.9 353.7,1570.9 355.5,1569.9 357.3,1568.9 359.0,1568.0 360.8,1567.0 362.5,1566.0 364.3,1565.1 366.0,1564.1 367.8,1563.1 369.6,1562.2 371.3,1561.2 373.1,1560.2 374.9,1559.3 376.6,1558.3 378.4,1557.4 380.1,1556.4 381.9,1555.5 383.7,1554.5 385.4,1553.6 387.2,1552.6 389.0,1551.7 390.7,1550.7 392.5,1549.8 394.3,1548.9 396.0,1547.9 397.8,1547.0 399.6,1546.0 401.4,1545.1 403.1,1544.2 404.9,1543.2 406.7,1542.3 408.4,1541.4 410.2,1540.4 412.0,1539.5 413.7,1538.6 415.5,1537.7 417.3,1536.7 419.1,1535.8 420.8,1534.9 422.6,1534.0 424.4,1533.0 426.1,1532.1 427.9,1531.2 429.7,1530.3 431.5,1529.3 433.2,1528.4 435.0,1527.5 436.8,1526.6 438.6,1525.6 440.3,1524.7 442.1,1523.8 443.9,1522.9 445.7,1521.9 447.4,1521.0 449.2,1520.1 451.0,1519.2 452.7,1518.2 454.5,1517.3 456.3,1516.4 458.1,1515.5 459.8,1514.5 461.6,1513.6 463.4,1512.7 465.2,1511.8 466.9,1510.8 468.7,1509.9 470.5,1509.0 472.2,1508.0 474.0,1507.1 475.8,1506.2 477.6,1505.3 479.3,1504.3 481.1,1503.4 482.9,1502.4 484.7,1501.5 486.4,1500.6 488.2,1499.6 490.0,1498.7 491.7,1497.7 493.5,1496.8 495.3,1495.9 497.0,1494.9 498.8,1494.0 500.6,1493.0 502.3,1492.1 504.1,1491.1 505.9,1490.1 507.6,1489.2 509.4,1488.2 511.2,1487.3 512.9,1486.3 514.7,1485.3 516.5,1484.4 518.2,1483.4 520.0,1482.4 521.8,1481.5 523.5,1480.5 525.3,1479.5 527.0,1478.5 528.8,1477.5 530.5,1476.5 532.3,1475.5 534.0,1474.5 535.7,1473.4 537.4,1472.4 539.1,1471.3 540.8,1470.2 542.4,1469.1 544.1,1468.0 545.7,1466.9 547.3,1465.7 548.9,1464.6 550.5,1463.4 552.0,1462.2 553.6,1460.9 555.1,1459.7 556.7,1458.4 558.2,1457.2 559.8,1455.9 561.3,1454.6 562.8,1453.3 564.4,1452.0 565.9,1450.6 567.5,1449.3 569.1,1448.0 570.6,1446.6 572.1,1445.2 573.7,1443.8 575.1,1442.4 576.5,1440.9 577.8,1439.4 579.0,1437.8 580.2,1436.2 581.2,1434.6 582.0,1432.8 582.7,1431.1 583.3,1429.2 583.5,1427.4 583.5,1425.4 583.2,1423.5 582.6,1421.5 581.5,1419.5" stroke="#00dcdc" stroke-width="3.00"/>
<path d="M150.0,1660.4 152.0,1660.5 154.0,1660.5 156.0,1660.6 158.0,1660.6 160.0,1660.6 162.0,1660.6 164.0,1660.7 166.0,1660.7 168.0,1660.7 170.0,1660.7 172.0,1660.6 174.0,1660.6 176.1,1660.5 178.1,1660.5 180.1,1660.4 182.1,1660.3 184.1,1660.2 186.1,1660.0 188.1,1659.9 190.1,1659.7 192.1,1659.5 194.1,1659.3 196.1,1659.1 198.1,1658.8 200.1,1658.5 202.0,1658.2 204.0,1657.9 206.0,1657.5 207.9,1657.2 209.9,1656.8 211.8,1656.3 213.8,1655.9 215.7,1655.4 217.6,1654.8 219.5,1654.3 221.4,1653.7 223.3,1653.1 225.2,1652.4 227.1,1651.7 228.9,1651.0 230.8,1650.3 232.6,1649.5 234.5,1648.7 236.3,1647.9 238.1,1647.1 239.9,1646.2 241.7,1645.3 243.6,1644.4 245.3,1643.5 247.1,1642.6 248.9,1641.7 250.7,1640.8 252.5,1639.8 254.3,1638.9 256.0,1637.9 257.8,1637.0 259.6,1636.0 261.3,1635.1 263.1,1634.1 264.9,1633.1 266.6,1632.2 268.4,1631.2 270.1,1630.2 271.9,1629.3 273.7,1628.3 275.4,1627.3 277.2,1626.4 278.9,1625.4 280.7,1624.5 282.5,1623.5 284.2,1622.5 286.0,1621.6 287.8,1620.6 289.5,1619.7 291.3,1618.8 293.1,1617.8 294.9,1616.9 296.6,1616.0 298.4,1615.1 300.2,1614.1 302.0,1613.2 303.8,1612.3 305.6,1611.4 307.3,1610.5 309.1,1609.6 310.9,1608.7 312.7,1607.8 314.5,1606.9 316.3,1606.0 318.1,1605.1 319.9,1604.2 321.7,1603.3 323.5,1602.5 325.3,1601.6 327.1,1600.7 328.9,1599.8 330.7,1599.0 332.5,1598.1 334.3,1597.2 336.1,1596.4 337.9,1595.5 339.7,1594.7 341.5,1593.8 343.3,1593.0 345.2,1592.1 347.0,1591.3 348.8,1590.4 350.6,1589.6 352.4,1588.8 354.2,1587.9 356.1,1587.1 357.9,1586.3 359.7,1585.5 361.5,1584.6 363.4,1583.8 365.2,1583.0 367.0,1582.2 368.8,1581.4 370.7,1580.6 372.5,1579.7 374.3,1578.9 376.2,1578.1 378.0,1577.3 379.8,1576.5 381.7,1575.7 383.5,1574.9 385.3,1574.1 387.2,1573.3 389.0,1572.5 390.9,1571.8 392.7,1571.0 394.5,1570.2 396.4,1569.4 398.2,1568.6 400.1,1567.8 401.9,1567.1 403.8,1566.3 405.6,1565.5 407.4,1564.7 409.3,1564.0 411.1,1563.2 413.0,1562.4 414.8,1561.7 416.7,1560.9 418.5,1560.1 420.4,1559.4 422.2,1558.6 424.1,1557.8 426.0,1557.1 427.8,1556.3 429.7,1555.6 431.5,1554.8 433.4,1554.1 435.2,1553.3 437.1,1552.6 438.9,1551.8 440.8,1551.1 442.7,1550.3 444.5,1549.6 446.4,1548.8 448.2,1548.1 450.1,1547.3 452.0,1546.6 453.8,1545.8 455.7,1545.1 457.6,1544.4 459.4,1543.6 461.3,1542.9 463.1,1542.1 465.0,1541.4 466.9,1540.7 468.7,1539.9 470.6,1539.2 472.5,1538.5 474.3,1537.7 476.2,1537.0 478.1,1536.3 479.9,1535.5 481.8,1534.8 483.7,1534.1 485.5,1533.3 487.4,1532.6 489.3,1531.9 491.1,1531.2 493.0,1530.4 494.9,1529.7 496.8,1529.0 498.6,1528.2 500.5,1527.5 502.4,1526.8 504.2,1526.1 506.1,1525.3 508.0,1524.6 509.8,1523.9 511.7,1523.1 513.6,1522.4 515.5,1521.7 517.3,1521.0 519.2,1520.2 521.1,1519.5 522.9,1518.8 524.8,1518.0 526.7,1517.3 528.5,1516.6 530.4,1515.8 532.3,1515.1 534.1,1514.4 536.0,1513.6 537.9,1512.9 539.7,1512.1 541.6,1511.4 543.5,1510.6 545.3,1509.9 547.2,1509.1 549.0,1508.3 550.9,1507.5 552.7,1506.8 554.6,1506.0 556.4,1505.2 558.2,1504.4 560.1,1503.6 561.9,1502.8 563.7,1501.9 565.5,1501.1 567.4,1500.2 569.2,1499.4 571.0,1498.5 572.8,1497.7 574.6,1496.8 576.4,1495.9 578.2,1495.0 580.0,1494.1 581.8,1493.1 583.5,1492.2 585.3,1491.3 587.1,1490.3 588.8,1489.3 590.6,1488.3 592.3,1487.3 594.0,1486.3 595.8,1485.3 597.4,1484.2 599.1,1483.1 600.7,1481.9 602.3,1480.7 603.8,1479.5 605.3,1478.2 606.7,1476.8 608.1,1475.4 609.3,1473.9 610.5,1472.4 611.6,1470.7 612.7,1469.0 613.6,1467.2 614.4,1465.3 615.1,1463.3" stroke="#009a00" stroke-width="3.00"/>
<path d="M150.0,1660.4 152.0,1660.4 154.0,1660.4 156.0,1660.3 158.0,1660.3 160.0,1660.3 162.0,1660.4 164.0,1660.4 166.0,1660.4 168.0,1660.4 170.0,1660.4 172.0,1660.4 174.0,1660.4 176.0,1660.4 178.0,1660.3 180.0,1660.3 182.0,1660.2 184.0,1660.2 186.0,1660.1 188.0,1660.0 190.0,1659.8 192.0,1659.7 194.0,1659.5 196.0,1659.3 198.0,1659.1 200.0,1658.8 202.0,1658.5 203.9,1658.2 205.9,1657.9 207.9,1657.5 209.8,1657.1 211.8,1656.6 213.7,1656.2 215.6,1655.7 217.6,1655.2 219.5,1654.6 221.4,1654.0 223.3,1653.4 225.2,1652.8 227.1,1652.2 229.0,1651.5 230.9,1650.8 232.7,1650.1 234.6,1649.4 236.4,1648.6 238.3,1647.9 240.1,1647.1 242.0,1646.3 243.8,1645.5 245.6,1644.7 247.4,1643.9 249.3,1643.1 251.1,1642.2 252.9,1641.4 254.7,1640.5 256.5,1639.7 258.3,1638.8 260.1,1638.0 262.0,1637.1 263.8,1636.3 265.6,1635.4 267.4,1634.6 269.2,1633.8 271.0,1632.9 272.9,1632.1 274.7,1631.2 276.5,1630.4 278.3,1629.6 280.2,1628.8 282.0,1627.9 283.8,1627.1 285.7,1626.3 287.5,1625.5 289.3,1624.7 291.2,1623.9 293.0,1623.1 294.8,1622.3 296.7,1621.5 298.5,1620.7 300.3,1619.9 302.2,1619.1 304.0,1618.3 305.9,1617.6 307.7,1616.8 309.6,1616.0 311.4,1615.2 313.3,1614.5 315.1,1613.7 317.0,1612.9 318.8,1612.2 320.7,1611.4 322.5,1610.7 324.4,1609.9 326.2,1609.2 328.1,1608.4 329.9,1607.7 331.8,1606.9 333.7,1606.2 335.5,1605.4 337.4,1604.7 339.2,1604.0 341.1,1603.3 343.0,1602.5 344.8,1601.8 346.7,1601.1 348.6,1600.4 350.4,1599.7 352.3,1598.9 354.2,1598.2 356.1,1597.5 357.9,1596.8 359.8,1596.1 361.7,1595.4 363.5,1594.7 365.4,1594.0 367.3,1593.3 369.2,1592.7 371.1,1592.0 372.9,1591.3 374.8,1590.6 376.7,1589.9 378.6,1589.3 380.5,1588.6 382.3,1587.9 384.2,1587.2 386.1,1586.6 388.0,1585.9 389.9,1585.2 391.8,1584.6 393.7,1583.9 395.5,1583.3 397.4,1582.6 399.3,1582.0 401.2,1581.3 403.1,1580.7 405.0,1580.0 406.9,1579.4 408.8,1578.7 410.7,1578.1 412.6,1577.4 414.4,1576.8 416.3,1576.2 418.2,1575.5 420.1,1574.9 422.0,1574.2 423.9,1573.6 425.8,1573.0 427.7,1572.3 429.6,1571.7 431.5,1571.1 433.4,1570.5 435.3,1569.8 437.2,1569.2 439.1,1568.6 441.0,1568.0 442.9,1567.3 444.8,1566.7 446.7,1566.1 448.6,1565.5 450.5,1564.8 452.4,1564.2 454.3,1563.6 456.2,1563.0 458.1,1562.4 460.0,1561.7 461.9,1561.1 463.8,1560.5 465.7,1559.9 467.6,1559.3 469.5,1558.7 471.4,1558.0 473.3,1557.4 475.2,1556.8 477.1,1556.2 479.0,1555.6 480.9,1555.0 482.8,1554.3 484.7,1553.7 486.6,1553.1 488.5,1552.5 490.4,1551.9 492.3,1551.3 494.2,1550.6 496.1,1550.0 498.0,1549.4 499.9,1548.8 501.9,1548.2 503.8,1547.5 505.7,1546.9 507.6,1546.3 509.5,1545.7 511.4,1545.1 513.3,1544.4 515.2,1543.8 517.1,1543.2 519.0,1542.6 520.9,1541.9 522.8,1541.3 524.7,1540.7 526.6,1540.1 528.5,1539.4 530.4,1538.8 532.3,1538.2 534.2,1537.5 536.1,1536.9 538.0,1536.2 539.9,1535.6 541.8,1535.0 543.7,1534.3 545.6,1533.7 547.4,1533.0 549.3,1532.4 551.2,1531.8 553.1,1531.1 555.0,1530.5 556.9,1529.8 558.8,1529.1 560.7,1528.5 562.6,1527.8 564.5,1527.2 566.4,1526.5 568.3,1525.8 570.2,1525.2 572.1,1524.5 573.9,1523.8 575.8,1523.2 577.7,1522.5 579.6,1521.8 581.5,1521.1 583.4,1520.5 585.3,1519.8 587.2,1519.1 589.0,1518.4 590.9,1517.7 592.8,1517.0 594.7,1516.3 596.6,1515.6 598.5,1514.9 600.3,1514.2 602.2,1513.5 604.1,1512.8 605.9,1512.1 607.8,1511.3 609.6,1510.5 611.5,1509.7 613.3,1508.9 615.1,1508.0 616.8,1507.1 618.5,1506.2 620.2,1505.2 621.9,1504.1 623.5,1503.0 625.1,1501.8 626.6,1500.5 628.1,1499.2 629.5,1497.7 630.8,1496.2 632.1,1494.6 633.2,1493.0 634.3,1491.2" stroke="#e2e214" stroke-width="3.00"/>
<path d="M150.0,1660.4 152.0,1660.4 154.0,1660.3 156.0,1660.3 157.9,1660.3 159.9,1660.3 161.9,1660.3 163.9,1660.3 165.9,1660.3 167.9,1660.3 170.0,1660.3 172.0,1660.3 174.0,1660.3 176.0,1660.3 178.0,1660.3 180.0,1660.2 182.0,1660.2 184.0,1660.1 186.0,1660.1 188.1,1660.0 190.1,1659.9 192.1,1659.8 194.1,1659.6 196.1,1659.5 198.1,1659.3 200.1,1659.1 202.1,1658.8 204.0,1658.6 206.0,1658.3 208.0,1657.9 209.9,1657.6 211.9,1657.1 213.8,1656.7 215.8,1656.1 217.7,1655.5 219.5,1654.9 221.4,1654.2 223.3,1653.5 225.2,1652.8 227.0,1652.1 228.9,1651.4 230.8,1650.7 232.6,1650.0 234.5,1649.3 236.4,1648.6 238.3,1647.9 240.1,1647.2 242.0,1646.5 243.9,1645.8 245.7,1645.1 247.6,1644.4 249.5,1643.7 251.4,1643.0 253.2,1642.3 255.1,1641.6 257.0,1640.9 258.8,1640.1 260.7,1639.4 262.6,1638.7 264.4,1638.0 266.3,1637.3 268.2,1636.6 270.1,1635.9 271.9,1635.2 273.8,1634.5 275.7,1633.8 277.5,1633.1 279.4,1632.4 281.3,1631.7 283.2,1631.0 285.0,1630.2 286.9,1629.5 288.8,1628.8 290.7,1628.1 292.5,1627.4 294.4,1626.7 296.3,1626.0 298.2,1625.4 300.0,1624.7 301.9,1624.0 303.8,1623.3 305.7,1622.6 307.5,1621.9 309.4,1621.2 311.3,1620.5 313.2,1619.8 315.1,1619.1 316.9,1618.5 318.8,1617.8 320.7,1617.1 322.6,1616.4 324.5,1615.7 326.4,1615.1 328.2,1614.4 330.1,1613.7 332.0,1613.1 333.9,1612.4 335.8,1611.7 337.7,1611.1 339.6,1610.4 341.5,1609.8 343.3,1609.1 345.2,1608.5 347.1,1607.8 349.0,1607.2 350.9,1606.5 352.8,1605.9 354.7,1605.2 356.6,1604.6 358.5,1604.0 360.4,1603.4 362.3,1602.7 364.2,1602.1 366.1,1601.5 368.0,1600.9 369.9,1600.3 371.8,1599.6 373.7,1599.0 375.6,1598.4 377.5,1597.8 379.4,1597.2 381.4,1596.6 383.3,1596.0 385.2,1595.4 387.1,1594.9 389.0,1594.3 390.9,1593.7 392.8,1593.1 394.7,1592.5 396.7,1591.9 398.6,1591.4 400.5,1590.8 402.4,1590.2 404.3,1589.6 406.2,1589.1 408.2,1588.5 410.1,1588.0 412.0,1587.4 413.9,1586.8 415.8,1586.3 417.8,1585.7 419.7,1585.2 421.6,1584.6 423.5,1584.1 425.5,1583.5 427.4,1583.0 429.3,1582.4 431.2,1581.9 433.2,1581.3 435.1,1580.8 437.0,1580.2 438.9,1579.7 440.9,1579.2 442.8,1578.6 444.7,1578.1 446.7,1577.6 448.6,1577.0 450.5,1576.5 452.4,1576.0 454.4,1575.4 456.3,1574.9 458.2,1574.4 460.2,1573.8 462.1,1573.3 464.0,1572.8 466.0,1572.3 467.9,1571.7 469.8,1571.2 471.8,1570.7 473.7,1570.2 475.6,1569.7 477.6,1569.1 479.5,1568.6 481.4,1568.1 483.4,1567.6 485.3,1567.0 487.2,1566.5 489.1,1566.0 491.1,1565.5 493.0,1565.0 494.9,1564.4 496.9,1563.9 498.8,1563.4 500.7,1562.9 502.7,1562.4 504.6,1561.9 506.5,1561.3 508.5,1560.8 510.4,1560.3 512.3,1559.8 514.3,1559.3 516.2,1558.7 518.1,1558.2 520.1,1557.7 522.0,1557.2 523.9,1556.6 525.8,1556.1 527.8,1555.6 529.7,1555.1 531.6,1554.5 533.6,1554.0 535.5,1553.5 537.4,1553.0 539.3,1552.4 541.3,1551.9 543.2,1551.4 545.1,1550.8 547.1,1550.3 549.0,1549.8 550.9,1549.2 552.8,1548.7 554.8,1548.2 556.7,1547.6 558.6,1547.1 560.5,1546.5 562.4,1546.0 564.4,1545.4 566.3,1544.9 568.2,1544.3 570.1,1543.8 572.0,1543.2 574.0,1542.6 575.9,1542.1 577.8,1541.5 579.7,1540.9 581.6,1540.3 583.5,1539.7 585.4,1539.1 587.3,1538.5 589.2,1537.9 591.1,1537.3 593.0,1536.7 594.9,1536.0 596.8,1535.4 598.7,1534.8 600.6,1534.1 602.5,1533.4 604.4,1532.8 606.3,1532.1 608.2,1531.4 610.1,1530.7 612.0,1530.0 613.9,1529.3 615.7,1528.6 617.6,1527.9 619.5,1527.1 621.3,1526.3 623.1,1525.5 625.0,1524.7 626.8,1523.9 628.6,1523.0 630.4,1522.1 632.1,1521.2 633.9,1520.2 635.6,1519.3 637.4,1518.3 639.0,1517.2 640.7,1516.2 642.4,1515.0 644.0,1513.9 645.6,1512.7 647.2,1511.5" stroke="#ff9900" stroke-width="3.00"/>
<path d="M150.0,1660.4 152.0,1660.4 154.0,1660.3 156.0,1660.3 158.0,1660.3 160.0,1660.3 162.0,1660.3 164.0,1660.3 166.0,1660.3 168.0,1660.3 170.0,1660.3 172.0,1660.3 174.0,1660.3 176.1,1660.3 178.1,1660.3 180.1,1660.3 182.1,1660.2 184.1,1660.2 186.1,1660.1 188.2,1660.0 190.2,1659.9 192.2,1659.8 194.2,1659.7 196.2,1659.5 198.2,1659.3 200.2,1659.1 202.2,1658.8 204.2,1658.6 206.1,1658.3 208.1,1657.9 210.1,1657.5 212.0,1657.1 214.0,1656.6 215.9,1656.1 217.8,1655.6 219.7,1655.0 221.6,1654.3 223.5,1653.7 225.4,1653.0 227.3,1652.4 229.2,1651.7 231.1,1651.1 233.0,1650.4 234.9,1649.8 236.8,1649.2 238.7,1648.5 240.5,1647.9 242.4,1647.2 244.3,1646.6 246.2,1645.9 248.1,1645.3 250.0,1644.6 251.9,1644.0 253.8,1643.3 255.7,1642.6 257.6,1642.0 259.5,1641.3 261.4,1640.7 263.3,1640.1 265.2,1639.4 267.1,1638.8 269.0,1638.1 270.9,1637.5 272.8,1636.8 274.7,1636.2 276.6,1635.5 278.5,1634.9 280.4,1634.2 282.3,1633.6 284.2,1633.0 286.1,1632.3 288.0,1631.7 289.9,1631.0 291.8,1630.4 293.7,1629.8 295.6,1629.1 297.5,1628.5 299.4,1627.9 301.3,1627.2 303.2,1626.6 305.1,1626.0 307.0,1625.3 308.9,1624.7 310.9,1624.1 312.8,1623.5 314.7,1622.9 316.6,1622.2 318.5,1621.6 320.4,1621.0 322.3,1620.4 324.2,1619.8 326.1,1619.2 328.0,1618.6 330.0,1618.0 331.9,1617.4 333.8,1616.8 335.7,1616.2 337.6,1615.6 339.5,1615.0 341.5,1614.4 343.4,1613.8 345.3,1613.2 347.2,1612.6 349.1,1612.1 351.1,1611.5 353.0,1610.9 354.9,1610.3 356.8,1609.8 358.7,1609.2 360.7,1608.7 362.6,1608.1 364.5,1607.5 366.5,1607.0 368.4,1606.4 370.3,1605.9 372.2,1605.3 374.2,1604.8 376.1,1604.3 378.0,1603.7 380.0,1603.2 381.9,1602.7 383.8,1602.1 385.8,1601.6 387.7,1601.1 389.6,1600.6 391.6,1600.1 393.5,1599.5 395.4,1599.0 397.4,1598.5 399.3,1598.0 401.3,1597.5 403.2,1597.0 405.1,1596.5 407.1,1596.0 409.0,1595.5 411.0,1595.0 412.9,1594.5 414.9,1594.0 416.8,1593.5 418.7,1593.0 420.7,1592.5 422.6,1592.1 424.6,1591.6 426.5,1591.1 428.5,1590.6 430.4,1590.1 432.4,1589.6 434.3,1589.2 436.3,1588.7 438.2,1588.2 440.2,1587.7 442.1,1587.3 444.1,1586.8 446.0,1586.3 448.0,1585.8 449.9,1585.4 451.9,1584.9 453.8,1584.4 455.8,1584.0 457.7,1583.5 459.7,1583.0 461.6,1582.6 463.6,1582.1 465.5,1581.7 467.5,1581.2 469.4,1580.7 471.4,1580.3 473.3,1579.8 475.3,1579.3 477.2,1578.9 479.2,1578.4 481.1,1578.0 483.1,1577.5 485.0,1577.0 487.0,1576.6 488.9,1576.1 490.9,1575.7 492.8,1575.2 494.8,1574.7 496.8,1574.3 498.7,1573.8 500.7,1573.4 502.6,1572.9 504.6,1572.4 506.5,1572.0 508.5,1571.5 510.4,1571.1 512.4,1570.6 514.3,1570.1 516.3,1569.7 518.2,1569.2 520.2,1568.7 522.1,1568.3 524.1,1567.8 526.0,1567.3 528.0,1566.9 529.9,1566.4 531.9,1565.9 533.8,1565.4 535.8,1565.0 537.7,1564.5 539.7,1564.0 541.6,1563.5 543.6,1563.1 545.5,1562.6 547.5,1562.1 549.4,1561.6 551.4,1561.1 553.3,1560.6 555.2,1560.2 557.2,1559.7 559.1,1559.2 561.1,1558.7 563.0,1558.2 565.0,1557.7 566.9,1557.2 568.8,1556.7 570.8,1556.2 572.7,1555.7 574.7,1555.2 576.6,1554.7 578.6,1554.2 580.5,1553.7 582.4,1553.2 584.4,1552.6 586.3,1552.1 588.2,1551.6 590.2,1551.1 592.1,1550.5 594.0,1550.0 596.0,1549.5 597.9,1549.0 599.8,1548.4 601.8,1547.9 603.7,1547.3 605.6,1546.8 607.6,1546.2 609.5,1545.7 611.4,1545.1 613.3,1544.6 615.3,1544.0 617.2,1543.4 619.1,1542.8 621.0,1542.2 622.9,1541.6 624.8,1541.0 626.7,1540.4 628.6,1539.7 630.5,1539.1 632.4,1538.4 634.3,1537.7 636.1,1536.9 638.0,1536.2 639.8,1535.4 641.7,1534.6 643.5,1533.8 645.3,1533.0 647.1,1532.1 648.9,1531.2 650.7,1530.3 652.5,1529.3 654.2,1528.3 656.0,1527.3" stroke="#ff0000" stroke-width="3.00"/>
</g>
<path d="M273.92,1660.40 v-14.80 M273.92,1216.00 v14.80 M409.63,1660.40 v-14.80 M409.63,1216.00 v14.80 M545.35,1660.40 v-14.80 M545.35,1216.00 v14.80 M681.07,1660.40 v-14.80 M681.07,1216.00 v14.80 M816.78,1660.40 v-14.80 M816.78,1216.00 v14.80 M138.20,1604.85 h14.80 M952.50,1604.85 h-14.80 M138.20,1549.30 h14.80 M952.50,1549.30 h-14.80 M138.20,1493.75 h14.80 M952.50,1493.75 h-14.80 M138.20,1438.20 h14.80 M952.50,1438.20 h-14.80 M138.20,1382.65 h14.80 M952.50,1382.65 h-14.80 M138.20,1327.10 h14.80 M952.50,1327.10 h-14.80 M138.20,1271.55 h14.80 M952.50,1271.55 h-14.80" stroke="#000" stroke-width="2.70"/>
<rect x="138.20" y="1216.00" width="814.30" height="444.40" stroke="#000" stroke-width="3.30"/>
<circle cx="401.60" cy="1310.80" r="6.70" fill="#a100ab" stroke="none"/>
<circle cx="527.70" cy="1377.80" r="6.70" fill="#0808ff" stroke="none"/>
<circle cx="583.90" cy="1427.80" r="6.70" fill="#00dcdc" stroke="none"/>
<circle cx="615.10" cy="1463.30" r="6.70" fill="#009a00" stroke="none"/>
<text x="696.74" y="1262.80" font-size="35.30" textLength="136.26" lengthAdjust="spacingAndGlyphs">LL4(0,0)</text>
<path d="M853.3,1250.30 H910.8" stroke="#a100ab" stroke-width="3.00"/>
<text x="654.67" y="1301.00" font-size="35.30" textLength="178.33" lengthAdjust="spacingAndGlyphs">LL4(100,0)</text>
<path d="M853.3,1288.50 H910.8" stroke="#0808ff" stroke-width="3.00"/>
<text x="654.67" y="1339.20" font-size="35.30" textLength="178.33" lengthAdjust="spacingAndGlyphs">LL4(200,0)</text>
<path d="M853.3,1326.70 H910.8" stroke="#00dcdc" stroke-width="3.00"/>
<text x="654.67" y="1377.40" font-size="35.30" textLength="178.33" lengthAdjust="spacingAndGlyphs">LL4(300,0)</text>
<path d="M853.3,1364.90 H910.8" stroke="#009a00" stroke-width="3.00"/>
<text x="654.67" y="1415.60" font-size="35.30" textLength="178.33" lengthAdjust="spacingAndGlyphs">LL4(400,0)</text>
<path d="M853.3,1403.10 H910.8" stroke="#e2e214" stroke-width="3.00"/>
<text x="654.67" y="1453.80" font-size="35.30" textLength="178.33" lengthAdjust="spacingAndGlyphs">LL4(500,0)</text>
<path d="M853.3,1441.30 H910.8" stroke="#ff9900" stroke-width="3.00"/>
<text x="654.67" y="1492.00" font-size="35.30" textLength="178.33" lengthAdjust="spacingAndGlyphs">LL4(600,0)</text>
<path d="M853.3,1479.50 H910.8" stroke="#ff0000" stroke-width="3.00"/>
<rect x="701.5" y="1569.85" width="196.1" height="49.3" fill="#fff" stroke="#000" stroke-width="2.2"/>
<text x="709.79" y="1610.76" font-size="47.31" textLength="183.42" lengthAdjust="spacingAndGlyphs" font-weight="bold" stroke="#000" stroke-width="1.68">KIDS-D</text>
<text x="179.50" y="1272.00" font-size="33.08" textLength="48.32" lengthAdjust="spacingAndGlyphs" font-weight="bold" stroke="#000" stroke-width="1.20">(c)</text>
<text x="240.46" y="1272.00" font-size="33.08" textLength="133.96" lengthAdjust="spacingAndGlyphs" font-weight="bold" stroke="#000" stroke-width="1.20">Central</text>
<text x="387.06" y="1272.00" font-size="33.08" textLength="143.91" lengthAdjust="spacingAndGlyphs" font-weight="bold" stroke="#000" stroke-width="1.20">fraction</text>
<text x="543.62" y="1272.00" font-size="33.08" textLength="35.68" lengthAdjust="spacingAndGlyphs" font-weight="bold" stroke="#000" stroke-width="1.20">of</text>
<text x="591.93" y="1272.00" font-size="33.08" textLength="24.23" lengthAdjust="spacingAndGlyphs" font-weight="bold" stroke="#000" stroke-width="1.20">Λ</text>
<text x="95.96" y="1672.60" font-size="35.30" textLength="21.04" lengthAdjust="spacingAndGlyphs">0</text>
<text x="64.42" y="1617.05" font-size="35.30" textLength="52.58" lengthAdjust="spacingAndGlyphs">0.1</text>
<text x="64.42" y="1561.50" font-size="35.30" textLength="52.58" lengthAdjust="spacingAndGlyphs">0.2</text>
<text x="64.42" y="1505.95" font-size="35.30" textLength="52.58" lengthAdjust="spacingAndGlyphs">0.3</text>
<text x="64.42" y="1450.40" font-size="35.30" textLength="52.58" lengthAdjust="spacingAndGlyphs">0.4</text>
<text x="64.42" y="1394.85" font-size="35.30" textLength="52.58" lengthAdjust="spacingAndGlyphs">0.5</text>
<text x="64.42" y="1339.30" font-size="35.30" textLength="52.58" lengthAdjust="spacingAndGlyphs">0.6</text>
<text x="64.42" y="1283.75" font-size="35.30" textLength="52.58" lengthAdjust="spacingAndGlyphs">0.7</text>
<text x="64.42" y="1228.20" font-size="35.30" textLength="52.58" lengthAdjust="spacingAndGlyphs">0.8</text>
<text x="116.51" y="1711.00" font-size="35.30" textLength="52.58" lengthAdjust="spacingAndGlyphs">1.4</text>
<text x="252.23" y="1711.00" font-size="35.30" textLength="52.58" lengthAdjust="spacingAndGlyphs">1.6</text>
<text x="387.94" y="1711.00" font-size="35.30" textLength="52.58" lengthAdjust="spacingAndGlyphs">1.8</text>
<text x="539.43" y="1711.00" font-size="35.30" textLength="21.04" lengthAdjust="spacingAndGlyphs">2</text>
<text x="659.38" y="1711.00" font-size="35.30" textLength="52.58" lengthAdjust="spacingAndGlyphs">2.2</text>
<text x="795.09" y="1711.00" font-size="35.30" textLength="52.58" lengthAdjust="spacingAndGlyphs">2.4</text>
<text x="499.85" y="1761.20" font-size="35.30" textLength="68.19" lengthAdjust="spacingAndGlyphs">M/M</text>
<circle cx="579.04" cy="1759.70" r="7.70" stroke="#000" stroke-width="2.10"/>
<rect x="577.14" y="1758.30" width="3.80" height="2.80" fill="#000" stroke="none"/>
<g transform="translate(31.7 1438.2) rotate(-90)">
<text x="-30.87" y="0.00" font-size="35.30" textLength="20.20" lengthAdjust="spacingAndGlyphs">Y</text>
<text x="-10.51" y="7.70" font-size="28.24" textLength="41.05" lengthAdjust="spacingAndGlyphs">Λ,c</text>
</g>
</svg></body></html>
